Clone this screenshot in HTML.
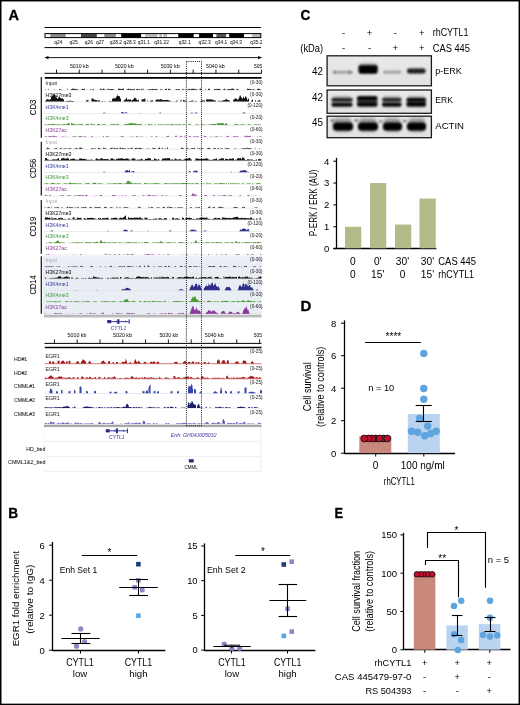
<!DOCTYPE html>
<html><head><meta charset="utf-8"><title>Figure</title>
<style>
html,body{margin:0;padding:0;background:#fff;width:520px;height:705px;overflow:hidden}
svg{display:block;filter:blur(0.35px)}
svg text{font-family:"Liberation Sans", sans-serif}
</style></head><body>
<svg width="520" height="705" viewBox="0 0 520 705" font-family="Liberation Sans, sans-serif">
<rect width="520" height="705" fill="#fff"/>
<text x="8.4" y="20" font-size="14.4" stroke="#000" stroke-width="0.3" font-weight="bold" textLength="10.53" lengthAdjust="spacingAndGlyphs">A</text>
<line x1="44.5" y1="27.5" x2="261" y2="27.5" stroke="#000" stroke-width="1"/>
<line x1="44.5" y1="47.6" x2="261" y2="47.6" stroke="#000" stroke-width="1"/>
<rect x="45" y="33.6" width="5.3" height="4.1" fill="#fff"/>
<rect x="50.3" y="33.6" width="15.5" height="4.1" fill="#8a8a8a"/>
<rect x="65.8" y="33.6" width="15.2" height="4.1" fill="#fff"/>
<rect x="81" y="33.6" width="15.9" height="4.1" fill="#444"/>
<rect x="96.9" y="33.6" width="7.4" height="4.1" fill="#fff"/>
<rect x="104.3" y="33.6" width="11.6" height="4.1" fill="#8a8a8a"/>
<rect x="115.9" y="33.6" width="5.3" height="4.1" fill="#fff"/>
<rect x="121.2" y="33.6" width="20.1" height="4.1" fill="#000"/>
<rect x="141.3" y="33.6" width="3.8" height="4.1" fill="#fff"/>
<rect x="145.1" y="33.6" width="12.6" height="4.1" fill="#bbb"/>
<rect x="157.7" y="33.6" width="1.6" height="4.1" fill="#fff"/>
<rect x="159.3" y="33.6" width="2.9" height="4.1" fill="#bbb"/>
<rect x="162.2" y="33.6" width="1.1" height="4.1" fill="#fff"/>
<rect x="163.3" y="33.6" width="4" height="4.1" fill="#bbb"/>
<rect x="167.3" y="33.6" width="11" height="4.1" fill="#fff"/>
<rect x="178.3" y="33.6" width="15.5" height="4.1" fill="#000"/>
<rect x="193.8" y="33.6" width="5.3" height="4.1" fill="#fff"/>
<rect x="199.1" y="33.6" width="13.9" height="4.1" fill="#000"/>
<rect x="213" y="33.6" width="3.4" height="4.1" fill="#fff"/>
<rect x="216.4" y="33.6" width="9.9" height="4.1" fill="#555"/>
<rect x="226.3" y="33.6" width="2.9" height="4.1" fill="#fff"/>
<rect x="229.2" y="33.6" width="14.8" height="4.1" fill="#000"/>
<rect x="244" y="33.6" width="8.2" height="4.1" fill="#fff"/>
<rect x="252.2" y="33.6" width="8.6" height="4.1" fill="#bbb"/>
<rect x="45" y="33.6" width="215.8" height="4" fill="none" stroke="#000" stroke-width="1"/>
<text x="58.4" y="44.34" font-size="5.4" text-anchor="middle" fill="#222" stroke="#222" stroke-width="0.05" textLength="8.11" lengthAdjust="spacingAndGlyphs">q24</text>
<text x="73.6" y="44.34" font-size="5.4" text-anchor="middle" fill="#222" stroke="#222" stroke-width="0.05" textLength="8.11" lengthAdjust="spacingAndGlyphs">q25</text>
<text x="88.8" y="44.34" font-size="5.4" text-anchor="middle" fill="#222" stroke="#222" stroke-width="0.05" textLength="8.11" lengthAdjust="spacingAndGlyphs">q26</text>
<text x="100" y="44.34" font-size="5.4" text-anchor="middle" fill="#222" stroke="#222" stroke-width="0.05" textLength="8.11" lengthAdjust="spacingAndGlyphs">q27</text>
<text x="115.9" y="44.34" font-size="5.4" text-anchor="middle" fill="#222" stroke="#222" stroke-width="0.05" textLength="12.16" lengthAdjust="spacingAndGlyphs">q28.2</text>
<text x="129.7" y="44.34" font-size="5.4" text-anchor="middle" fill="#222" stroke="#222" stroke-width="0.05" textLength="12.16" lengthAdjust="spacingAndGlyphs">q28.3</text>
<text x="143.9" y="44.34" font-size="5.4" text-anchor="middle" fill="#222" stroke="#222" stroke-width="0.05" textLength="12.16" lengthAdjust="spacingAndGlyphs">q31.1</text>
<text x="161.6" y="44.34" font-size="5.4" text-anchor="middle" fill="#222" stroke="#222" stroke-width="0.05" textLength="14.86" lengthAdjust="spacingAndGlyphs">q31.22</text>
<text x="184.8" y="44.34" font-size="5.4" text-anchor="middle" fill="#222" stroke="#222" stroke-width="0.05" textLength="12.16" lengthAdjust="spacingAndGlyphs">q32.1</text>
<text x="204.6" y="44.34" font-size="5.4" text-anchor="middle" fill="#222" stroke="#222" stroke-width="0.05" textLength="12.16" lengthAdjust="spacingAndGlyphs">q32.3</text>
<text x="221.2" y="44.34" font-size="5.4" text-anchor="middle" fill="#222" stroke="#222" stroke-width="0.05" textLength="12.16" lengthAdjust="spacingAndGlyphs">q34.1</text>
<text x="236" y="44.34" font-size="5.4" text-anchor="middle" fill="#222" stroke="#222" stroke-width="0.05" textLength="12.16" lengthAdjust="spacingAndGlyphs">q34.3</text>
<text x="256.4" y="44.34" font-size="5.4" text-anchor="middle" fill="#222" stroke="#222" stroke-width="0.05" textLength="12.16" lengthAdjust="spacingAndGlyphs">q35.2</text>
<line x1="46" y1="57.6" x2="260.5" y2="57.6" stroke="#000" stroke-width="0.9"/>
<path d="M44.5 57.6 L48.5 55.9 L48.5 59.3 Z" fill="#000"/>
<path d="M262 57.6 L258 55.9 L258 59.3 Z" fill="#000"/>
<line x1="44.5" y1="73.3" x2="261.5" y2="73.3" stroke="#000" stroke-width="1"/>
<line x1="56.5" y1="69.6" x2="56.5" y2="73.3" stroke="#000" stroke-width="0.9"/>
<line x1="79.28" y1="69.6" x2="79.28" y2="73.3" stroke="#000" stroke-width="0.9"/>
<line x1="102.06" y1="69.6" x2="102.06" y2="73.3" stroke="#000" stroke-width="0.9"/>
<line x1="124.84" y1="69.6" x2="124.84" y2="73.3" stroke="#000" stroke-width="0.9"/>
<line x1="147.62" y1="69.6" x2="147.62" y2="73.3" stroke="#000" stroke-width="0.9"/>
<line x1="170.4" y1="69.6" x2="170.4" y2="73.3" stroke="#000" stroke-width="0.9"/>
<line x1="193.18" y1="69.6" x2="193.18" y2="73.3" stroke="#000" stroke-width="0.9"/>
<line x1="215.96" y1="69.6" x2="215.96" y2="73.3" stroke="#000" stroke-width="0.9"/>
<line x1="238.74" y1="69.6" x2="238.74" y2="73.3" stroke="#000" stroke-width="0.9"/>
<line x1="261.52" y1="69.6" x2="261.52" y2="73.3" stroke="#000" stroke-width="0.9"/>
<text x="79.3" y="67.66" font-size="6" text-anchor="middle" fill="#222" stroke="#222" stroke-width="0.05" textLength="18.8" lengthAdjust="spacingAndGlyphs">5010 kb</text>
<text x="124.3" y="67.66" font-size="6" text-anchor="middle" fill="#222" stroke="#222" stroke-width="0.05" textLength="18.8" lengthAdjust="spacingAndGlyphs">5020 kb</text>
<text x="170.2" y="67.66" font-size="6" text-anchor="middle" fill="#222" stroke="#222" stroke-width="0.05" textLength="18.8" lengthAdjust="spacingAndGlyphs">5030 kb</text>
<text x="215.4" y="67.66" font-size="6" text-anchor="middle" fill="#222" stroke="#222" stroke-width="0.05" textLength="18.8" lengthAdjust="spacingAndGlyphs">5040 kb</text>
<text x="262.2" y="67.66" font-size="6" text-anchor="end" fill="#222" stroke="#222" stroke-width="0.05" textLength="8.2" lengthAdjust="spacingAndGlyphs">505</text>
<line x1="44.8" y1="77.8" x2="261.5" y2="77.8" stroke="#000" stroke-width="1.7"/>
<rect x="42.6" y="256.3" width="218.9" height="58.5" fill="#e9eef5"/>
<line x1="41.3" y1="77" x2="41.3" y2="137.8" stroke="#111" stroke-width="1.2"/>
<text transform="translate(33,107.4) rotate(-90)" x="0" y="3.1" font-size="8.6" text-anchor="middle" stroke="#000" stroke-width="0.05" textLength="15.6" lengthAdjust="spacingAndGlyphs">CD3</text>
<line x1="44.5" y1="90.2" x2="261.5" y2="90.2" stroke="#dcdcdc" stroke-width="0.6"/>
<text x="45.5" y="85.17" font-size="5.2" fill="#444" stroke="#444" stroke-width="0.05">Input</text>
<text x="262.6" y="83.89" font-size="4.7" text-anchor="end" fill="#333" stroke="#333" stroke-width="0.05">(0-30)</text>
<line x1="44.5" y1="101.9" x2="261.5" y2="101.9" stroke="#dcdcdc" stroke-width="0.6"/>
<text x="45.5" y="96.87" font-size="5.2" fill="#222" stroke="#222" stroke-width="0.05">H3K27me3</text>
<text x="262.6" y="95.59" font-size="4.7" text-anchor="end" fill="#333" stroke="#333" stroke-width="0.05">(0-30)</text>
<line x1="44.5" y1="113.6" x2="261.5" y2="113.6" stroke="#dcdcdc" stroke-width="0.6"/>
<text x="45.5" y="108.57" font-size="5.2" fill="#4a4aa2" stroke="#4a4aa2" stroke-width="0.05">H3K4me1</text>
<text x="262.6" y="107.29" font-size="4.7" text-anchor="end" fill="#333" stroke="#333" stroke-width="0.05">(0-120)</text>
<line x1="44.5" y1="125.3" x2="261.5" y2="125.3" stroke="#dcdcdc" stroke-width="0.6"/>
<text x="45.5" y="120.27" font-size="5.2" fill="#55a055" stroke="#55a055" stroke-width="0.05">H3K4me3</text>
<text x="262.6" y="118.99" font-size="4.7" text-anchor="end" fill="#333" stroke="#333" stroke-width="0.05">(0-20)</text>
<line x1="44.5" y1="137" x2="261.5" y2="137" stroke="#dcdcdc" stroke-width="0.6"/>
<text x="45.5" y="131.97" font-size="5.2" fill="#964ea4" stroke="#964ea4" stroke-width="0.05">H3K27ac</text>
<text x="262.6" y="130.69" font-size="4.7" text-anchor="end" fill="#333" stroke="#333" stroke-width="0.05">(0-60)</text>
<line x1="41.3" y1="141.8" x2="41.3" y2="195.4" stroke="#111" stroke-width="1.2"/>
<text transform="translate(33,168.5) rotate(-90)" x="0" y="3.1" font-size="8.6" text-anchor="middle" stroke="#000" stroke-width="0.05" textLength="19.6" lengthAdjust="spacingAndGlyphs">CD56</text>
<line x1="44.5" y1="149.2" x2="261.5" y2="149.2" stroke="#dcdcdc" stroke-width="0.6"/>
<text x="45.5" y="144.17" font-size="5.2" fill="#b5b5b5" stroke="#b5b5b5" stroke-width="0.05">Input</text>
<text x="262.6" y="142.89" font-size="4.7" text-anchor="end" fill="#333" stroke="#333" stroke-width="0.05">(0-30)</text>
<line x1="44.5" y1="160.9" x2="261.5" y2="160.9" stroke="#dcdcdc" stroke-width="0.6"/>
<text x="45.5" y="155.87" font-size="5.2" fill="#222" stroke="#222" stroke-width="0.05">H3K27me3</text>
<text x="262.6" y="154.59" font-size="4.7" text-anchor="end" fill="#333" stroke="#333" stroke-width="0.05">(0-30)</text>
<line x1="44.5" y1="172.6" x2="261.5" y2="172.6" stroke="#dcdcdc" stroke-width="0.6"/>
<text x="45.5" y="167.57" font-size="5.2" fill="#4a4aa2" stroke="#4a4aa2" stroke-width="0.05">H3K4me1</text>
<text x="262.6" y="166.29" font-size="4.7" text-anchor="end" fill="#333" stroke="#333" stroke-width="0.05">(0-120)</text>
<line x1="44.5" y1="184.3" x2="261.5" y2="184.3" stroke="#dcdcdc" stroke-width="0.6"/>
<text x="45.5" y="179.27" font-size="5.2" fill="#55a055" stroke="#55a055" stroke-width="0.05">H3K4me3</text>
<text x="262.6" y="177.99" font-size="4.7" text-anchor="end" fill="#333" stroke="#333" stroke-width="0.05">(0-20)</text>
<line x1="44.5" y1="196" x2="261.5" y2="196" stroke="#dcdcdc" stroke-width="0.6"/>
<text x="45.5" y="190.97" font-size="5.2" fill="#964ea4" stroke="#964ea4" stroke-width="0.05">H3K27ac</text>
<text x="262.6" y="189.69" font-size="4.7" text-anchor="end" fill="#333" stroke="#333" stroke-width="0.05">(0-60)</text>
<line x1="41.3" y1="200" x2="41.3" y2="253.7" stroke="#111" stroke-width="1.2"/>
<text transform="translate(33,226.7) rotate(-90)" x="0" y="3.1" font-size="8.6" text-anchor="middle" stroke="#000" stroke-width="0.05" textLength="19.8" lengthAdjust="spacingAndGlyphs">CD19</text>
<line x1="44.5" y1="208.2" x2="261.5" y2="208.2" stroke="#dcdcdc" stroke-width="0.6"/>
<text x="45.5" y="203.17" font-size="5.2" fill="#b5b5b5" stroke="#b5b5b5" stroke-width="0.05">Input</text>
<text x="262.6" y="201.89" font-size="4.7" text-anchor="end" fill="#333" stroke="#333" stroke-width="0.05">(0-30)</text>
<line x1="44.5" y1="219.9" x2="261.5" y2="219.9" stroke="#dcdcdc" stroke-width="0.6"/>
<text x="45.5" y="214.87" font-size="5.2" fill="#222" stroke="#222" stroke-width="0.05">H3K27me3</text>
<text x="262.6" y="213.59" font-size="4.7" text-anchor="end" fill="#333" stroke="#333" stroke-width="0.05">(0-30)</text>
<line x1="44.5" y1="231.6" x2="261.5" y2="231.6" stroke="#dcdcdc" stroke-width="0.6"/>
<text x="45.5" y="226.57" font-size="5.2" fill="#4a4aa2" stroke="#4a4aa2" stroke-width="0.05">H3K4me1</text>
<text x="262.6" y="225.29" font-size="4.7" text-anchor="end" fill="#333" stroke="#333" stroke-width="0.05">(0-120)</text>
<line x1="44.5" y1="243.3" x2="261.5" y2="243.3" stroke="#dcdcdc" stroke-width="0.6"/>
<text x="45.5" y="238.27" font-size="5.2" fill="#55a055" stroke="#55a055" stroke-width="0.05">H3K4me3</text>
<text x="262.6" y="236.99" font-size="4.7" text-anchor="end" fill="#333" stroke="#333" stroke-width="0.05">(0-20)</text>
<line x1="44.5" y1="255" x2="261.5" y2="255" stroke="#dcdcdc" stroke-width="0.6"/>
<text x="45.5" y="249.97" font-size="5.2" fill="#964ea4" stroke="#964ea4" stroke-width="0.05">H3K27ac</text>
<text x="262.6" y="248.69" font-size="4.7" text-anchor="end" fill="#333" stroke="#333" stroke-width="0.05">(0-60)</text>
<line x1="41.3" y1="256.3" x2="41.3" y2="313.8" stroke="#111" stroke-width="1.2"/>
<text transform="translate(33,284.9) rotate(-90)" x="0" y="3.1" font-size="8.6" text-anchor="middle" stroke="#000" stroke-width="0.05" textLength="19.4" lengthAdjust="spacingAndGlyphs">CD14</text>
<line x1="44.5" y1="267.2" x2="261.5" y2="267.2" stroke="#dcdcdc" stroke-width="0.6"/>
<text x="45.5" y="262.17" font-size="5.2" fill="#b5b5b5" stroke="#b5b5b5" stroke-width="0.05">Input</text>
<text x="262.6" y="260.89" font-size="4.7" text-anchor="end" fill="#333" stroke="#333" stroke-width="0.05">(0-30)</text>
<line x1="44.5" y1="278.9" x2="261.5" y2="278.9" stroke="#dcdcdc" stroke-width="0.6"/>
<text x="45.5" y="273.87" font-size="5.2" fill="#222" stroke="#222" stroke-width="0.05">H3K27me3</text>
<text x="262.6" y="272.59" font-size="4.7" text-anchor="end" fill="#333" stroke="#333" stroke-width="0.05">(0-30)</text>
<line x1="44.5" y1="290.6" x2="261.5" y2="290.6" stroke="#dcdcdc" stroke-width="0.6"/>
<text x="45.5" y="285.57" font-size="5.2" fill="#4a4aa2" stroke="#4a4aa2" stroke-width="0.05">H3K4me1</text>
<text x="262.6" y="284.29" font-size="4.7" text-anchor="end" fill="#333" stroke="#333" stroke-width="0.05">(0-120)</text>
<line x1="44.5" y1="302.3" x2="261.5" y2="302.3" stroke="#dcdcdc" stroke-width="0.6"/>
<text x="45.5" y="297.27" font-size="5.2" fill="#55a055" stroke="#55a055" stroke-width="0.05">H3K4me3</text>
<text x="262.6" y="295.99" font-size="4.7" text-anchor="end" fill="#333" stroke="#333" stroke-width="0.05">(0-20)</text>
<line x1="44.5" y1="314" x2="261.5" y2="314" stroke="#dcdcdc" stroke-width="0.6"/>
<text x="45.5" y="308.97" font-size="5.2" fill="#964ea4" stroke="#964ea4" stroke-width="0.05">H3K27ac</text>
<text x="262.6" y="307.69" font-size="4.7" text-anchor="end" fill="#333" stroke="#333" stroke-width="0.05">(0-60)</text>
<rect x="44" y="314.9" width="217.5" height="2.5" fill="#b0b0b0"/>
<line x1="44" y1="316.2" x2="261.5" y2="316.2" stroke="#d8d8d8" stroke-width="0.5"/>
<path d="M45.5 89.9L45.5 89.13L46 89.13L46 89.9ZM48 89.9L48 88.85L48.5 88.85L48.5 89.9ZM54.5 89.9L54.5 89.24L55 89.24L55 89.9ZM59 89.9L59 89.15L59.5 89.15L59.5 89.27L60 89.27L60 89.27L60.5 89.27L60.5 89.27L61 89.27L61 89.17L61.5 89.17L61.5 89.9ZM67.5 89.9L67.5 88.43L68 88.43L68 89.9ZM71 89.9L71 88.97L71.5 88.97L71.5 88.9L72 88.9L72 88.44L72.5 88.44L72.5 88.76L73 88.76L73 88.82L73.5 88.82L73.5 88.65L74 88.65L74 88.87L74.5 88.87L74.5 88.7L75 88.7L75 88.89L75.5 88.89L75.5 89.18L76 89.18L76 89.15L76.5 89.15L76.5 88.78L77 88.78L77 89.6L77.5 89.6L77.5 89.44L78 89.44L78 89.37L78.5 89.37L78.5 89.9ZM81 89.9L81 89.49L81.5 89.49L81.5 89.43L82 89.43L82 88.87L82.5 88.87L82.5 89.05L83 89.05L83 89.11L83.5 89.11L83.5 89.2L84 89.2L84 89.06L84.5 89.06L84.5 88.51L85 88.51L85 89.9ZM90 89.9L90 89.37L90.5 89.37L90.5 89.45L91 89.45L91 89.9ZM92 89.9L92 89.28L92.5 89.28L92.5 89.2L93 89.2L93 89.17L93.5 89.17L93.5 89.17L94 89.17L94 89.9ZM100 89.9L100 89.03L100.5 89.03L100.5 88.48L101 88.48L101 88.76L101.5 88.76L101.5 89.39L102 89.39L102 89.47L102.5 89.47L102.5 89.54L103 89.54L103 88.62L103.5 88.62L103.5 88.62L104 88.62L104 89.26L104.5 89.26L104.5 89.43L105 89.43L105 89.29L105.5 89.29L105.5 89.9ZM107.5 89.9L107.5 88.76L108 88.76L108 88.96L108.5 88.96L108.5 88.7L109 88.7L109 89.38L109.5 89.38L109.5 89.13L110 89.13L110 88.94L110.5 88.94L110.5 89.31L111 89.31L111 88.99L111.5 88.99L111.5 88.93L112 88.93L112 89L112.5 89L112.5 89.11L113 89.11L113 89.49L113.5 89.49L113.5 89.48L114 89.48L114 89.48L114.5 89.48L114.5 89.9ZM118 89.9L118 89.09L118.5 89.09L118.5 88.58L119 88.58L119 88.59L119.5 88.59L119.5 88.65L120 88.65L120 88.75L120.5 88.75L120.5 89.12L121 89.12L121 89.02L121.5 89.02L121.5 88.99L122 88.99L122 88.81L122.5 88.81L122.5 88.73L123 88.73L123 88.53L123.5 88.53L123.5 88.6L124 88.6L124 89.9ZM126.5 89.9L126.5 89.44L127 89.44L127 89.34L127.5 89.34L127.5 89.28L128 89.28L128 88.88L128.5 88.88L128.5 88.54L129 88.54L129 88.99L129.5 88.99L129.5 88.93L130 88.93L130 88.41L130.5 88.41L130.5 89.24L131 89.24L131 89.33L131.5 89.33L131.5 89.14L132 89.14L132 89.23L132.5 89.23L132.5 89.1L133 89.1L133 89.25L133.5 89.25L133.5 89.29L134 89.29L134 89.27L134.5 89.27L134.5 88.87L135 88.87L135 89.9ZM136 89.9L136 88.81L136.5 88.81L136.5 89.24L137 89.24L137 89L137.5 89L137.5 89.15L138 89.15L138 89.27L138.5 89.27L138.5 89.14L139 89.14L139 89.31L139.5 89.31L139.5 89.37L140 89.37L140 89.9ZM141 89.9L141 89.31L141.5 89.31L141.5 88.81L142 88.81L142 89.45L142.5 89.45L142.5 89.3L143 89.3L143 88.5L143.5 88.5L143.5 89.9ZM147.5 89.9L147.5 89.4L148 89.4L148 89.5L148.5 89.5L148.5 89.25L149 89.25L149 89.2L149.5 89.2L149.5 89.23L150 89.23L150 89.37L150.5 89.37L150.5 89.27L151 89.27L151 89.15L151.5 89.15L151.5 89.21L152 89.21L152 88.75L152.5 88.75L152.5 88.98L153 88.98L153 88.9L153.5 88.9L153.5 89.16L154 89.16L154 89.19L154.5 89.19L154.5 89.27L155 89.27L155 89.13L155.5 89.13L155.5 88.84L156 88.84L156 88.98L156.5 88.98L156.5 89.32L157 89.32L157 89.33L157.5 89.33L157.5 89.9ZM160 89.9L160 89.4L160.5 89.4L160.5 89.34L161 89.34L161 89.54L161.5 89.54L161.5 89.46L162 89.46L162 89.29L162.5 89.29L162.5 89.9ZM165 89.9L165 89.02L165.5 89.02L165.5 88.8L166 88.8L166 88.61L166.5 88.61L166.5 89.14L167 89.14L167 89.9ZM168 89.9L168 88.73L168.5 88.73L168.5 88.87L169 88.87L169 89.14L169.5 89.14L169.5 89.07L170 89.07L170 88.88L170.5 88.88L170.5 89.9ZM175.5 89.9L175.5 89.3L176 89.3L176 89.06L176.5 89.06L176.5 89.34L177 89.34L177 89.38L177.5 89.38L177.5 89.13L178 89.13L178 89.37L178.5 89.37L178.5 89L179 89L179 89.29L179.5 89.29L179.5 89.16L180 89.16L180 89.9ZM182 89.9L182 89.36L182.5 89.36L182.5 88.86L183 88.86L183 88.65L183.5 88.65L183.5 89.9ZM184.5 89.9L184.5 89.42L185 89.42L185 89.24L185.5 89.24L185.5 89.9ZM187.5 89.9L187.5 89.11L188 89.11L188 89.23L188.5 89.23L188.5 88.89L189 88.89L189 88.93L189.5 88.93L189.5 88.76L190 88.76L190 89.15L190.5 89.15L190.5 89.9ZM191 89.9L191 88.65L191.5 88.65L191.5 88.99L192 88.99L192 88.76L192.5 88.76L192.5 88.8L193 88.8L193 88.88L193.5 88.88L193.5 88.73L194 88.73L194 88.71L194.5 88.71L194.5 88.67L195 88.67L195 89.41L195.5 89.41L195.5 89.25L196 89.25L196 89.32L196.5 89.32L196.5 89.3L197 89.3L197 89.39L197.5 89.39L197.5 89.9ZM199.5 89.9L199.5 88.78L200 88.78L200 88.5L200.5 88.5L200.5 88.8L201 88.8L201 89.9ZM201.5 89.9L201.5 88.45L202 88.45L202 89.9ZM205.5 89.9L205.5 88.43L206 88.43L206 89.9ZM208 89.9L208 88.8L208.5 88.8L208.5 88.68L209 88.68L209 88.77L209.5 88.77L209.5 88.95L210 88.95L210 89.9ZM214 89.9L214 89.17L214.5 89.17L214.5 89.01L215 89.01L215 89.19L215.5 89.19L215.5 88.94L216 88.94L216 88.81L216.5 88.81L216.5 89.15L217 89.15L217 89.11L217.5 89.11L217.5 88.97L218 88.97L218 88.69L218.5 88.69L218.5 88.92L219 88.92L219 88.67L219.5 88.67L219.5 88.94L220 88.94L220 88.98L220.5 88.98L220.5 89.9ZM223 89.9L223 89.34L223.5 89.34L223.5 89.53L224 89.53L224 88.53L224.5 88.53L224.5 89.08L225 89.08L225 89.23L225.5 89.23L225.5 89.9ZM227 89.9L227 89.17L227.5 89.17L227.5 89.23L228 89.23L228 89.19L228.5 89.19L228.5 89.04L229 89.04L229 89.14L229.5 89.14L229.5 89.25L230 89.25L230 89.1L230.5 89.1L230.5 88.92L231 88.92L231 88.68L231.5 88.68L231.5 88.74L232 88.74L232 88.45L232.5 88.45L232.5 88.6L233 88.6L233 88.42L233.5 88.42L233.5 89.13L234 89.13L234 88.94L234.5 88.94L234.5 89.9ZM236.5 89.9L236.5 88.75L237 88.75L237 88.89L237.5 88.89L237.5 88.75L238 88.75L238 89.23L238.5 89.23L238.5 89.9ZM247 89.9L247 88.56L247.5 88.56L247.5 88.82L248 88.82L248 88.63L248.5 88.63L248.5 88.89L249 88.89L249 88.78L249.5 88.78L249.5 89.33L250 89.33L250 89.12L250.5 89.12L250.5 89.01L251 89.01L251 89.47L251.5 89.47L251.5 89.55L252 89.55L252 89.4L252.5 89.4L252.5 89.55L253 89.55L253 88.88L253.5 88.88L253.5 89.37L254 89.37L254 89.46L254.5 89.46L254.5 89.9ZM257 89.9L257 89.1L257.5 89.1L257.5 88.81L258 88.81L258 88.78L258.5 88.78L258.5 88.72L259 88.72L259 88.96L259.5 88.96L259.5 88.96L260 88.96L260 88.91L260.5 88.91L260.5 89.9Z" fill="#333"/>
<path d="M44.5 101.6L44.5 101.18L45 101.18L45 101.29L45.5 101.29L45.5 101.12L46 101.12L46 99.43L46.5 99.43L46.5 99.36L47 99.36L47 98.71L47.5 98.71L47.5 99.65L48 99.65L48 99.52L48.5 99.52L48.5 99.42L49 99.42L49 99.82L49.5 99.82L49.5 99.64L50 99.64L50 99.26L50.5 99.26L50.5 99.11L51 99.11L51 96.86L51.5 96.86L51.5 96.47L52 96.47L52 95.92L52.5 95.92L52.5 96.23L53 96.23L53 94.8L53.5 94.8L53.5 94.51L54 94.51L54 93.88L54.5 93.88L54.5 94.84L55 94.84L55 94.79L55.5 94.79L55.5 97.24L56 97.24L56 96.53L56.5 96.53L56.5 97.93L57 97.93L57 98.41L57.5 98.41L57.5 98.67L58 98.67L58 98.33L58.5 98.33L58.5 96.81L59 96.81L59 96.88L59.5 96.88L59.5 97.25L60 97.25L60 97.71L60.5 97.71L60.5 98.12L61 98.12L61 98.52L61.5 98.52L61.5 98.48L62 98.48L62 98.02L62.5 98.02L62.5 98.69L63 98.69L63 99.12L63.5 99.12L63.5 99.45L64 99.45L64 101.6ZM64.5 101.6L64.5 101.29L65 101.29L65 101.21L65.5 101.21L65.5 101.22L66 101.22L66 101.09L66.5 101.09L66.5 100.93L67 100.93L67 100.93L67.5 100.93L67.5 100.84L68 100.84L68 100.92L68.5 100.92L68.5 100.88L69 100.88L69 100.77L69.5 100.77L69.5 100.72L70 100.72L70 100.84L70.5 100.84L70.5 100.81L71 100.81L71 100.83L71.5 100.83L71.5 100.89L72 100.89L72 100.96L72.5 100.96L72.5 100.94L73 100.94L73 101.01L73.5 101.01L73.5 101.06L74 101.06L74 101.6ZM86 101.6L86 100.62L86.5 100.62L86.5 100.27L87 100.27L87 100.13L87.5 100.13L87.5 99.91L88 99.91L88 99.96L88.5 99.96L88.5 101.6ZM91.5 101.6L91.5 98.61L92 98.61L92 98.18L92.5 98.18L92.5 98.41L93 98.41L93 98.79L93.5 98.79L93.5 99.61L94 99.61L94 99.56L94.5 99.56L94.5 99.91L95 99.91L95 99.66L95.5 99.66L95.5 99.92L96 99.92L96 100.11L96.5 100.11L96.5 100.19L97 100.19L97 100.48L97.5 100.48L97.5 100.5L98 100.5L98 100.74L98.5 100.74L98.5 100.16L99 100.16L99 100.28L99.5 100.28L99.5 100.6L100 100.6L100 101.6ZM101 101.6L101 101.25L101.5 101.25L101.5 101.18L102 101.18L102 101.07L102.5 101.07L102.5 100.93L103 100.93L103 101.6ZM104 101.6L104 101.15L104.5 101.15L104.5 100.95L105 100.95L105 101.6ZM109 101.6L109 100.74L109.5 100.74L109.5 100.89L110 100.89L110 100.95L110.5 100.95L110.5 101.03L111 101.03L111 101.14L111.5 101.14L111.5 101.16L112 101.16L112 99.33L112.5 99.33L112.5 98.52L113 98.52L113 98.43L113.5 98.43L113.5 97.64L114 97.64L114 98.47L114.5 98.47L114.5 98.34L115 98.34L115 98.37L115.5 98.37L115.5 98.11L116 98.11L116 96.92L116.5 96.92L116.5 96.13L117 96.13L117 95.73L117.5 95.73L117.5 94.41L118 94.41L118 95.91L118.5 95.91L118.5 96.06L119 96.06L119 96.12L119.5 96.12L119.5 96.73L120 96.73L120 98.18L120.5 98.18L120.5 98.73L121 98.73L121 101.6ZM123.5 101.6L123.5 100.82L124 100.82L124 100.32L124.5 100.32L124.5 99.83L125 99.83L125 99.48L125.5 99.48L125.5 99.16L126 99.16L126 98.27L126.5 98.27L126.5 97.51L127 97.51L127 99.66L127.5 99.66L127.5 99.75L128 99.75L128 99.56L128.5 99.56L128.5 99.62L129 99.62L129 99.49L129.5 99.49L129.5 99.44L130 99.44L130 99.65L130.5 99.65L130.5 99.2L131 99.2L131 100.72L131.5 100.72L131.5 100.25L132 100.25L132 99.96L132.5 99.96L132.5 99.81L133 99.81L133 99.38L133.5 99.38L133.5 98.89L134 98.89L134 97.48L134.5 97.48L134.5 98.12L135 98.12L135 97.78L135.5 97.78L135.5 98.42L136 98.42L136 98.61L136.5 98.61L136.5 99.67L137 99.67L137 100.42L137.5 100.42L137.5 100.09L138 100.09L138 99.68L138.5 99.68L138.5 99.75L139 99.75L139 101.6ZM141.5 101.6L141.5 99.65L142 99.65L142 99.3L142.5 99.3L142.5 99.14L143 99.14L143 99.13L143.5 99.13L143.5 99.29L144 99.29L144 99.55L144.5 99.55L144.5 98L145 98L145 98.68L145.5 98.68L145.5 101.6ZM147.5 101.6L147.5 99.94L148 99.94L148 101.6ZM150 101.6L150 100.82L150.5 100.82L150.5 100.67L151 100.67L151 100.56L151.5 100.56L151.5 100.55L152 100.55L152 100.53L152.5 100.53L152.5 100.2L153 100.2L153 101.6ZM155.5 101.6L155.5 99.64L156 99.64L156 99.75L156.5 99.75L156.5 99.79L157 99.79L157 99.59L157.5 99.59L157.5 99.25L158 99.25L158 99.5L158.5 99.5L158.5 99.42L159 99.42L159 99.63L159.5 99.63L159.5 99.41L160 99.41L160 99.26L160.5 99.26L160.5 98.95L161 98.95L161 98.93L161.5 98.93L161.5 99.9L162 99.9L162 99.83L162.5 99.83L162.5 100L163 100L163 100.1L163.5 100.1L163.5 100.06L164 100.06L164 100.22L164.5 100.22L164.5 100L165 100L165 99.95L165.5 99.95L165.5 99.99L166 99.99L166 99.96L166.5 99.96L166.5 100.23L167 100.23L167 99.76L167.5 99.76L167.5 100.02L168 100.02L168 99.89L168.5 99.89L168.5 100.57L169 100.57L169 100.54L169.5 100.54L169.5 100.64L170 100.64L170 100.58L170.5 100.58L170.5 101.6ZM172.5 101.6L172.5 100.99L173 100.99L173 101.6ZM175.5 101.6L175.5 100.88L176 100.88L176 100.76L176.5 100.76L176.5 100.7L177 100.7L177 100.5L177.5 100.5L177.5 101.6ZM180.5 101.6L180.5 99.72L181 99.72L181 99.83L181.5 99.83L181.5 101.6ZM183 101.6L183 99.74L183.5 99.74L183.5 100.01L184 100.01L184 100.27L184.5 100.27L184.5 100.46L185 100.46L185 100.44L185.5 100.44L185.5 100.75L186 100.75L186 101.2L186.5 101.2L186.5 101.19L187 101.19L187 101.6ZM188.5 101.6L188.5 101.09L189 101.09L189 101.09L189.5 101.09L189.5 101.16L190 101.16L190 101.16L190.5 101.16L190.5 101.1L191 101.1L191 100.75L191.5 100.75L191.5 100.63L192 100.63L192 100.78L192.5 100.78L192.5 100.48L193 100.48L193 100.59L193.5 100.59L193.5 101.6ZM195 101.6L195 100.87L195.5 100.87L195.5 101L196 101L196 100.91L196.5 100.91L196.5 101.6ZM200 101.6L200 100.94L200.5 100.94L200.5 100.83L201 100.83L201 100.81L201.5 100.81L201.5 100.53L202 100.53L202 100.19L202.5 100.19L202.5 100.52L203 100.52L203 100.46L203.5 100.46L203.5 100.41L204 100.41L204 100.43L204.5 100.43L204.5 100.44L205 100.44L205 101.6ZM206 101.6L206 99.73L206.5 99.73L206.5 99.14L207 99.14L207 99.57L207.5 99.57L207.5 99.33L208 99.33L208 99.43L208.5 99.43L208.5 99.16L209 99.16L209 99.29L209.5 99.29L209.5 99.6L210 99.6L210 99.38L210.5 99.38L210.5 99.4L211 99.4L211 99.56L211.5 99.56L211.5 99.38L212 99.38L212 99.52L212.5 99.52L212.5 99.8L213 99.8L213 99.99L213.5 99.99L213.5 100.15L214 100.15L214 100.18L214.5 100.18L214.5 100.46L215 100.46L215 100.59L215.5 100.59L215.5 100.69L216 100.69L216 101.6ZM218 101.6L218 100.68L218.5 100.68L218.5 100.66L219 100.66L219 100.64L219.5 100.64L219.5 101.6ZM220.5 101.6L220.5 100.67L221 100.67L221 100.72L221.5 100.72L221.5 100.94L222 100.94L222 100.75L222.5 100.75L222.5 100.6L223 100.6L223 100.26L223.5 100.26L223.5 100.15L224 100.15L224 100.27L224.5 100.27L224.5 99.91L225 99.91L225 99.55L225.5 99.55L225.5 99.39L226 99.39L226 99.05L226.5 99.05L226.5 99.3L227 99.3L227 99.74L227.5 99.74L227.5 100.09L228 100.09L228 100.35L228.5 100.35L228.5 100.36L229 100.36L229 100.41L229.5 100.41L229.5 100.6L230 100.6L230 101.6ZM233 101.6L233 100.17L233.5 100.17L233.5 99.56L234 99.56L234 99.19L234.5 99.19L234.5 98.86L235 98.86L235 98.47L235.5 98.47L235.5 98.42L236 98.42L236 98.28L236.5 98.28L236.5 99.05L237 99.05L237 99.38L237.5 99.38L237.5 99.73L238 99.73L238 99.71L238.5 99.71L238.5 98.31L239 98.31L239 97.64L239.5 97.64L239.5 95.68L240 95.68L240 95.35L240.5 95.35L240.5 96.29L241 96.29L241 97.01L241.5 97.01L241.5 98.1L242 98.1L242 99.34L242.5 99.34L242.5 98.03L243 98.03L243 97.43L243.5 97.43L243.5 96.52L244 96.52L244 98.48L244.5 98.48L244.5 97.99L245 97.99L245 96.39L245.5 96.39L245.5 96.62L246 96.62L246 97.23L246.5 97.23L246.5 97.75L247 97.75L247 100.25L247.5 100.25L247.5 99.57L248 99.57L248 98.69L248.5 98.69L248.5 98.45L249 98.45L249 101.6ZM251 101.6L251 100.93L251.5 100.93L251.5 100.36L252 100.36L252 99.95L252.5 99.95L252.5 99.46L253 99.46L253 101.6ZM255 101.6L255 100.15L255.5 100.15L255.5 100.45L256 100.45L256 101.6ZM257 101.6L257 101L257.5 101L257.5 101.23L258 101.23L258 101.04L258.5 101.04L258.5 100.11L259 100.11L259 100.01L259.5 100.01L259.5 100.21L260 100.21L260 100.41L260.5 100.41L260.5 101.6Z" fill="#111"/>
<path d="M103 113.3L103 113L103.5 113L103.5 112.4L104 112.4L104 112.4L104.5 112.4L104.5 112.81L105 112.81L105 113.3ZM106 113.3L106 112.92L106.5 112.92L106.5 112.99L107 112.99L107 113.3ZM121 113.3L121 112.55L121.5 112.55L121.5 111.91L122 111.91L122 112.05L122.5 112.05L122.5 112.33L123 112.33L123 111.97L123.5 111.97L123.5 112.65L124 112.65L124 113.3ZM124.5 113.3L124.5 112.71L125 112.71L125 112.27L125.5 112.27L125.5 112.4L126 112.4L126 112.4L126.5 112.4L126.5 112.28L127 112.28L127 112.7L127.5 112.7L127.5 113.3ZM139 113.3L139 112.89L139.5 112.89L139.5 113.3ZM140 113.3L140 112.88L140.5 112.88L140.5 113.3ZM159.5 113.3L159.5 112.55L160 112.55L160 112.55L160.5 112.55L160.5 112.85L161 112.85L161 113.3ZM190.5 113.3L190.5 112.88L191 112.88L191 112.66L191.5 112.66L191.5 112.55L192 112.55L192 112.55L192.5 112.55L192.5 112.9L193 112.9L193 113.3ZM194.5 113.3L194.5 112.82L195 112.82L195 112.76L195.5 112.76L195.5 112.55L196 112.55L196 112.55L196.5 112.55L196.5 112.42L197 112.42L197 112.87L197.5 112.87L197.5 113.3ZM242.5 113.3L242.5 112.73L243 112.73L243 112.62L243.5 112.62L243.5 112.55L244 112.55L244 112.55L244.5 112.55L244.5 112.53L245 112.53L245 112.71L245.5 112.71L245.5 113.3Z" fill="#2e2e8a"/>
<path d="M44.5 125L44.5 124.25L45 124.25L45 124.43L45.5 124.43L45.5 123.96L46 123.96L46 124.44L46.5 124.44L46.5 125ZM47.5 125L47.5 123.94L48 123.94L48 123.95L48.5 123.95L48.5 123.95L49 123.95L49 124.41L49.5 124.41L49.5 124.39L50 124.39L50 124.25L50.5 124.25L50.5 124.31L51 124.31L51 124.45L51.5 124.45L51.5 123.93L52 123.93L52 123.87L52.5 123.87L52.5 123.92L53 123.92L53 124.36L53.5 124.36L53.5 123.96L54 123.96L54 124.14L54.5 124.14L54.5 124.18L55 124.18L55 124.51L55.5 124.51L55.5 124.5L56 124.5L56 124.31L56.5 124.31L56.5 124.56L57 124.56L57 124.43L57.5 124.43L57.5 124.21L58 124.21L58 124.44L58.5 124.44L58.5 124.22L59 124.22L59 124.54L59.5 124.54L59.5 124.39L60 124.39L60 124.38L60.5 124.38L60.5 124.53L61 124.53L61 125ZM61.5 125L61.5 124.61L62 124.61L62 124.64L62.5 124.64L62.5 124.22L63 124.22L63 124.36L63.5 124.36L63.5 123.9L64 123.9L64 124.01L64.5 124.01L64.5 123.9L65 123.9L65 124.6L65.5 124.6L65.5 125ZM66 125L66 124.26L66.5 124.26L66.5 123.91L67 123.91L67 123.67L67.5 123.67L67.5 123.53L68 123.53L68 123.05L68.5 123.05L68.5 123.12L69 123.12L69 122.89L69.5 122.89L69.5 124.63L70 124.63L70 125ZM71 125L71 123.27L71.5 123.27L71.5 123.23L72 123.23L72 123.55L72.5 123.55L72.5 123.57L73 123.57L73 123.94L73.5 123.94L73.5 123.95L74 123.95L74 124.32L74.5 124.32L74.5 124.26L75 124.26L75 124.32L75.5 124.32L75.5 124.42L76 124.42L76 124.26L76.5 124.26L76.5 124.65L77 124.65L77 124.59L77.5 124.59L77.5 124.58L78 124.58L78 124.65L78.5 124.65L78.5 123.97L79 123.97L79 124.14L79.5 124.14L79.5 124.37L80 124.37L80 124.26L80.5 124.26L80.5 124.25L81 124.25L81 124.32L81.5 124.32L81.5 124.08L82 124.08L82 123.85L82.5 123.85L82.5 124.16L83 124.16L83 125ZM85 125L85 124.54L85.5 124.54L85.5 124.41L86 124.41L86 124.16L86.5 124.16L86.5 124.14L87 124.14L87 123.99L87.5 123.99L87.5 124.02L88 124.02L88 124.11L88.5 124.11L88.5 124.09L89 124.09L89 125ZM90.5 125L90.5 123.69L91 123.69L91 123.33L91.5 123.33L91.5 123.89L92 123.89L92 125ZM92.5 125L92.5 124.03L93 124.03L93 124.35L93.5 124.35L93.5 124.45L94 124.45L94 124.03L94.5 124.03L94.5 124.57L95 124.57L95 125ZM97 125L97 124.07L97.5 124.07L97.5 124.04L98 124.04L98 123.93L98.5 123.93L98.5 124.06L99 124.06L99 123.95L99.5 123.95L99.5 124.36L100 124.36L100 125ZM100.5 125L100.5 124.64L101 124.64L101 125ZM101.5 125L101.5 124.6L102 124.6L102 124.2L102.5 124.2L102.5 124.61L103 124.61L103 124.45L103.5 124.45L103.5 124.6L104 124.6L104 124.51L104.5 124.51L104.5 124.48L105 124.48L105 124.6L105.5 124.6L105.5 124.15L106 124.15L106 125ZM110.5 125L110.5 124.29L111 124.29L111 124.24L111.5 124.24L111.5 123.97L112 123.97L112 124.18L112.5 124.18L112.5 124.31L113 124.31L113 124.32L113.5 124.32L113.5 124.15L114 124.15L114 124.23L114.5 124.23L114.5 124.12L115 124.12L115 125ZM115.5 125L115.5 124.15L116 124.15L116 124.19L116.5 124.19L116.5 124.19L117 124.19L117 124.24L117.5 124.24L117.5 124.3L118 124.3L118 124.01L118.5 124.01L118.5 123.98L119 123.98L119 125ZM124 125L124 124.17L124.5 124.17L124.5 124.34L125 124.34L125 124.36L125.5 124.36L125.5 124.29L126 124.29L126 124.27L126.5 124.27L126.5 124.14L127 124.14L127 123.92L127.5 123.92L127.5 123.94L128 123.94L128 123.53L128.5 123.53L128.5 123.66L129 123.66L129 123.38L129.5 123.38L129.5 123.38L130 123.38L130 123.18L130.5 123.18L130.5 123.19L131 123.19L131 123.03L131.5 123.03L131.5 122.74L132 122.74L132 122.88L132.5 122.88L132.5 123.29L133 123.29L133 123.49L133.5 123.49L133.5 123.66L134 123.66L134 123.21L134.5 123.21L134.5 123.28L135 123.28L135 123.2L135.5 123.2L135.5 123.73L136 123.73L136 123.67L136.5 123.67L136.5 123.93L137 123.93L137 124.04L137.5 124.04L137.5 124.21L138 124.21L138 124.26L138.5 124.26L138.5 124.01L139 124.01L139 124.02L139.5 124.02L139.5 124.18L140 124.18L140 124.17L140.5 124.17L140.5 124.08L141 124.08L141 124.32L141.5 124.32L141.5 124.03L142 124.03L142 125ZM145 125L145 124.6L145.5 124.6L145.5 124.52L146 124.52L146 125ZM148 125L148 124.19L148.5 124.19L148.5 124.12L149 124.12L149 124.04L149.5 124.04L149.5 124.22L150 124.22L150 124.22L150.5 124.22L150.5 124.38L151 124.38L151 124.39L151.5 124.39L151.5 124.53L152 124.53L152 124.34L152.5 124.34L152.5 125ZM154.5 125L154.5 124.62L155 124.62L155 124.57L155.5 124.57L155.5 124.58L156 124.58L156 125ZM158 125L158 124.6L158.5 124.6L158.5 124.11L159 124.11L159 124.54L159.5 124.54L159.5 124.46L160 124.46L160 124.26L160.5 124.26L160.5 124.47L161 124.47L161 124.19L161.5 124.19L161.5 124.57L162 124.57L162 124.43L162.5 124.43L162.5 124.44L163 124.44L163 124.33L163.5 124.33L163.5 125ZM164.5 125L164.5 124.16L165 124.16L165 124.53L165.5 124.53L165.5 124.51L166 124.51L166 124.44L166.5 124.44L166.5 124.48L167 124.48L167 124.55L167.5 124.55L167.5 124.43L168 124.43L168 124.4L168.5 124.4L168.5 124.48L169 124.48L169 124.61L169.5 124.61L169.5 124.39L170 124.39L170 125ZM170.5 125L170.5 124.36L171 124.36L171 123.94L171.5 123.94L171.5 124.08L172 124.08L172 123.97L172.5 123.97L172.5 123.96L173 123.96L173 124.23L173.5 124.23L173.5 125ZM174.5 125L174.5 124.26L175 124.26L175 124.45L175.5 124.45L175.5 124.25L176 124.25L176 124.28L176.5 124.28L176.5 124.43L177 124.43L177 125ZM177.5 125L177.5 124.08L178 124.08L178 124.25L178.5 124.25L178.5 124.39L179 124.39L179 124.37L179.5 124.37L179.5 124.37L180 124.37L180 124.37L180.5 124.37L180.5 124.18L181 124.18L181 125ZM182.5 125L182.5 124.37L183 124.37L183 124.35L183.5 124.35L183.5 124.34L184 124.34L184 124.23L184.5 124.23L184.5 124.52L185 124.52L185 124.56L185.5 124.56L185.5 125ZM188.5 125L188.5 123.89L189 123.89L189 123.84L189.5 123.84L189.5 124.35L190 124.35L190 123.99L190.5 123.99L190.5 124.25L191 124.25L191 125ZM195 125L195 124.59L195.5 124.59L195.5 124.7L196 124.7L196 124.59L196.5 124.59L196.5 124.59L197 124.59L197 124.58L197.5 124.58L197.5 124.28L198 124.28L198 124.4L198.5 124.4L198.5 124.47L199 124.47L199 125ZM201 125L201 123.89L201.5 123.89L201.5 123.9L202 123.9L202 124.17L202.5 124.17L202.5 124.64L203 124.64L203 124.55L203.5 124.55L203.5 124.49L204 124.49L204 124.48L204.5 124.48L204.5 124.48L205 124.48L205 124.55L205.5 124.55L205.5 125ZM207 125L207 124.56L207.5 124.56L207.5 125ZM208.5 125L208.5 124.5L209 124.5L209 124.26L209.5 124.26L209.5 124.41L210 124.41L210 124.4L210.5 124.4L210.5 124.43L211 124.43L211 124.34L211.5 124.34L211.5 124.22L212 124.22L212 123.95L212.5 123.95L212.5 123.97L213 123.97L213 123.8L213.5 123.8L213.5 123.93L214 123.93L214 123.71L214.5 123.71L214.5 124.29L215 124.29L215 124.01L215.5 124.01L215.5 124.37L216 124.37L216 124.51L216.5 124.51L216.5 124.5L217 124.5L217 123.19L217.5 123.19L217.5 123.21L218 123.21L218 123.2L218.5 123.2L218.5 123.01L219 123.01L219 123.23L219.5 123.23L219.5 123.32L220 123.32L220 123.21L220.5 123.21L220.5 123.21L221 123.21L221 123.24L221.5 123.24L221.5 123.1L222 123.1L222 123.26L222.5 123.26L222.5 123.31L223 123.31L223 123.28L223.5 123.28L223.5 123.35L224 123.35L224 124.55L224.5 124.55L224.5 124.53L225 124.53L225 123.3L225.5 123.3L225.5 123.5L226 123.5L226 123.51L226.5 123.51L226.5 123.58L227 123.58L227 124.17L227.5 124.17L227.5 125ZM228.5 125L228.5 124.67L229 124.67L229 124.59L229.5 124.59L229.5 125ZM234.5 125L234.5 124L235 124L235 124.15L235.5 124.15L235.5 124.34L236 124.34L236 123.96L236.5 123.96L236.5 124.09L237 124.09L237 124.24L237.5 124.24L237.5 124.38L238 124.38L238 124.3L238.5 124.3L238.5 125ZM239 125L239 124.62L239.5 124.62L239.5 125ZM240 125L240 124.58L240.5 124.58L240.5 125ZM241 125L241 124.45L241.5 124.45L241.5 124.27L242 124.27L242 124.11L242.5 124.11L242.5 124.59L243 124.59L243 124.68L243.5 124.68L243.5 124.39L244 124.39L244 124.33L244.5 124.33L244.5 124.36L245 124.36L245 125ZM247.5 125L247.5 124.34L248 124.34L248 124.27L248.5 124.27L248.5 124.05L249 124.05L249 124.38L249.5 124.38L249.5 124.11L250 124.11L250 125ZM251 125L251 124.54L251.5 124.54L251.5 124.6L252 124.6L252 125ZM253.5 125L253.5 124.61L254 124.61L254 124.66L254.5 124.66L254.5 124.54L255 124.54L255 124.48L255.5 124.48L255.5 124.33L256 124.33L256 124.24L256.5 124.24L256.5 124.6L257 124.6L257 124.43L257.5 124.43L257.5 124.57L258 124.57L258 124.45L258.5 124.45L258.5 124.29L259 124.29L259 124.4L259.5 124.4L259.5 124.41L260 124.41L260 124.18L260.5 124.18L260.5 125Z" fill="#4d9a33"/>
<path d="M44.5 136.7L44.5 136.17L45 136.17L45 136.13L45.5 136.13L45.5 136.18L46 136.18L46 136.22L46.5 136.22L46.5 136.13L47 136.13L47 136.7ZM48 136.7L48 136.24L48.5 136.24L48.5 136.15L49 136.15L49 136.05L49.5 136.05L49.5 136.14L50 136.14L50 135.86L50.5 135.86L50.5 136.06L51 136.06L51 135.91L51.5 135.91L51.5 136.21L52 136.21L52 136.7ZM52.5 136.7L52.5 136.2L53 136.2L53 135.86L53.5 135.86L53.5 135.79L54 135.79L54 136.02L54.5 136.02L54.5 135.65L55 135.65L55 136.32L55.5 136.32L55.5 136.32L56 136.32L56 136.35L56.5 136.35L56.5 136.28L57 136.28L57 136.7ZM62 136.7L62 136.28L62.5 136.28L62.5 136.17L63 136.17L63 136.32L63.5 136.32L63.5 136.7ZM65.5 136.7L65.5 135.68L66 135.68L66 136.7ZM72.5 136.7L72.5 136.23L73 136.23L73 136.39L73.5 136.39L73.5 136.27L74 136.27L74 136.23L74.5 136.23L74.5 136.22L75 136.22L75 136.15L75.5 136.15L75.5 136.34L76 136.34L76 136.16L76.5 136.16L76.5 136.7ZM78.5 136.7L78.5 136.18L79 136.18L79 135.88L79.5 135.88L79.5 135.99L80 135.99L80 135.92L80.5 135.92L80.5 135.88L81 135.88L81 136.06L81.5 136.06L81.5 136.32L82 136.32L82 136.4L82.5 136.4L82.5 136.7ZM83.5 136.7L83.5 136.25L84 136.25L84 136.37L84.5 136.37L84.5 136.17L85 136.17L85 136.26L85.5 136.26L85.5 136.22L86 136.22L86 136.7ZM91 136.7L91 136.29L91.5 136.29L91.5 136.08L92 136.08L92 136.25L92.5 136.25L92.5 136.2L93 136.2L93 136.7ZM103 136.7L103 135.95L103.5 135.95L103.5 136.1L104 136.1L104 136.7ZM106 136.7L106 136.21L106.5 136.21L106.5 136.18L107 136.18L107 136.04L107.5 136.04L107.5 135.94L108 135.94L108 136.17L108.5 136.17L108.5 136.7ZM120.5 136.7L120.5 136.33L121 136.33L121 136.28L121.5 136.28L121.5 136.23L122 136.23L122 135.97L122.5 135.97L122.5 135.94L123 135.94L123 136.12L123.5 136.12L123.5 136.7ZM131.5 136.7L131.5 136.36L132 136.36L132 136.7ZM132.5 136.7L132.5 136.37L133 136.37L133 136.31L133.5 136.31L133.5 136.7ZM136 136.7L136 135.99L136.5 135.99L136.5 136.19L137 136.19L137 135.94L137.5 135.94L137.5 136.22L138 136.22L138 136.7ZM140.5 136.7L140.5 135.99L141 135.99L141 136.22L141.5 136.22L141.5 136.7ZM143.5 136.7L143.5 136.39L144 136.39L144 136.7ZM151 136.7L151 136.26L151.5 136.26L151.5 136.23L152 136.23L152 136.31L152.5 136.31L152.5 136.7ZM155.5 136.7L155.5 136.17L156 136.17L156 136.09L156.5 136.09L156.5 135.96L157 135.96L157 136.7ZM166.5 136.7L166.5 135.89L167 135.89L167 136.01L167.5 136.01L167.5 136.04L168 136.04L168 135.78L168.5 135.78L168.5 135.94L169 135.94L169 136.7ZM175 136.7L175 135.93L175.5 135.93L175.5 135.65L176 135.65L176 135.67L176.5 135.67L176.5 135.83L177 135.83L177 136.7ZM180 136.7L180 135.98L180.5 135.98L180.5 135.69L181 135.69L181 136.06L181.5 136.06L181.5 136.12L182 136.12L182 136.7ZM184.5 136.7L184.5 135.85L185 135.85L185 136.19L185.5 136.19L185.5 136.7ZM189 136.7L189 136.36L189.5 136.36L189.5 136.09L190 136.09L190 136.03L190.5 136.03L190.5 136.05L191 136.05L191 136.7ZM193 136.7L193 136.18L193.5 136.18L193.5 136.15L194 136.15L194 136.33L194.5 136.33L194.5 136.37L195 136.37L195 136.22L195.5 136.22L195.5 136.7ZM196 136.7L196 136.09L196.5 136.09L196.5 136.16L197 136.16L197 136.13L197.5 136.13L197.5 136.05L198 136.05L198 136.14L198.5 136.14L198.5 136.7ZM203.5 136.7L203.5 136.39L204 136.39L204 135.81L204.5 135.81L204.5 136.13L205 136.13L205 135.99L205.5 135.99L205.5 135.96L206 135.96L206 135.99L206.5 135.99L206.5 136.7ZM210 136.7L210 136.23L210.5 136.23L210.5 136.7ZM211 136.7L211 136.32L211.5 136.32L211.5 136.7ZM213.5 136.7L213.5 136.34L214 136.34L214 136.7ZM215.5 136.7L215.5 136.11L216 136.11L216 136.21L216.5 136.21L216.5 136.04L217 136.04L217 136.25L217.5 136.25L217.5 136.7ZM218 136.7L218 136.24L218.5 136.24L218.5 136.7ZM220.5 136.7L220.5 136.34L221 136.34L221 136.38L221.5 136.38L221.5 136.7ZM226.5 136.7L226.5 135.87L227 135.87L227 136.02L227.5 136.02L227.5 136.1L228 136.1L228 136.02L228.5 136.02L228.5 135.73L229 135.73L229 136.7ZM233 136.7L233 135.96L233.5 135.96L233.5 136.19L234 136.19L234 135.96L234.5 135.96L234.5 136.19L235 136.19L235 136.7ZM235.5 136.7L235.5 135.94L236 135.94L236 136.01L236.5 136.01L236.5 135.79L237 135.79L237 136.14L237.5 136.14L237.5 136.25L238 136.25L238 136.31L238.5 136.31L238.5 136.7ZM244.5 136.7L244.5 135.8L245 135.8L245 135.76L245.5 135.76L245.5 135.89L246 135.89L246 135.82L246.5 135.82L246.5 135.98L247 135.98L247 135.8L247.5 135.8L247.5 136L248 136L248 136.02L248.5 136.02L248.5 136.08L249 136.08L249 136.09L249.5 136.09L249.5 136.02L250 136.02L250 135.93L250.5 135.93L250.5 135.8L251 135.8L251 136.7ZM257 136.7L257 136.22L257.5 136.22L257.5 136.7ZM259.5 136.7L259.5 136.34L260 136.34L260 136.37L260.5 136.37L260.5 136.34L261 136.34L261 136.35L261.5 136.35L261.5 136.7Z" fill="#8a3a9a"/>
<path d="M46.5 148.9L46.5 147.94L47 147.94L47 147.51L47.5 147.51L47.5 147.74L48 147.74L48 147.64L48.5 147.64L48.5 148.38L49 148.38L49 148.09L49.5 148.09L49.5 148.9ZM54.5 148.9L54.5 148.24L55 148.24L55 148.17L55.5 148.17L55.5 148.15L56 148.15L56 148.26L56.5 148.26L56.5 148.03L57 148.03L57 148.9ZM60 148.9L60 147.92L60.5 147.92L60.5 148.02L61 148.02L61 147.6L61.5 147.6L61.5 148.9ZM63.5 148.9L63.5 148.35L64 148.35L64 148.45L64.5 148.45L64.5 148.32L65 148.32L65 148.45L65.5 148.45L65.5 148.29L66 148.29L66 147.98L66.5 147.98L66.5 148.9ZM68.5 148.9L68.5 148.14L69 148.14L69 147.88L69.5 147.88L69.5 148.07L70 148.07L70 148.08L70.5 148.08L70.5 148.9ZM71 148.9L71 148.15L71.5 148.15L71.5 148.9ZM74.5 148.9L74.5 148.23L75 148.23L75 148.44L75.5 148.44L75.5 148.24L76 148.24L76 148.22L76.5 148.22L76.5 147.89L77 147.89L77 147.97L77.5 147.97L77.5 148.9ZM79 148.9L79 147.97L79.5 147.97L79.5 147.82L80 147.82L80 147.79L80.5 147.79L80.5 147.39L81 147.39L81 147.73L81.5 147.73L81.5 147.76L82 147.76L82 148.25L82.5 148.25L82.5 148.9ZM91 148.9L91 148.23L91.5 148.23L91.5 148.16L92 148.16L92 148.42L92.5 148.42L92.5 148.16L93 148.16L93 148.18L93.5 148.18L93.5 148.55L94 148.55L94 148.44L94.5 148.44L94.5 148.51L95 148.51L95 148.38L95.5 148.38L95.5 148.47L96 148.47L96 148.9ZM98 148.9L98 147.8L98.5 147.8L98.5 147.77L99 147.77L99 148.21L99.5 148.21L99.5 148.03L100 148.03L100 147.94L100.5 147.94L100.5 148.9ZM103 148.9L103 147.49L103.5 147.49L103.5 147.98L104 147.98L104 147.73L104.5 147.73L104.5 148.37L105 148.37L105 148.3L105.5 148.3L105.5 148.38L106 148.38L106 148.41L106.5 148.41L106.5 148.9ZM110 148.9L110 148.25L110.5 148.25L110.5 147.93L111 147.93L111 147.92L111.5 147.92L111.5 147.56L112 147.56L112 147.41L112.5 147.41L112.5 148.9ZM113.5 148.9L113.5 147.63L114 147.63L114 147.65L114.5 147.65L114.5 147.92L115 147.92L115 148.9ZM115.5 148.9L115.5 147.96L116 147.96L116 148.18L116.5 148.18L116.5 148.15L117 148.15L117 148.14L117.5 148.14L117.5 148.12L118 148.12L118 148.9ZM119.5 148.9L119.5 147.78L120 147.78L120 147.87L120.5 147.87L120.5 147.61L121 147.61L121 148.9ZM121.5 148.9L121.5 147.96L122 147.96L122 148.1L122.5 148.1L122.5 147.84L123 147.84L123 147.95L123.5 147.95L123.5 147.88L124 147.88L124 148.52L124.5 148.52L124.5 148.43L125 148.43L125 148.55L125.5 148.55L125.5 148.56L126 148.56L126 148.9ZM127.5 148.9L127.5 148.3L128 148.3L128 148.36L128.5 148.36L128.5 148.22L129 148.22L129 148.16L129.5 148.16L129.5 148.9ZM130.5 148.9L130.5 147.87L131 147.87L131 147.93L131.5 147.93L131.5 147.77L132 147.77L132 147.37L132.5 147.37L132.5 148.9ZM134.5 148.9L134.5 148.35L135 148.35L135 147.93L135.5 147.93L135.5 147.91L136 147.91L136 147.84L136.5 147.84L136.5 147.95L137 147.95L137 148.36L137.5 148.36L137.5 148.58L138 148.58L138 148.4L138.5 148.4L138.5 147.87L139 147.87L139 147.82L139.5 147.82L139.5 147.96L140 147.96L140 148.09L140.5 148.09L140.5 147.75L141 147.75L141 148.5L141.5 148.5L141.5 148.32L142 148.32L142 148.37L142.5 148.37L142.5 148.9ZM146.5 148.9L146.5 148.22L147 148.22L147 148.3L147.5 148.3L147.5 148.9ZM149.5 148.9L149.5 148.3L150 148.3L150 148.9ZM152.5 148.9L152.5 147.51L153 147.51L153 148.05L153.5 148.05L153.5 148.02L154 148.02L154 147.88L154.5 147.88L154.5 148.14L155 148.14L155 148.05L155.5 148.05L155.5 148.9ZM158 148.9L158 148.08L158.5 148.08L158.5 147.77L159 147.77L159 147.72L159.5 147.72L159.5 147.34L160 147.34L160 148.9ZM161.5 148.9L161.5 148.14L162 148.14L162 147.84L162.5 147.84L162.5 148.13L163 148.13L163 148.9ZM164.5 148.9L164.5 148.38L165 148.38L165 148.57L165.5 148.57L165.5 148.38L166 148.38L166 148.9ZM167 148.9L167 147.28L167.5 147.28L167.5 147.58L168 147.58L168 148.9ZM181 148.9L181 147.61L181.5 147.61L181.5 147.66L182 147.66L182 147.82L182.5 147.82L182.5 148L183 148L183 148.1L183.5 148.1L183.5 148.9ZM186 148.9L186 148.29L186.5 148.29L186.5 148.34L187 148.34L187 148.17L187.5 148.17L187.5 148.1L188 148.1L188 148.33L188.5 148.33L188.5 148.9ZM190.5 148.9L190.5 148.5L191 148.5L191 148.27L191.5 148.27L191.5 148.41L192 148.41L192 148.28L192.5 148.28L192.5 148.31L193 148.31L193 148.25L193.5 148.25L193.5 148.09L194 148.09L194 147.91L194.5 147.91L194.5 147.86L195 147.86L195 148.9ZM197 148.9L197 147.69L197.5 147.69L197.5 148.9ZM198.5 148.9L198.5 148.5L199 148.5L199 148.11L199.5 148.11L199.5 148.34L200 148.34L200 148.07L200.5 148.07L200.5 148.9ZM201 148.9L201 148.3L201.5 148.3L201.5 148.33L202 148.33L202 148.35L202.5 148.35L202.5 148.34L203 148.34L203 148.3L203.5 148.3L203.5 148.9ZM207 148.9L207 147.95L207.5 147.95L207.5 148.19L208 148.19L208 147.78L208.5 147.78L208.5 147.93L209 147.93L209 148.08L209.5 148.08L209.5 148.03L210 148.03L210 148.32L210.5 148.32L210.5 148.9ZM213.5 148.9L213.5 147.89L214 147.89L214 148.07L214.5 148.07L214.5 148L215 148L215 148.16L215.5 148.16L215.5 148.05L216 148.05L216 148.9ZM217.5 148.9L217.5 147.9L218 147.9L218 148.03L218.5 148.03L218.5 147.94L219 147.94L219 148.9ZM220 148.9L220 148.44L220.5 148.44L220.5 148.45L221 148.45L221 148.43L221.5 148.43L221.5 148.54L222 148.54L222 148.44L222.5 148.44L222.5 148.4L223 148.4L223 148.9ZM224.5 148.9L224.5 148.43L225 148.43L225 148.42L225.5 148.42L225.5 148.44L226 148.44L226 148.48L226.5 148.48L226.5 147.65L227 147.65L227 148.05L227.5 148.05L227.5 147.89L228 147.89L228 148.43L228.5 148.43L228.5 148.3L229 148.3L229 148.48L229.5 148.48L229.5 148.9ZM234.5 148.9L234.5 148.31L235 148.31L235 148.48L235.5 148.48L235.5 148.25L236 148.25L236 148.9ZM241.5 148.9L241.5 148.22L242 148.22L242 148.39L242.5 148.39L242.5 148.46L243 148.46L243 148.19L243.5 148.19L243.5 148.06L244 148.06L244 148.32L244.5 148.32L244.5 148.35L245 148.35L245 148.28L245.5 148.28L245.5 148.36L246 148.36L246 147.48L246.5 147.48L246.5 148.9ZM247 148.9L247 147.8L247.5 147.8L247.5 148.07L248 148.07L248 147.99L248.5 147.99L248.5 148.19L249 148.19L249 148.11L249.5 148.11L249.5 148.34L250 148.34L250 148.31L250.5 148.31L250.5 148.24L251 148.24L251 148.28L251.5 148.28L251.5 148.9ZM255 148.9L255 147.73L255.5 147.73L255.5 148.9ZM259 148.9L259 148.15L259.5 148.15L259.5 148.9Z" fill="#444"/>
<path d="M44.5 160.6L44.5 159.91L45 159.91L45 158.11L45.5 158.11L45.5 158.35L46 158.35L46 158.27L46.5 158.27L46.5 158.1L47 158.1L47 159.22L47.5 159.22L47.5 159.4L48 159.4L48 159.35L48.5 159.35L48.5 160.06L49 160.06L49 160.17L49.5 160.17L49.5 160.02L50 160.02L50 159.86L50.5 159.86L50.5 160.16L51 160.16L51 160.14L51.5 160.14L51.5 159.84L52 159.84L52 159.54L52.5 159.54L52.5 159.52L53 159.52L53 159.38L53.5 159.38L53.5 159.18L54 159.18L54 159.46L54.5 159.46L54.5 159.25L55 159.25L55 159.46L55.5 159.46L55.5 159.49L56 159.49L56 159.4L56.5 159.4L56.5 159.26L57 159.26L57 159.36L57.5 159.36L57.5 158.66L58 158.66L58 158.24L58.5 158.24L58.5 158.09L59 158.09L59 159.64L59.5 159.64L59.5 159.89L60 159.89L60 159.9L60.5 159.9L60.5 160.11L61 160.11L61 158.6L61.5 158.6L61.5 158.55L62 158.55L62 158.5L62.5 158.5L62.5 157.8L63 157.8L63 157.99L63.5 157.99L63.5 158.33L64 158.33L64 157.85L64.5 157.85L64.5 159.03L65 159.03L65 158.74L65.5 158.74L65.5 158.69L66 158.69L66 158.64L66.5 158.64L66.5 158.17L67 158.17L67 157.84L67.5 157.84L67.5 158.32L68 158.32L68 158.53L68.5 158.53L68.5 158.58L69 158.58L69 159.97L69.5 159.97L69.5 159.7L70 159.7L70 159.23L70.5 159.23L70.5 159.22L71 159.22L71 159.01L71.5 159.01L71.5 158.73L72 158.73L72 158.7L72.5 158.7L72.5 158.77L73 158.77L73 158.87L73.5 158.87L73.5 158.52L74 158.52L74 158.75L74.5 158.75L74.5 158.72L75 158.72L75 159.43L75.5 159.43L75.5 159.67L76 159.67L76 159.77L76.5 159.77L76.5 159.36L77 159.36L77 159.88L77.5 159.88L77.5 159.54L78 159.54L78 159.57L78.5 159.57L78.5 159.93L79 159.93L79 158.82L79.5 158.82L79.5 158.52L80 158.52L80 158.36L80.5 158.36L80.5 158.51L81 158.51L81 158.52L81.5 158.52L81.5 158.47L82 158.47L82 158.89L82.5 158.89L82.5 158.97L83 158.97L83 158.99L83.5 158.99L83.5 158.87L84 158.87L84 159.02L84.5 159.02L84.5 158.61L85 158.61L85 159.2L85.5 159.2L85.5 159.27L86 159.27L86 159.24L86.5 159.24L86.5 159.42L87 159.42L87 159.91L87.5 159.91L87.5 159.87L88 159.87L88 159.86L88.5 159.86L88.5 159.69L89 159.69L89 159.77L89.5 159.77L89.5 160.26L90 160.26L90 159.52L90.5 159.52L90.5 159.86L91 159.86L91 159.66L91.5 159.66L91.5 159.54L92 159.54L92 159.6L92.5 159.6L92.5 160.14L93 160.14L93 160.09L93.5 160.09L93.5 160.18L94 160.18L94 160.22L94.5 160.22L94.5 160.22L95 160.22L95 160.13L95.5 160.13L95.5 158.67L96 158.67L96 158.57L96.5 158.57L96.5 158.49L97 158.49L97 158.3L97.5 158.3L97.5 159.34L98 159.34L98 159.19L98.5 159.19L98.5 159.25L99 159.25L99 159.49L99.5 159.49L99.5 159.3L100 159.3L100 159.23L100.5 159.23L100.5 158.32L101 158.32L101 158.1L101.5 158.1L101.5 158.05L102 158.05L102 158.27L102.5 158.27L102.5 159.24L103 159.24L103 159.06L103.5 159.06L103.5 159.14L104 159.14L104 159.24L104.5 159.24L104.5 158.92L105 158.92L105 158.98L105.5 158.98L105.5 159.04L106 159.04L106 159.14L106.5 159.14L106.5 159.05L107 159.05L107 158.93L107.5 158.93L107.5 159.2L108 159.2L108 159.2L108.5 159.2L108.5 159.15L109 159.15L109 159.92L109.5 159.92L109.5 159.9L110 159.9L110 159.81L110.5 159.81L110.5 158.41L111 158.41L111 158.26L111.5 158.26L111.5 158.52L112 158.52L112 158.42L112.5 158.42L112.5 158.23L113 158.23L113 158.96L113.5 158.96L113.5 159.15L114 159.15L114 159.32L114.5 159.32L114.5 159.82L115 159.82L115 159.87L115.5 159.87L115.5 160.1L116 160.1L116 158.91L116.5 158.91L116.5 158.7L117 158.7L117 158.96L117.5 158.96L117.5 158.76L118 158.76L118 158.53L118.5 158.53L118.5 158.55L119 158.55L119 158.51L119.5 158.51L119.5 158.45L120 158.45L120 158.43L120.5 158.43L120.5 158.59L121 158.59L121 158.35L121.5 158.35L121.5 158.2L122 158.2L122 158.37L122.5 158.37L122.5 158.28L123 158.28L123 159.02L123.5 159.02L123.5 158.93L124 158.93L124 158.9L124.5 158.9L124.5 158.84L125 158.84L125 159L125.5 159L125.5 158.27L126 158.27L126 158.46L126.5 158.46L126.5 158.75L127 158.75L127 158.57L127.5 158.57L127.5 158.33L128 158.33L128 158.4L128.5 158.4L128.5 159.59L129 159.59L129 159.78L129.5 159.78L129.5 159.24L130 159.24L130 159.6L130.5 159.6L130.5 160.29L131 160.29L131 160.6ZM131.5 160.6L131.5 158.53L132 158.53L132 158.41L132.5 158.41L132.5 158.5L133 158.5L133 158.16L133.5 158.16L133.5 158.41L134 158.41L134 158.47L134.5 158.47L134.5 158.73L135 158.73L135 158.79L135.5 158.79L135.5 160.25L136 160.25L136 160.21L136.5 160.21L136.5 159.78L137 159.78L137 159.73L137.5 159.73L137.5 159.81L138 159.81L138 159.76L138.5 159.76L138.5 159.49L139 159.49L139 159.53L139.5 159.53L139.5 159.59L140 159.59L140 159.57L140.5 159.57L140.5 159.5L141 159.5L141 158.58L141.5 158.58L141.5 158.76L142 158.76L142 159L142.5 159L142.5 159.87L143 159.87L143 160.09L143.5 160.09L143.5 160.19L144 160.19L144 159.79L144.5 159.79L144.5 160.03L145 160.03L145 159.01L145.5 159.01L145.5 158.75L146 158.75L146 158.75L146.5 158.75L146.5 158.86L147 158.86L147 158.67L147.5 158.67L147.5 158.51L148 158.51L148 158.09L148.5 158.09L148.5 158.22L149 158.22L149 158.26L149.5 158.26L149.5 158.25L150 158.25L150 158.54L150.5 158.54L150.5 158.45L151 158.45L151 160.13L151.5 160.13L151.5 159.88L152 159.88L152 159.83L152.5 159.83L152.5 159.91L153 159.91L153 159.68L153.5 159.68L153.5 159.89L154 159.89L154 158.39L154.5 158.39L154.5 158.4L155 158.4L155 158.77L155.5 158.77L155.5 158.89L156 158.89L156 159.02L156.5 159.02L156.5 159.78L157 159.78L157 159.72L157.5 159.72L157.5 159.94L158 159.94L158 159L158.5 159L158.5 159.1L159 159.1L159 159.63L159.5 159.63L159.5 160.6ZM161 160.6L161 159.81L161.5 159.81L161.5 159.99L162 159.99L162 158.83L162.5 158.83L162.5 158.68L163 158.68L163 158.48L163.5 158.48L163.5 158.41L164 158.41L164 158.48L164.5 158.48L164.5 158.41L165 158.41L165 158.27L165.5 158.27L165.5 158.18L166 158.18L166 158.37L166.5 158.37L166.5 158.43L167 158.43L167 158.31L167.5 158.31L167.5 158.18L168 158.18L168 158.34L168.5 158.34L168.5 158.02L169 158.02L169 158.14L169.5 158.14L169.5 158.02L170 158.02L170 159.79L170.5 159.79L170.5 159.46L171 159.46L171 159.28L171.5 159.28L171.5 159.79L172 159.79L172 159.63L172.5 159.63L172.5 159.19L173 159.19L173 160.1L173.5 160.1L173.5 159.77L174 159.77L174 159.93L174.5 159.93L174.5 158.45L175 158.45L175 158.55L175.5 158.55L175.5 158.84L176 158.84L176 158.73L176.5 158.73L176.5 159.58L177 159.58L177 159.67L177.5 159.67L177.5 159.61L178 159.61L178 159.71L178.5 159.71L178.5 159.2L179 159.2L179 159.19L179.5 159.19L179.5 159.12L180 159.12L180 159.24L180.5 159.24L180.5 159.58L181 159.58L181 159.94L181.5 159.94L181.5 159.59L182 159.59L182 160.01L182.5 160.01L182.5 159.64L183 159.64L183 159.89L183.5 159.89L183.5 159.6L184 159.6L184 159.67L184.5 159.67L184.5 158.86L185 158.86L185 158.66L185.5 158.66L185.5 158.63L186 158.63L186 158.89L186.5 158.89L186.5 158.7L187 158.7L187 158.75L187.5 158.75L187.5 158.56L188 158.56L188 158.5L188.5 158.5L188.5 158.22L189 158.22L189 158.06L189.5 158.06L189.5 157.85L190 157.85L190 157.92L190.5 157.92L190.5 159.87L191 159.87L191 159.5L191.5 159.5L191.5 159.54L192 159.54L192 160.6ZM194.5 160.6L194.5 160.06L195 160.06L195 160.15L195.5 160.15L195.5 158.35L196 158.35L196 158.56L196.5 158.56L196.5 158.39L197 158.39L197 158.73L197.5 158.73L197.5 158.37L198 158.37L198 158.6L198.5 158.6L198.5 159.08L199 159.08L199 158.97L199.5 158.97L199.5 158.9L200 158.9L200 159.13L200.5 159.13L200.5 158.78L201 158.78L201 159.05L201.5 159.05L201.5 159.06L202 159.06L202 158.9L202.5 158.9L202.5 158.65L203 158.65L203 158.96L203.5 158.96L203.5 158.87L204 158.87L204 159.03L204.5 159.03L204.5 158.6L205 158.6L205 158.83L205.5 158.83L205.5 158.42L206 158.42L206 158.51L206.5 158.51L206.5 158.19L207 158.19L207 158.5L207.5 158.5L207.5 158.79L208 158.79L208 158.86L208.5 158.86L208.5 159.91L209 159.91L209 159.57L209.5 159.57L209.5 159.71L210 159.71L210 159.9L210.5 159.9L210.5 159.98L211 159.98L211 159.91L211.5 159.91L211.5 159.79L212 159.79L212 159.67L212.5 159.67L212.5 159.73L213 159.73L213 159.59L213.5 159.59L213.5 159.04L214 159.04L214 158.95L214.5 158.95L214.5 159.19L215 159.19L215 159.29L215.5 159.29L215.5 158.63L216 158.63L216 158.5L216.5 158.5L216.5 158.41L217 158.41L217 160.19L217.5 160.19L217.5 159.78L218 159.78L218 159.95L218.5 159.95L218.5 159.37L219 159.37L219 159.22L219.5 159.22L219.5 159.11L220 159.11L220 159.36L220.5 159.36L220.5 158.45L221 158.45L221 158.35L221.5 158.35L221.5 158.31L222 158.31L222 158.38L222.5 158.38L222.5 158.22L223 158.22L223 158.51L223.5 158.51L223.5 158.33L224 158.33L224 159.99L224.5 159.99L224.5 160.12L225 160.12L225 158.8L225.5 158.8L225.5 158.85L226 158.85L226 158.9L226.5 158.9L226.5 158.82L227 158.82L227 159.08L227.5 159.08L227.5 159.05L228 159.05L228 159.35L228.5 159.35L228.5 159.45L229 159.45L229 159.36L229.5 159.36L229.5 158.61L230 158.61L230 158.56L230.5 158.56L230.5 158.75L231 158.75L231 158.67L231.5 158.67L231.5 158.94L232 158.94L232 158.61L232.5 158.61L232.5 158.52L233 158.52L233 158.57L233.5 158.57L233.5 158.31L234 158.31L234 160.05L234.5 160.05L234.5 160.21L235 160.21L235 160.14L235.5 160.14L235.5 159.33L236 159.33L236 159.65L236.5 159.65L236.5 159.47L237 159.47L237 158.43L237.5 158.43L237.5 158.44L238 158.44L238 157.89L238.5 157.89L238.5 158.1L239 158.1L239 158.47L239.5 158.47L239.5 158.23L240 158.23L240 157.98L240.5 157.98L240.5 157.91L241 157.91L241 159.19L241.5 159.19L241.5 159.25L242 159.25L242 157.33L242.5 157.33L242.5 157.39L243 157.39L243 157.67L243.5 157.67L243.5 157.98L244 157.98L244 158.23L244.5 158.23L244.5 159.47L245 159.47L245 160.02L245.5 160.02L245.5 160.08L246 160.08L246 159.83L246.5 159.83L246.5 159.89L247 159.89L247 159.38L247.5 159.38L247.5 159.14L248 159.14L248 159.22L248.5 159.22L248.5 159.38L249 159.38L249 159.39L249.5 159.39L249.5 159.59L250 159.59L250 160.6ZM250.5 160.6L250.5 159.35L251 159.35L251 159.56L251.5 159.56L251.5 159.4L252 159.4L252 159.78L252.5 159.78L252.5 159.52L253 159.52L253 160.1L253.5 160.1L253.5 160.22L254 160.22L254 160.1L254.5 160.1L254.5 160.06L255 160.06L255 160.15L255.5 160.15L255.5 159.73L256 159.73L256 159.57L256.5 159.57L256.5 159.57L257 159.57L257 160.15L257.5 160.15L257.5 160.6ZM258 160.6L258 159.37L258.5 159.37L258.5 159.41L259 159.41L259 159.36L259.5 159.36L259.5 159.02L260 159.02L260 159.37L260.5 159.37L260.5 159.55L261 159.55L261 159.35L261.5 159.35L261.5 160.6Z" fill="#111"/>
<path d="M52 172.3L52 171.96L52.5 171.96L52.5 171.96L53 171.96L53 172.3ZM103.5 172.3L103.5 171.55L104 171.55L104 171.42L104.5 171.42L104.5 171.92L105 171.92L105 172.3ZM124.5 172.3L124.5 171.68L125 171.68L125 171.26L125.5 171.26L125.5 170.54L126 170.54L126 170.4L126.5 170.4L126.5 170.01L127 170.01L127 170.01L127.5 170.01L127.5 170.43L128 170.43L128 170.84L128.5 170.84L128.5 171.26L129 171.26L129 170.01L129.5 170.01L129.5 170.28L130 170.28L130 171.72L130.5 171.72L130.5 172.3ZM131.5 172.3L131.5 171.33L132 171.33L132 171.55L132.5 171.55L132.5 170.98L133 170.98L133 171.05L133.5 171.05L133.5 171.22L134 171.22L134 171.49L134.5 171.49L134.5 171.94L135 171.94L135 172.3ZM136.5 172.3L136.5 171.94L137 171.94L137 172.3ZM188.5 172.3L188.5 171.7L189 171.7L189 171.47L189.5 171.47L189.5 171.3L190 171.3L190 171.3L190.5 171.3L190.5 171.7L191 171.7L191 172.3ZM193 172.3L193 171.45L193.5 171.45L193.5 171.26L194 171.26L194 171.21L194.5 171.21L194.5 170.58L195 170.58L195 170.9L195.5 170.9L195.5 170.5L196 170.5L196 170.5L196.5 170.5L196.5 170.62L197 170.62L197 171.29L197.5 171.29L197.5 171.7L198 171.7L198 172.3ZM231 172.3L231 171.69L231.5 171.69L231.5 171.69L232 171.69L232 172.3ZM238.5 172.3L238.5 171.78L239 171.78L239 171.81L239.5 171.81L239.5 171.66L240 171.66L240 170.65L240.5 170.65L240.5 170.92L241 170.92L241 169.91L241.5 169.91L241.5 170.8L242 170.8L242 170.89L242.5 170.89L242.5 170.58L243 170.58L243 170.27L243.5 170.27L243.5 169.96L244 169.96L244 169.96L244.5 169.96L244.5 170.27L245 170.27L245 170.58L245.5 170.58L245.5 170.24L246 170.24L246 170.82L246.5 170.82L246.5 171.17L247 171.17L247 171.83L247.5 171.83L247.5 172L248 172L248 171.84L248.5 171.84L248.5 172.3Z" fill="#2e2e8a"/>
<path d="M44.5 184L44.5 183.21L45 183.21L45 183.48L45.5 183.48L45.5 183.5L46 183.5L46 183.2L46.5 183.2L46.5 182.94L47 182.94L47 183.26L47.5 183.26L47.5 183.45L48 183.45L48 183.5L48.5 183.5L48.5 183.63L49 183.63L49 183.66L49.5 183.66L49.5 183.65L50 183.65L50 183.5L50.5 183.5L50.5 183.66L51 183.66L51 183.59L51.5 183.59L51.5 183.1L52 183.1L52 183.01L52.5 183.01L52.5 182.87L53 182.87L53 182.97L53.5 182.97L53.5 183.35L54 183.35L54 183.33L54.5 183.33L54.5 183.49L55 183.49L55 183.56L55.5 183.56L55.5 183.67L56 183.67L56 184ZM56.5 184L56.5 183.52L57 183.52L57 183.37L57.5 183.37L57.5 183.3L58 183.3L58 183.35L58.5 183.35L58.5 183.44L59 183.44L59 183.3L59.5 183.3L59.5 183.49L60 183.49L60 183.45L60.5 183.45L60.5 184ZM62.5 184L62.5 183.56L63 183.56L63 183.59L63.5 183.59L63.5 184ZM64 184L64 183.56L64.5 183.56L64.5 183.31L65 183.31L65 183.26L65.5 183.26L65.5 183.31L66 183.31L66 183.24L66.5 183.24L66.5 183.49L67 183.49L67 183.7L67.5 183.7L67.5 184ZM68 184L68 183.58L68.5 183.58L68.5 183.26L69 183.26L69 183.12L69.5 183.12L69.5 182.78L70 182.78L70 182.55L70.5 182.55L70.5 182.85L71 182.85L71 183.06L71.5 183.06L71.5 183.41L72 183.41L72 183.28L72.5 183.28L72.5 183.19L73 183.19L73 183.17L73.5 183.17L73.5 183.23L74 183.23L74 183.22L74.5 183.22L74.5 183.3L75 183.3L75 183.02L75.5 183.02L75.5 183.16L76 183.16L76 183.33L76.5 183.33L76.5 183.56L77 183.56L77 183.61L77.5 183.61L77.5 183.58L78 183.58L78 183.43L78.5 183.43L78.5 183.53L79 183.53L79 183.25L79.5 183.25L79.5 183.57L80 183.57L80 183.56L80.5 183.56L80.5 183.31L81 183.31L81 183.53L81.5 183.53L81.5 183.58L82 183.58L82 184ZM84.5 184L84.5 183.52L85 183.52L85 183.38L85.5 183.38L85.5 183.44L86 183.44L86 183.36L86.5 183.36L86.5 183.18L87 183.18L87 183.08L87.5 183.08L87.5 183.25L88 183.25L88 183.44L88.5 183.44L88.5 182.87L89 182.87L89 183.29L89.5 183.29L89.5 183.37L90 183.37L90 184ZM92 184L92 183.32L92.5 183.32L92.5 183.42L93 183.42L93 182.86L93.5 182.86L93.5 182.87L94 182.87L94 182.85L94.5 182.85L94.5 183.12L95 183.12L95 182.85L95.5 182.85L95.5 182.96L96 182.96L96 184ZM96.5 184L96.5 183.47L97 183.47L97 183.51L97.5 183.51L97.5 183.55L98 183.55L98 183.57L98.5 183.57L98.5 183.2L99 183.2L99 182.97L99.5 182.97L99.5 184ZM100 184L100 183.23L100.5 183.23L100.5 183.11L101 183.11L101 182.97L101.5 182.97L101.5 184ZM103.5 184L103.5 183.36L104 183.36L104 184ZM107.5 184L107.5 183.28L108 183.28L108 183.36L108.5 183.36L108.5 183.5L109 183.5L109 183.56L109.5 183.56L109.5 183.63L110 183.63L110 183.46L110.5 183.46L110.5 183.59L111 183.59L111 183.39L111.5 183.39L111.5 183.67L112 183.67L112 183.61L112.5 183.61L112.5 183.64L113 183.64L113 183.18L113.5 183.18L113.5 183.53L114 183.53L114 183.32L114.5 183.32L114.5 183.27L115 183.27L115 182.96L115.5 182.96L115.5 183.14L116 183.14L116 183.33L116.5 183.33L116.5 183.55L117 183.55L117 183.57L117.5 183.57L117.5 183.46L118 183.46L118 183.44L118.5 183.44L118.5 183.61L119 183.61L119 182.98L119.5 182.98L119.5 182.98L120 182.98L120 183.11L120.5 183.11L120.5 182.99L121 182.99L121 183L121.5 183L121.5 183.31L122 183.31L122 184ZM123 184L123 183.48L123.5 183.48L123.5 183.34L124 183.34L124 183.61L124.5 183.61L124.5 183.63L125 183.63L125 183.38L125.5 183.38L125.5 183.5L126 183.5L126 182.94L126.5 182.94L126.5 181.77L127 181.77L127 181.5L127.5 181.5L127.5 180.5L128 180.5L128 180.5L128.5 180.5L128.5 181.36L129 181.36L129 181.56L129.5 181.56L129.5 181.23L130 181.23L130 183.08L130.5 183.08L130.5 181.75L131 181.75L131 181.55L131.5 181.55L131.5 183.25L132 183.25L132 183.24L132.5 183.24L132.5 183.52L133 183.52L133 184ZM133.5 184L133.5 183.33L134 183.33L134 183.14L134.5 183.14L134.5 183.14L135 183.14L135 183.19L135.5 183.19L135.5 183.35L136 183.35L136 183.25L136.5 183.25L136.5 183.5L137 183.5L137 183.39L137.5 183.39L137.5 183.69L138 183.69L138 183.47L138.5 183.47L138.5 183.27L139 183.27L139 183.22L139.5 183.22L139.5 183.22L140 183.22L140 183.4L140.5 183.4L140.5 183.49L141 183.49L141 183.39L141.5 183.39L141.5 184ZM144 184L144 183.08L144.5 183.08L144.5 183L145 183L145 183.21L145.5 183.21L145.5 183.24L146 183.24L146 183.19L146.5 183.19L146.5 183.37L147 183.37L147 183.25L147.5 183.25L147.5 183.63L148 183.63L148 183.53L148.5 183.53L148.5 183.51L149 183.51L149 184ZM149.5 184L149.5 183.6L150 183.6L150 183.62L150.5 183.62L150.5 183.56L151 183.56L151 183.59L151.5 183.59L151.5 183.48L152 183.48L152 183.53L152.5 183.53L152.5 183.45L153 183.45L153 183.46L153.5 183.46L153.5 183.53L154 183.53L154 183.19L154.5 183.19L154.5 183.04L155 183.04L155 183.22L155.5 183.22L155.5 183.32L156 183.32L156 183.18L156.5 183.18L156.5 183.12L157 183.12L157 183.2L157.5 183.2L157.5 183.18L158 183.18L158 183.08L158.5 183.08L158.5 183.47L159 183.47L159 183.43L159.5 183.43L159.5 183.42L160 183.42L160 183.39L160.5 183.39L160.5 184ZM162.5 184L162.5 183.69L163 183.69L163 183.64L163.5 183.64L163.5 184ZM164.5 184L164.5 183.1L165 183.1L165 183.22L165.5 183.22L165.5 183.01L166 183.01L166 183.01L166.5 183.01L166.5 183.01L167 183.01L167 183.44L167.5 183.44L167.5 183.39L168 183.39L168 183.53L168.5 183.53L168.5 183.53L169 183.53L169 183.33L169.5 183.33L169.5 183.24L170 183.24L170 183.44L170.5 183.44L170.5 183.67L171 183.67L171 183.58L171.5 183.58L171.5 183.44L172 183.44L172 183.31L172.5 183.31L172.5 183.38L173 183.38L173 183.25L173.5 183.25L173.5 183.38L174 183.38L174 182.94L174.5 182.94L174.5 183.55L175 183.55L175 183.48L175.5 183.48L175.5 183.22L176 183.22L176 183.26L176.5 183.26L176.5 183.32L177 183.32L177 183.15L177.5 183.15L177.5 183.49L178 183.49L178 183.13L178.5 183.13L178.5 183.2L179 183.2L179 183.47L179.5 183.47L179.5 183.4L180 183.4L180 183.51L180.5 183.51L180.5 183.04L181 183.04L181 183.26L181.5 183.26L181.5 183.29L182 183.29L182 182.95L182.5 182.95L182.5 183.02L183 183.02L183 183.05L183.5 183.05L183.5 183L184 183L184 183.14L184.5 183.14L184.5 183L185 183L185 183.26L185.5 183.26L185.5 183.3L186 183.3L186 183.13L186.5 183.13L186.5 183.08L187 183.08L187 183.44L187.5 183.44L187.5 183.21L188 183.21L188 183.54L188.5 183.54L188.5 183.41L189 183.41L189 183.17L189.5 183.17L189.5 183.53L190 183.53L190 183.43L190.5 183.43L190.5 183.59L191 183.59L191 183.54L191.5 183.54L191.5 183.47L192 183.47L192 183.36L192.5 183.36L192.5 183.36L193 183.36L193 183.67L193.5 183.67L193.5 183.46L194 183.46L194 183.67L194.5 183.67L194.5 183.48L195 183.48L195 183.61L195.5 183.61L195.5 183.68L196 183.68L196 182.87L196.5 182.87L196.5 183.1L197 183.1L197 182.89L197.5 182.89L197.5 183.18L198 183.18L198 183.25L198.5 183.25L198.5 184ZM200.5 184L200.5 183.66L201 183.66L201 183.67L201.5 183.67L201.5 183.57L202 183.57L202 183.67L202.5 183.67L202.5 184ZM203.5 184L203.5 183.32L204 183.32L204 183.49L204.5 183.49L204.5 183.48L205 183.48L205 184ZM206.5 184L206.5 182.86L207 182.86L207 183.19L207.5 183.19L207.5 183.26L208 183.26L208 183.49L208.5 183.49L208.5 183.49L209 183.49L209 183.27L209.5 183.27L209.5 183.45L210 183.45L210 183.6L210.5 183.6L210.5 183.57L211 183.57L211 183.46L211.5 183.46L211.5 184ZM214 184L214 183.14L214.5 183.14L214.5 183.23L215 183.23L215 183.52L215.5 183.52L215.5 183.58L216 183.58L216 183.32L216.5 183.32L216.5 183.46L217 183.46L217 183.51L217.5 183.51L217.5 183.62L218 183.62L218 184ZM218.5 184L218.5 183.17L219 183.17L219 183.13L219.5 183.13L219.5 183.08L220 183.08L220 183.12L220.5 183.12L220.5 183.19L221 183.19L221 183.27L221.5 183.27L221.5 183.02L222 183.02L222 183.24L222.5 183.24L222.5 183.37L223 183.37L223 183.28L223.5 183.28L223.5 183.29L224 183.29L224 183.16L224.5 183.16L224.5 183.49L225 183.49L225 183.49L225.5 183.49L225.5 183.64L226 183.64L226 183.47L226.5 183.47L226.5 183.58L227 183.58L227 184ZM228 184L228 183L228.5 183L228.5 183.35L229 183.35L229 184ZM230 184L230 183.22L230.5 183.22L230.5 183.17L231 183.17L231 183.38L231.5 183.38L231.5 183.27L232 183.27L232 183.33L232.5 183.33L232.5 183.28L233 183.28L233 183.51L233.5 183.51L233.5 183.45L234 183.45L234 183.53L234.5 183.53L234.5 183.44L235 183.44L235 183.4L235.5 183.4L235.5 183.25L236 183.25L236 183.59L236.5 183.59L236.5 183.56L237 183.56L237 183.55L237.5 183.55L237.5 183.4L238 183.4L238 183.25L238.5 183.25L238.5 183.46L239 183.46L239 183.35L239.5 183.35L239.5 184ZM242 184L242 183.15L242.5 183.15L242.5 183.2L243 183.2L243 183.42L243.5 183.42L243.5 183.34L244 183.34L244 184ZM246.5 184L246.5 183.34L247 183.34L247 183.42L247.5 183.42L247.5 183.41L248 183.41L248 183.43L248.5 183.43L248.5 183.17L249 183.17L249 183.32L249.5 183.32L249.5 183.44L250 183.44L250 183.49L250.5 183.49L250.5 183.63L251 183.63L251 184ZM252 184L252 183.35L252.5 183.35L252.5 183.69L253 183.69L253 183.65L253.5 183.65L253.5 184ZM254.5 184L254.5 183.61L255 183.61L255 183.63L255.5 183.63L255.5 184ZM256 184L256 183.64L256.5 183.64L256.5 183.22L257 183.22L257 183.17L257.5 183.17L257.5 183.05L258 183.05L258 183.32L258.5 183.32L258.5 182.85L259 182.85L259 182.82L259.5 182.82L259.5 183.43L260 183.43L260 183.51L260.5 183.51L260.5 183.65L261 183.65L261 183.63L261.5 183.63L261.5 184Z" fill="#4d9a33"/>
<path d="M44.5 195.7L44.5 195.15L45 195.15L45 194.81L45.5 194.81L45.5 195.12L46 195.12L46 195.18L46.5 195.18L46.5 195.3L47 195.3L47 195.3L47.5 195.3L47.5 195.7ZM49.5 195.7L49.5 194.9L50 194.9L50 195.03L50.5 195.03L50.5 194.92L51 194.92L51 195.7ZM60.5 195.7L60.5 195.09L61 195.09L61 195.02L61.5 195.02L61.5 195.7ZM62 195.7L62 195.06L62.5 195.06L62.5 195.15L63 195.15L63 195.19L63.5 195.19L63.5 195.16L64 195.16L64 195.7ZM67.5 195.7L67.5 195.31L68 195.31L68 195.36L68.5 195.36L68.5 195.31L69 195.31L69 195.05L69.5 195.05L69.5 195.09L70 195.09L70 195.19L70.5 195.19L70.5 195.7ZM74.5 195.7L74.5 195.34L75 195.34L75 195.15L75.5 195.15L75.5 194.99L76 194.99L76 195.29L76.5 195.29L76.5 195.7ZM77.5 195.7L77.5 195.02L78 195.02L78 194.91L78.5 194.91L78.5 194.93L79 194.93L79 194.95L79.5 194.95L79.5 195.11L80 195.11L80 194.99L80.5 194.99L80.5 194.92L81 194.92L81 194.87L81.5 194.87L81.5 195.7ZM82 195.7L82 195.11L82.5 195.11L82.5 195.09L83 195.09L83 195.04L83.5 195.04L83.5 195.18L84 195.18L84 195.7ZM85 195.7L85 194.82L85.5 194.82L85.5 194.99L86 194.99L86 194.99L86.5 194.99L86.5 194.86L87 194.86L87 194.81L87.5 194.81L87.5 195.7ZM95.5 195.7L95.5 195.26L96 195.26L96 195.22L96.5 195.22L96.5 195.7ZM99.5 195.7L99.5 195.13L100 195.13L100 194.92L100.5 194.92L100.5 194.84L101 194.84L101 194.92L101.5 194.92L101.5 194.95L102 194.95L102 195.7ZM112 195.7L112 194.92L112.5 194.92L112.5 195.09L113 195.09L113 194.88L113.5 194.88L113.5 194.83L114 194.83L114 194.96L114.5 194.96L114.5 195.17L115 195.17L115 195.28L115.5 195.28L115.5 195.32L116 195.32L116 195.25L116.5 195.25L116.5 195.7ZM119 195.7L119 195.23L119.5 195.23L119.5 195.7ZM122 195.7L122 194.94L122.5 194.94L122.5 195.13L123 195.13L123 195.7ZM125 195.7L125 195.23L125.5 195.23L125.5 195.24L126 195.24L126 195.34L126.5 195.34L126.5 195.7ZM132.5 195.7L132.5 195.27L133 195.27L133 195.03L133.5 195.03L133.5 195.18L134 195.18L134 195.08L134.5 195.08L134.5 195.21L135 195.21L135 195.08L135.5 195.08L135.5 195.7ZM142.5 195.7L142.5 195.04L143 195.04L143 195.19L143.5 195.19L143.5 194.89L144 194.89L144 195.16L144.5 195.16L144.5 195.7ZM147.5 195.7L147.5 194.96L148 194.96L148 195.08L148.5 195.08L148.5 194.77L149 194.77L149 194.84L149.5 194.84L149.5 195.03L150 195.03L150 194.89L150.5 194.89L150.5 194.73L151 194.73L151 195.7ZM152 195.7L152 195.25L152.5 195.25L152.5 195.24L153 195.24L153 195.31L153.5 195.31L153.5 195.29L154 195.29L154 195.37L154.5 195.37L154.5 195.29L155 195.29L155 195.23L155.5 195.23L155.5 195.23L156 195.23L156 195.22L156.5 195.22L156.5 195.7ZM161.5 195.7L161.5 195.17L162 195.17L162 195.24L162.5 195.24L162.5 195.12L163 195.12L163 195.18L163.5 195.18L163.5 195.7ZM166 195.7L166 195.19L166.5 195.19L166.5 195.29L167 195.29L167 195.36L167.5 195.36L167.5 195.7ZM179 195.7L179 195.11L179.5 195.11L179.5 195.05L180 195.05L180 195.04L180.5 195.04L180.5 194.98L181 194.98L181 194.95L181.5 194.95L181.5 195.7ZM191.5 195.7L191.5 194.65L192 194.65L192 193.79L192.5 193.79L192.5 193.62L193 193.62L193 193.62L193.5 193.62L193.5 194.45L194 194.45L194 194.73L194.5 194.73L194.5 194.2L195 194.2L195 194.2L195.5 194.2L195.5 194.14L196 194.14L196 195.18L196.5 195.18L196.5 195.7ZM197.5 195.7L197.5 195.36L198 195.36L198 195.7ZM204 195.7L204 194.7L204.5 194.7L204.5 195.26L205 195.26L205 195.12L205.5 195.12L205.5 195.05L206 195.05L206 195.15L206.5 195.15L206.5 195.08L207 195.08L207 195.7ZM213 195.7L213 194.97L213.5 194.97L213.5 195.03L214 195.03L214 194.81L214.5 194.81L214.5 194.96L215 194.96L215 195.7ZM218 195.7L218 195.1L218.5 195.1L218.5 195.39L219 195.39L219 195.3L219.5 195.3L219.5 195.7ZM220 195.7L220 195.33L220.5 195.33L220.5 195.7ZM221 195.7L221 195.4L221.5 195.4L221.5 195.7ZM222 195.7L222 195.37L222.5 195.37L222.5 195.29L223 195.29L223 195.39L223.5 195.39L223.5 194.86L224 194.86L224 195.01L224.5 195.01L224.5 195.12L225 195.12L225 194.88L225.5 194.88L225.5 194.7L226 194.7L226 195.7ZM228 195.7L228 195.26L228.5 195.26L228.5 195.36L229 195.36L229 195.32L229.5 195.32L229.5 195.29L230 195.29L230 195.21L230.5 195.21L230.5 195.12L231 195.12L231 195.06L231.5 195.06L231.5 195.18L232 195.18L232 195.7ZM239.5 195.7L239.5 195.03L240 195.03L240 195.09L240.5 195.09L240.5 195.25L241 195.25L241 195.7ZM247.5 195.7L247.5 194.91L248 194.91L248 194.87L248.5 194.87L248.5 195.13L249 195.13L249 194.78L249.5 194.78L249.5 195.7ZM255.5 195.7L255.5 195.26L256 195.26L256 195.7Z" fill="#8a3a9a"/>
<path d="M44.5 207.9L44.5 207.26L45 207.26L45 207.02L45.5 207.02L45.5 207.9ZM47.5 207.9L47.5 206.94L48 206.94L48 207.31L48.5 207.31L48.5 206.87L49 206.87L49 207.11L49.5 207.11L49.5 207.25L50 207.25L50 207.9ZM51 207.9L51 206.5L51.5 206.5L51.5 207.9ZM54 207.9L54 207.29L54.5 207.29L54.5 207.45L55 207.45L55 207.52L55.5 207.52L55.5 207.33L56 207.33L56 207.52L56.5 207.52L56.5 207.13L57 207.13L57 206.98L57.5 206.98L57.5 206.79L58 206.79L58 207.2L58.5 207.2L58.5 207.13L59 207.13L59 207.9ZM61.5 207.9L61.5 206.97L62 206.97L62 207.38L62.5 207.38L62.5 207.45L63 207.45L63 207.9ZM66.5 207.9L66.5 207.04L67 207.04L67 206.69L67.5 206.69L67.5 206.52L68 206.52L68 207.14L68.5 207.14L68.5 207.9ZM69 207.9L69 206.98L69.5 206.98L69.5 206.94L70 206.94L70 207.18L70.5 207.18L70.5 207.18L71 207.18L71 207.09L71.5 207.09L71.5 207.12L72 207.12L72 207.22L72.5 207.22L72.5 207.24L73 207.24L73 207.9ZM74 207.9L74 207.48L74.5 207.48L74.5 207.44L75 207.44L75 207.55L75.5 207.55L75.5 207.9ZM76.5 207.9L76.5 207.22L77 207.22L77 207.16L77.5 207.16L77.5 207.05L78 207.05L78 207.33L78.5 207.33L78.5 207.2L79 207.2L79 207.9ZM81 207.9L81 207.14L81.5 207.14L81.5 207.22L82 207.22L82 207.45L82.5 207.45L82.5 207.37L83 207.37L83 207.08L83.5 207.08L83.5 207.04L84 207.04L84 207.14L84.5 207.14L84.5 207.24L85 207.24L85 206.75L85.5 206.75L85.5 206.99L86 206.99L86 206.73L86.5 206.73L86.5 207.9ZM89.5 207.9L89.5 206.78L90 206.78L90 207.01L90.5 207.01L90.5 206.71L91 206.71L91 207.01L91.5 207.01L91.5 207.35L92 207.35L92 207.9ZM94.5 207.9L94.5 206.81L95 206.81L95 206.77L95.5 206.77L95.5 207.15L96 207.15L96 207.15L96.5 207.15L96.5 207L97 207L97 207.3L97.5 207.3L97.5 206.98L98 206.98L98 207.15L98.5 207.15L98.5 207.07L99 207.07L99 207.2L99.5 207.2L99.5 207L100 207L100 206.64L100.5 206.64L100.5 207.9ZM104 207.9L104 206.86L104.5 206.86L104.5 207.07L105 207.07L105 206.81L105.5 206.81L105.5 207.03L106 207.03L106 207.19L106.5 207.19L106.5 206.99L107 206.99L107 207.9ZM110 207.9L110 207.02L110.5 207.02L110.5 207.26L111 207.26L111 206.99L111.5 206.99L111.5 207.13L112 207.13L112 207.03L112.5 207.03L112.5 207.9ZM116.5 207.9L116.5 206.54L117 206.54L117 206.93L117.5 206.93L117.5 207.9ZM119 207.9L119 207.56L119.5 207.56L119.5 207.37L120 207.37L120 207.38L120.5 207.38L120.5 207.46L121 207.46L121 207.9ZM123.5 207.9L123.5 206.91L124 206.91L124 207.29L124.5 207.29L124.5 207.31L125 207.31L125 207.01L125.5 207.01L125.5 206.75L126 206.75L126 207.36L126.5 207.36L126.5 207.32L127 207.32L127 207.27L127.5 207.27L127.5 207.16L128 207.16L128 207.41L128.5 207.41L128.5 207.9ZM138 207.9L138 206.83L138.5 206.83L138.5 206.68L139 206.68L139 206.53L139.5 206.53L139.5 207.22L140 207.22L140 207.36L140.5 207.36L140.5 207.33L141 207.33L141 207.9ZM148.5 207.9L148.5 206.85L149 206.85L149 206.89L149.5 206.89L149.5 207.9ZM150.5 207.9L150.5 207.13L151 207.13L151 207.08L151.5 207.08L151.5 206.79L152 206.79L152 207.03L152.5 207.03L152.5 207.05L153 207.05L153 207.9ZM156.5 207.9L156.5 207.21L157 207.21L157 207.51L157.5 207.51L157.5 207.26L158 207.26L158 207.22L158.5 207.22L158.5 207.29L159 207.29L159 207.08L159.5 207.08L159.5 207.9ZM162.5 207.9L162.5 206.92L163 206.92L163 206.8L163.5 206.8L163.5 207.06L164 207.06L164 206.94L164.5 206.94L164.5 206.66L165 206.66L165 207.9ZM167 207.9L167 207L167.5 207L167.5 206.64L168 206.64L168 206.59L168.5 206.59L168.5 207.9ZM169 207.9L169 206.6L169.5 206.6L169.5 207.09L170 207.09L170 207.08L170.5 207.08L170.5 206.95L171 206.95L171 206.99L171.5 206.99L171.5 206.94L172 206.94L172 206.97L172.5 206.97L172.5 207.9ZM174.5 207.9L174.5 207.36L175 207.36L175 207.19L175.5 207.19L175.5 207.9ZM177 207.9L177 207.31L177.5 207.31L177.5 207.42L178 207.42L178 207.45L178.5 207.45L178.5 207.37L179 207.37L179 207.35L179.5 207.35L179.5 207.24L180 207.24L180 207.16L180.5 207.16L180.5 207.2L181 207.2L181 207.19L181.5 207.19L181.5 207.22L182 207.22L182 207.06L182.5 207.06L182.5 207.9ZM190 207.9L190 207.04L190.5 207.04L190.5 207.19L191 207.19L191 206.94L191.5 206.94L191.5 207.28L192 207.28L192 207.9ZM195.5 207.9L195.5 206.71L196 206.71L196 206.77L196.5 206.77L196.5 207.9ZM197.5 207.9L197.5 207.02L198 207.02L198 206.94L198.5 206.94L198.5 206.96L199 206.96L199 207.26L199.5 207.26L199.5 207.1L200 207.1L200 207.9ZM208 207.9L208 206.84L208.5 206.84L208.5 206.93L209 206.93L209 206.58L209.5 206.58L209.5 206.61L210 206.61L210 206.72L210.5 206.72L210.5 207.9ZM212.5 207.9L212.5 207.21L213 207.21L213 207.16L213.5 207.16L213.5 206.99L214 206.99L214 206.61L214.5 206.61L214.5 206.91L215 206.91L215 207.9ZM218 207.9L218 207.4L218.5 207.4L218.5 207.12L219 207.12L219 206.85L219.5 206.85L219.5 206.83L220 206.83L220 206.59L220.5 206.59L220.5 206.79L221 206.79L221 206.66L221.5 206.66L221.5 207L222 207L222 207.14L222.5 207.14L222.5 207.15L223 207.15L223 207.11L223.5 207.11L223.5 207.9ZM233.5 207.9L233.5 206.92L234 206.92L234 206.99L234.5 206.99L234.5 207.2L235 207.2L235 207.04L235.5 207.04L235.5 206.86L236 206.86L236 207.02L236.5 207.02L236.5 207.12L237 207.12L237 207.18L237.5 207.18L237.5 207.45L238 207.45L238 207.9ZM242 207.9L242 207.04L242.5 207.04L242.5 207.1L243 207.1L243 207.3L243.5 207.3L243.5 206.85L244 206.85L244 206.81L244.5 206.81L244.5 206.91L245 206.91L245 207.9ZM254.5 207.9L254.5 207.53L255 207.53L255 207.35L255.5 207.35L255.5 207.42L256 207.42L256 207.36L256.5 207.36L256.5 207.49L257 207.49L257 207.37L257.5 207.37L257.5 207.9Z" fill="#555"/>
<path d="M44.5 219.6L44.5 218.8L45 218.8L45 217.32L45.5 217.32L45.5 217.61L46 217.61L46 217.51L46.5 217.51L46.5 217.17L47 217.17L47 217.46L47.5 217.46L47.5 217.55L48 217.55L48 217.66L48.5 217.66L48.5 217.95L49 217.95L49 217.74L49.5 217.74L49.5 217.57L50 217.57L50 218.35L50.5 218.35L50.5 219.05L51 219.05L51 219.11L51.5 219.11L51.5 217.34L52 217.34L52 217.58L52.5 217.58L52.5 218.86L53 218.86L53 218.51L53.5 218.51L53.5 218.33L54 218.33L54 218.5L54.5 218.5L54.5 218.36L55 218.36L55 218.2L55.5 218.2L55.5 218.1L56 218.1L56 218.31L56.5 218.31L56.5 218.66L57 218.66L57 219.12L57.5 219.12L57.5 218.91L58 218.91L58 218.22L58.5 218.22L58.5 217.97L59 217.97L59 218.18L59.5 218.18L59.5 218.01L60 218.01L60 218.17L60.5 218.17L60.5 217.62L61 217.62L61 217.82L61.5 217.82L61.5 218.13L62 218.13L62 218.11L62.5 218.11L62.5 218.23L63 218.23L63 218.89L63.5 218.89L63.5 218.9L64 218.9L64 219.08L64.5 219.08L64.5 219.05L65 219.05L65 218.79L65.5 218.79L65.5 219.24L66 219.24L66 219.26L66.5 219.26L66.5 219.6ZM67.5 219.6L67.5 219.1L68 219.1L68 219.25L68.5 219.25L68.5 218.03L69 218.03L69 218.12L69.5 218.12L69.5 219.14L70 219.14L70 219.08L70.5 219.08L70.5 219.29L71 219.29L71 219.12L71.5 219.12L71.5 219.6ZM72.5 219.6L72.5 217.74L73 217.74L73 217.4L73.5 217.4L73.5 217.25L74 217.25L74 217.09L74.5 217.09L74.5 219.14L75 219.14L75 219.06L75.5 219.06L75.5 218.77L76 218.77L76 218.71L76.5 218.71L76.5 218.82L77 218.82L77 217.57L77.5 217.57L77.5 217.69L78 217.69L78 217.98L78.5 217.98L78.5 217.97L79 217.97L79 217.68L79.5 217.68L79.5 217.9L80 217.9L80 218L80.5 218L80.5 217.8L81 217.8L81 217.87L81.5 217.87L81.5 219.1L82 219.1L82 219.6ZM83 219.6L83 219.15L83.5 219.15L83.5 218.62L84 218.62L84 218.3L84.5 218.3L84.5 218.19L85 218.19L85 218.35L85.5 218.35L85.5 218.49L86 218.49L86 218.97L86.5 218.97L86.5 219.01L87 219.01L87 217.83L87.5 217.83L87.5 217.92L88 217.92L88 217.99L88.5 217.99L88.5 218.07L89 218.07L89 217.97L89.5 217.97L89.5 217.92L90 217.92L90 217.65L90.5 217.65L90.5 217.91L91 217.91L91 217.72L91.5 217.72L91.5 217.66L92 217.66L92 217.97L92.5 217.97L92.5 218.04L93 218.04L93 218.24L93.5 218.24L93.5 218.12L94 218.12L94 218.33L94.5 218.33L94.5 218.46L95 218.46L95 218.53L95.5 218.53L95.5 219.6ZM96.5 219.6L96.5 218.8L97 218.8L97 219.15L97.5 219.15L97.5 219.13L98 219.13L98 218.36L98.5 218.36L98.5 218.37L99 218.37L99 218.15L99.5 218.15L99.5 218.26L100 218.26L100 218L100.5 218L100.5 218.06L101 218.06L101 218.99L101.5 218.99L101.5 219.07L102 219.07L102 218.1L102.5 218.1L102.5 217.86L103 217.86L103 218.24L103.5 218.24L103.5 218.19L104 218.19L104 218.3L104.5 218.3L104.5 218.06L105 218.06L105 218.09L105.5 218.09L105.5 218.3L106 218.3L106 217.97L106.5 217.97L106.5 217.77L107 217.77L107 217.86L107.5 217.86L107.5 217.59L108 217.59L108 217.89L108.5 217.89L108.5 219.04L109 219.04L109 219.19L109.5 219.19L109.5 219.16L110 219.16L110 219.13L110.5 219.13L110.5 219.13L111 219.13L111 218.17L111.5 218.17L111.5 217.95L112 217.95L112 218.23L112.5 218.23L112.5 218.21L113 218.21L113 217.99L113.5 217.99L113.5 218.11L114 218.11L114 218.07L114.5 218.07L114.5 217.8L115 217.8L115 217.58L115.5 217.58L115.5 217.84L116 217.84L116 217.73L116.5 217.73L116.5 218.01L117 218.01L117 218.02L117.5 218.02L117.5 219.17L118 219.17L118 219.24L118.5 219.24L118.5 218.77L119 218.77L119 218.31L119.5 218.31L119.5 218.37L120 218.37L120 217.61L120.5 217.61L120.5 217.75L121 217.75L121 217.99L121.5 217.99L121.5 217.82L122 217.82L122 218.01L122.5 218.01L122.5 217.86L123 217.86L123 217.65L123.5 217.65L123.5 217.24L124 217.24L124 216.45L124.5 216.45L124.5 216.41L125 216.41L125 215.83L125.5 215.83L125.5 215.54L126 215.54L126 218.91L126.5 218.91L126.5 218.76L127 218.76L127 218.85L127.5 218.85L127.5 219.6ZM128 219.6L128 216.85L128.5 216.85L128.5 217.44L129 217.44L129 217.94L129.5 217.94L129.5 218.02L130 218.02L130 218.08L130.5 218.08L130.5 217.91L131 217.91L131 217.62L131.5 217.62L131.5 217.78L132 217.78L132 218.03L132.5 218.03L132.5 217.88L133 217.88L133 218.01L133.5 218.01L133.5 217.9L134 217.9L134 217.39L134.5 217.39L134.5 217.61L135 217.61L135 217.64L135.5 217.64L135.5 217.76L136 217.76L136 217.75L136.5 217.75L136.5 217.59L137 217.59L137 217.55L137.5 217.55L137.5 217.75L138 217.75L138 218.05L138.5 218.05L138.5 218.25L139 218.25L139 217.42L139.5 217.42L139.5 217.33L140 217.33L140 217.3L140.5 217.3L140.5 218.12L141 218.12L141 218.24L141.5 218.24L141.5 218.18L142 218.18L142 218.24L142.5 218.24L142.5 218.68L143 218.68L143 218.88L143.5 218.88L143.5 219.6ZM144.5 219.6L144.5 217.51L145 217.51L145 217.73L145.5 217.73L145.5 217.64L146 217.64L146 217.86L146.5 217.86L146.5 217.83L147 217.83L147 217.86L147.5 217.86L147.5 219.14L148 219.14L148 218.97L148.5 218.97L148.5 219.07L149 219.07L149 219.11L149.5 219.11L149.5 219.18L150 219.18L150 219.07L150.5 219.07L150.5 219.24L151 219.24L151 219.02L151.5 219.02L151.5 219.17L152 219.17L152 219.25L152.5 219.25L152.5 219.23L153 219.23L153 218.75L153.5 218.75L153.5 218.86L154 218.86L154 218.69L154.5 218.69L154.5 219.12L155 219.12L155 218.55L155.5 218.55L155.5 218.42L156 218.42L156 218.59L156.5 218.59L156.5 218.61L157 218.61L157 219.15L157.5 219.15L157.5 219.17L158 219.17L158 219.23L158.5 219.23L158.5 218.24L159 218.24L159 218.07L159.5 218.07L159.5 218.33L160 218.33L160 218.45L160.5 218.45L160.5 218.33L161 218.33L161 218.53L161.5 218.53L161.5 218.52L162 218.52L162 218.92L162.5 218.92L162.5 218.93L163 218.93L163 219.06L163.5 219.06L163.5 219.08L164 219.08L164 217.95L164.5 217.95L164.5 217.97L165 217.97L165 218.17L165.5 218.17L165.5 218.23L166 218.23L166 218.23L166.5 218.23L166.5 218.14L167 218.14L167 219.6ZM169.5 219.6L169.5 219.19L170 219.19L170 219.24L170.5 219.24L170.5 219.6ZM172 219.6L172 217.83L172.5 217.83L172.5 217.87L173 217.87L173 217.87L173.5 217.87L173.5 217.82L174 217.82L174 218.69L174.5 218.69L174.5 218.88L175 218.88L175 219.04L175.5 219.04L175.5 218.36L176 218.36L176 218.47L176.5 218.47L176.5 218.3L177 218.3L177 218.4L177.5 218.4L177.5 218.23L178 218.23L178 218.26L178.5 218.26L178.5 218.99L179 218.99L179 218.77L179.5 218.77L179.5 219.02L180 219.02L180 219.6ZM181.5 219.6L181.5 219.18L182 219.18L182 217.44L182.5 217.44L182.5 217.39L183 217.39L183 218.09L183.5 218.09L183.5 218.1L184 218.1L184 218.97L184.5 218.97L184.5 219.18L185 219.18L185 219.12L185.5 219.12L185.5 217.96L186 217.96L186 217.73L186.5 217.73L186.5 218L187 218L187 217.73L187.5 217.73L187.5 217.74L188 217.74L188 217.88L188.5 217.88L188.5 217.67L189 217.67L189 217.69L189.5 217.69L189.5 217.55L190 217.55L190 218.03L190.5 218.03L190.5 218.3L191 218.3L191 218.33L191.5 218.33L191.5 218.04L192 218.04L192 219.01L192.5 219.01L192.5 218.96L193 218.96L193 218.86L193.5 218.86L193.5 218.75L194 218.75L194 219.05L194.5 219.05L194.5 218.93L195 218.93L195 219.09L195.5 219.09L195.5 219.14L196 219.14L196 218.25L196.5 218.25L196.5 218.46L197 218.46L197 218.43L197.5 218.43L197.5 218.43L198 218.43L198 218.56L198.5 218.56L198.5 218.54L199 218.54L199 218.41L199.5 218.41L199.5 217.87L200 217.87L200 217.78L200.5 217.78L200.5 217.79L201 217.79L201 217.71L201.5 217.71L201.5 217.6L202 217.6L202 217.52L202.5 217.52L202.5 217.59L203 217.59L203 217.72L203.5 217.72L203.5 217.7L204 217.7L204 217.55L204.5 217.55L204.5 217.81L205 217.81L205 217.83L205.5 217.83L205.5 217.89L206 217.89L206 217.35L206.5 217.35L206.5 217.72L207 217.72L207 217.57L207.5 217.57L207.5 218.88L208 218.88L208 218.66L208.5 218.66L208.5 218.8L209 218.8L209 218.77L209.5 218.77L209.5 218.98L210 218.98L210 218.79L210.5 218.79L210.5 219.6ZM211 219.6L211 219.29L211.5 219.29L211.5 219.28L212 219.28L212 219.12L212.5 219.12L212.5 219.11L213 219.11L213 218.45L213.5 218.45L213.5 218.49L214 218.49L214 218.17L214.5 218.17L214.5 218.35L215 218.35L215 218.11L215.5 218.11L215.5 217.51L216 217.51L216 217.81L216.5 217.81L216.5 218.67L217 218.67L217 218.8L217.5 218.8L217.5 218.02L218 218.02L218 218.06L218.5 218.06L218.5 217.93L219 217.93L219 218.05L219.5 218.05L219.5 218.03L220 218.03L220 218.18L220.5 218.18L220.5 219.22L221 219.22L221 219.08L221.5 219.08L221.5 219L222 219L222 217.44L222.5 217.44L222.5 217.51L223 217.51L223 217.54L223.5 217.54L223.5 217.52L224 217.52L224 217.56L224.5 217.56L224.5 218L225 218L225 217.79L225.5 217.79L225.5 217.78L226 217.78L226 217.86L226.5 217.86L226.5 217.99L227 217.99L227 217.93L227.5 217.93L227.5 218.37L228 218.37L228 218.34L228.5 218.34L228.5 217.64L229 217.64L229 217.83L229.5 217.83L229.5 218.34L230 218.34L230 218.06L230.5 218.06L230.5 217.97L231 217.97L231 218.03L231.5 218.03L231.5 218.52L232 218.52L232 218.31L232.5 218.31L232.5 217.84L233 217.84L233 217.6L233.5 217.6L233.5 217.39L234 217.39L234 217.26L234.5 217.26L234.5 217.36L235 217.36L235 217.16L235.5 217.16L235.5 217L236 217L236 216.86L236.5 216.86L236.5 216.64L237 216.64L237 216.82L237.5 216.82L237.5 216.92L238 216.92L238 217.64L238.5 217.64L238.5 217.79L239 217.79L239 218.16L239.5 218.16L239.5 218.01L240 218.01L240 218.07L240.5 218.07L240.5 218.16L241 218.16L241 217.75L241.5 217.75L241.5 217.87L242 217.87L242 217.88L242.5 217.88L242.5 217.72L243 217.72L243 218.08L243.5 218.08L243.5 218.26L244 218.26L244 217.82L244.5 217.82L244.5 217.95L245 217.95L245 217.9L245.5 217.9L245.5 218.08L246 218.08L246 218.02L246.5 218.02L246.5 218.2L247 218.2L247 218.27L247.5 218.27L247.5 218.13L248 218.13L248 218.36L248.5 218.36L248.5 218.35L249 218.35L249 218.29L249.5 218.29L249.5 218.45L250 218.45L250 217.48L250.5 217.48L250.5 217.67L251 217.67L251 217.76L251.5 217.76L251.5 217.52L252 217.52L252 218.73L252.5 218.73L252.5 219.24L253 219.24L253 219.12L253.5 219.12L253.5 218.8L254 218.8L254 218.86L254.5 218.86L254.5 219.07L255 219.07L255 219.6ZM256 219.6L256 218.54L256.5 218.54L256.5 218.48L257 218.48L257 218.47L257.5 218.47L257.5 219.6ZM259.5 219.6L259.5 217.86L260 217.86L260 217.45L260.5 217.45L260.5 219.02L261 219.02L261 218.96L261.5 218.96L261.5 219.6Z" fill="#111"/>
<path d="M46 231.3L46 230.98L46.5 230.98L46.5 231.3ZM50.5 231.3L50.5 230.96L51 230.96L51 230.61L51.5 230.61L51.5 230.55L52 230.55L52 230.46L52.5 230.46L52.5 230.85L53 230.85L53 231.3ZM107 231.3L107 230.74L107.5 230.74L107.5 230.89L108 230.89L108 230.82L108.5 230.82L108.5 231.3ZM123 231.3L123 230.7L123.5 230.7L123.5 230.3L124 230.3L124 229.9L124.5 229.9L124.5 229.5L125 229.5L125 229.5L125.5 229.5L125.5 229.9L126 229.9L126 229.78L126.5 229.78L126.5 229.98L127 229.98L127 230.15L127.5 230.15L127.5 230.59L128 230.59L128 231.3ZM130.5 231.3L130.5 230.84L131 230.84L131 230.37L131.5 230.37L131.5 230.55L132 230.55L132 230.47L132.5 230.47L132.5 231.3ZM137 231.3L137 230.96L137.5 230.96L137.5 231.3ZM147 231.3L147 230.86L147.5 230.86L147.5 231.3ZM148 231.3L148 230.84L148.5 230.84L148.5 231.3ZM169 231.3L169 230.53L169.5 230.53L169.5 230.55L170 230.55L170 230.55L170.5 230.55L170.5 230.67L171 230.67L171 230.86L171.5 230.86L171.5 231.3ZM189.5 231.3L189.5 230.74L190 230.74L190 230.16L190.5 230.16L190.5 230.23L191 230.23L191 229.62L191.5 229.62L191.5 230.13L192 230.13L192 229.8L192.5 229.8L192.5 229.47L193 229.47L193 229.47L193.5 229.47L193.5 229.8L194 229.8L194 229.69L194.5 229.69L194.5 230.17L195 230.17L195 230.72L195.5 230.72L195.5 229.78L196 229.78L196 229.95L196.5 229.95L196.5 230.89L197 230.89L197 231.3ZM203.5 231.3L203.5 230.78L204 230.78L204 230.8L204.5 230.8L204.5 230.47L205 230.47L205 230.47L205.5 230.47L205.5 230.61L206 230.61L206 230.71L206.5 230.71L206.5 231.3ZM239.5 231.3L239.5 230.33L240 230.33L240 229.36L240.5 229.36L240.5 229.77L241 229.77L241 229.95L241.5 229.95L241.5 229.65L242 229.65L242 228.79L242.5 228.79L242.5 229.05L243 229.05L243 228.62L243.5 228.62L243.5 228.45L244 228.45L244 228.45L244.5 228.45L244.5 228.69L245 228.69L245 229.05L245.5 229.05L245.5 229.35L246 229.35L246 229.65L246.5 229.65L246.5 229.95L247 229.95L247 228.84L247.5 228.84L247.5 229.9L248 229.9L248 228.67L248.5 228.67L248.5 229.55L249 229.55L249 230.78L249.5 230.78L249.5 231.3Z" fill="#2e2e8a"/>
<path d="M46.5 243L46.5 242.67L47 242.67L47 242.55L47.5 242.55L47.5 243ZM48.5 243L48.5 242.24L49 242.24L49 242.05L49.5 242.05L49.5 241.99L50 241.99L50 242.6L50.5 242.6L50.5 242.2L51 242.2L51 242.32L51.5 242.32L51.5 242.47L52 242.47L52 242.34L52.5 242.34L52.5 243ZM54 243L54 242.35L54.5 242.35L54.5 242.35L55 242.35L55 242.34L55.5 242.34L55.5 241.94L56 241.94L56 242.01L56.5 242.01L56.5 241.08L57 241.08L57 240.84L57.5 240.84L57.5 240.75L58 240.75L58 240.75L58.5 240.75L58.5 240.68L59 240.68L59 241.97L59.5 241.97L59.5 242.27L60 242.27L60 242.46L60.5 242.46L60.5 242.31L61 242.31L61 242.45L61.5 242.45L61.5 242.31L62 242.31L62 242.31L62.5 242.31L62.5 242.63L63 242.63L63 242.55L63.5 242.55L63.5 242.56L64 242.56L64 242.43L64.5 242.43L64.5 243ZM69.5 243L69.5 242.48L70 242.48L70 243ZM70.5 243L70.5 242.68L71 242.68L71 242.66L71.5 242.66L71.5 242.67L72 242.67L72 242.48L72.5 242.48L72.5 242.53L73 242.53L73 242.51L73.5 242.51L73.5 242.51L74 242.51L74 242.65L74.5 242.65L74.5 242.6L75 242.6L75 242.58L75.5 242.58L75.5 242.33L76 242.33L76 242.34L76.5 242.34L76.5 242.38L77 242.38L77 242.31L77.5 242.31L77.5 242.22L78 242.22L78 242.29L78.5 242.29L78.5 242.46L79 242.46L79 242.26L79.5 242.26L79.5 242.65L80 242.65L80 242.53L80.5 242.53L80.5 242.57L81 242.57L81 242.31L81.5 242.31L81.5 242.57L82 242.57L82 242.27L82.5 242.27L82.5 243ZM85 243L85 241.97L85.5 241.97L85.5 242.33L86 242.33L86 242.29L86.5 242.29L86.5 242.31L87 242.31L87 242.31L87.5 242.31L87.5 242.31L88 242.31L88 242.4L88.5 242.4L88.5 242.25L89 242.25L89 242.15L89.5 242.15L89.5 242.28L90 242.28L90 242.33L90.5 242.33L90.5 242.33L91 242.33L91 242.49L91.5 242.49L91.5 242.6L92 242.6L92 242.63L92.5 242.63L92.5 243ZM93 243L93 242.51L93.5 242.51L93.5 241.92L94 241.92L94 242.15L94.5 242.15L94.5 242.29L95 242.29L95 242.19L95.5 242.19L95.5 242.07L96 242.07L96 242.09L96.5 242.09L96.5 241.87L97 241.87L97 241.87L97.5 241.87L97.5 241.83L98 241.83L98 243ZM99 243L99 242.53L99.5 242.53L99.5 242.42L100 242.42L100 241.25L100.5 241.25L100.5 240.08L101 240.08L101 240L101.5 240L101.5 241.08L102 241.08L102 242.42L102.5 242.42L102.5 242.18L103 242.18L103 242.25L103.5 242.25L103.5 241.94L104 241.94L104 241.87L104.5 241.87L104.5 242.1L105 242.1L105 242.37L105.5 242.37L105.5 242.49L106 242.49L106 242.33L106.5 242.33L106.5 242.65L107 242.65L107 242.55L107.5 242.55L107.5 242.43L108 242.43L108 242.45L108.5 242.45L108.5 242.52L109 242.52L109 242.3L109.5 242.3L109.5 242.18L110 242.18L110 243ZM110.5 243L110.5 242.54L111 242.54L111 242.52L111.5 242.52L111.5 242.61L112 242.61L112 242.59L112.5 242.59L112.5 242.39L113 242.39L113 242.23L113.5 242.23L113.5 242.5L114 242.5L114 242.16L114.5 242.16L114.5 242.48L115 242.48L115 242.32L115.5 242.32L115.5 242.51L116 242.51L116 242.31L116.5 242.31L116.5 243ZM118.5 243L118.5 242.46L119 242.46L119 242.32L119.5 242.32L119.5 242.19L120 242.19L120 242.32L120.5 242.32L120.5 242.16L121 242.16L121 243ZM122 243L122 242.43L122.5 242.43L122.5 242.22L123 242.22L123 243ZM125 243L125 242.43L125.5 242.43L125.5 242.37L126 242.37L126 242.27L126.5 242.27L126.5 242.3L127 242.3L127 242.45L127.5 242.45L127.5 242.44L128 242.44L128 242.32L128.5 242.32L128.5 242.37L129 242.37L129 242.34L129.5 242.34L129.5 242.09L130 242.09L130 242.29L130.5 242.29L130.5 242.19L131 242.19L131 241.94L131.5 241.94L131.5 242.7L132 242.7L132 242.59L132.5 242.59L132.5 242.64L133 242.64L133 242.69L133.5 242.69L133.5 242.05L134 242.05L134 242.62L134.5 242.62L134.5 242.65L135 242.65L135 242.23L135.5 242.23L135.5 242.31L136 242.31L136 242.41L136.5 242.41L136.5 242.23L137 242.23L137 242.47L137.5 242.47L137.5 243ZM138 243L138 242.52L138.5 242.52L138.5 242.68L139 242.68L139 242.6L139.5 242.6L139.5 242.66L140 242.66L140 243ZM141 243L141 242.65L141.5 242.65L141.5 242.62L142 242.62L142 242.39L142.5 242.39L142.5 242.36L143 242.36L143 243ZM144 243L144 242.01L144.5 242.01L144.5 242.34L145 242.34L145 241.93L145.5 241.93L145.5 242.25L146 242.25L146 241.89L146.5 241.89L146.5 242.25L147 242.25L147 242.02L147.5 242.02L147.5 242.09L148 242.09L148 242.17L148.5 242.17L148.5 243ZM152.5 243L152.5 242.07L153 242.07L153 242.13L153.5 242.13L153.5 243ZM154 243L154 242.65L154.5 242.65L154.5 242.66L155 242.66L155 242.61L155.5 242.61L155.5 242.56L156 242.56L156 242.68L156.5 242.68L156.5 242.57L157 242.57L157 242.4L157.5 242.4L157.5 242.47L158 242.47L158 242.34L158.5 242.34L158.5 242.44L159 242.44L159 242.47L159.5 242.47L159.5 242.35L160 242.35L160 242.25L160.5 242.25L160.5 240.75L161 240.75L161 240.75L161.5 240.75L161.5 242.25L162 242.25L162 242.27L162.5 242.27L162.5 241.91L163 241.91L163 242.25L163.5 242.25L163.5 243ZM165.5 243L165.5 242.61L166 242.61L166 242.43L166.5 242.43L166.5 242.43L167 242.43L167 242.58L167.5 242.58L167.5 242.2L168 242.2L168 242.18L168.5 242.18L168.5 242.16L169 242.16L169 242.42L169.5 242.42L169.5 242.07L170 242.07L170 242.5L170.5 242.5L170.5 242.45L171 242.45L171 242.54L171.5 242.54L171.5 242.62L172 242.62L172 242.57L172.5 242.57L172.5 243ZM173.5 243L173.5 242.47L174 242.47L174 242.48L174.5 242.48L174.5 242.6L175 242.6L175 242.27L175.5 242.27L175.5 243ZM178.5 243L178.5 242.15L179 242.15L179 242.08L179.5 242.08L179.5 242.26L180 242.26L180 242.22L180.5 242.22L180.5 242.17L181 242.17L181 241.99L181.5 241.99L181.5 242.35L182 242.35L182 242.14L182.5 242.14L182.5 242.35L183 242.35L183 242.59L183.5 242.59L183.5 242.68L184 242.68L184 243ZM184.5 243L184.5 242.43L185 242.43L185 242.64L185.5 242.64L185.5 243ZM186.5 243L186.5 242.4L187 242.4L187 242.15L187.5 242.15L187.5 243ZM190.5 243L190.5 242.59L191 242.59L191 242.61L191.5 242.61L191.5 242.42L192 242.42L192 243ZM193.5 243L193.5 242.58L194 242.58L194 242.51L194.5 242.51L194.5 242.31L195 242.31L195 241.07L195.5 241.07L195.5 240.5L196 240.5L196 240.5L196.5 240.5L196.5 241.5L197 241.5L197 242.5L197.5 242.5L197.5 242.69L198 242.69L198 242.59L198.5 242.59L198.5 242.48L199 242.48L199 242.68L199.5 242.68L199.5 242.67L200 242.67L200 243ZM200.5 243L200.5 242.63L201 242.63L201 242.67L201.5 242.67L201.5 242.67L202 242.67L202 242.45L202.5 242.45L202.5 242.48L203 242.48L203 242.24L203.5 242.24L203.5 243ZM205.5 243L205.5 241.93L206 241.93L206 242.58L206.5 242.58L206.5 241.92L207 241.92L207 241.96L207.5 241.96L207.5 242.27L208 242.27L208 242.35L208.5 242.35L208.5 241.99L209 241.99L209 242.69L209.5 242.69L209.5 243ZM210 243L210 242.66L210.5 242.66L210.5 242.7L211 242.7L211 242.37L211.5 242.37L211.5 242.4L212 242.4L212 242.42L212.5 242.42L212.5 242.46L213 242.46L213 242.26L213.5 242.26L213.5 242.62L214 242.62L214 242.57L214.5 242.57L214.5 242.6L215 242.6L215 242.56L215.5 242.56L215.5 242.55L216 242.55L216 241.96L216.5 241.96L216.5 242.13L217 242.13L217 242.02L217.5 242.02L217.5 242.2L218 242.2L218 242.42L218.5 242.42L218.5 242.35L219 242.35L219 242.42L219.5 242.42L219.5 242.52L220 242.52L220 242.2L220.5 242.2L220.5 242.02L221 242.02L221 242.22L221.5 242.22L221.5 242.38L222 242.38L222 243ZM224.5 243L224.5 242.37L225 242.37L225 242.35L225.5 242.35L225.5 242.3L226 242.3L226 242.19L226.5 242.19L226.5 243ZM227 243L227 242.65L227.5 242.65L227.5 242.25L228 242.25L228 242.4L228.5 242.4L228.5 242.04L229 242.04L229 243ZM230.5 243L230.5 242.19L231 242.19L231 242.29L231.5 242.29L231.5 242.22L232 242.22L232 242.38L232.5 242.38L232.5 242.11L233 242.11L233 242.22L233.5 242.22L233.5 243ZM235 243L235 241.49L235.5 241.49L235.5 241.12L236 241.12L236 241.12L236.5 241.12L236.5 242.38L237 242.38L237 242.36L237.5 242.36L237.5 242.31L238 242.31L238 242.46L238.5 242.46L238.5 242.56L239 242.56L239 242.07L239.5 242.07L239.5 242.25L240 242.25L240 243ZM241 243L241 242.2L241.5 242.2L241.5 242.64L242 242.64L242 242.66L242.5 242.66L242.5 242.56L243 242.56L243 242.64L243.5 242.64L243.5 242.66L244 242.66L244 242.4L244.5 242.4L244.5 242.3L245 242.3L245 242.03L245.5 242.03L245.5 242.21L246 242.21L246 242.39L246.5 242.39L246.5 242.01L247 242.01L247 242.2L247.5 242.2L247.5 242.23L248 242.23L248 242.01L248.5 242.01L248.5 242.38L249 242.38L249 242.16L249.5 242.16L249.5 242.4L250 242.4L250 242.58L250.5 242.58L250.5 242.38L251 242.38L251 242.53L251.5 242.53L251.5 242.55L252 242.55L252 242.59L252.5 242.59L252.5 243ZM253 243L253 242.1L253.5 242.1L253.5 242.24L254 242.24L254 242.4L254.5 242.4L254.5 242.26L255 242.26L255 242.26L255.5 242.26L255.5 242.09L256 242.09L256 242.08L256.5 242.08L256.5 243ZM257 243L257 242.05L257.5 242.05L257.5 242.02L258 242.02L258 241.97L258.5 241.97L258.5 241.89L259 241.89L259 242.44L259.5 242.44L259.5 242.36L260 242.36L260 242.46L260.5 242.46L260.5 242.26L261 242.26L261 242.31L261.5 242.31L261.5 243Z" fill="#4d9a33"/>
<path d="M46.5 254.7L46.5 253.87L47 253.87L47 254.7ZM47.5 254.7L47.5 254.25L48 254.25L48 253.98L48.5 253.98L48.5 254.08L49 254.08L49 254.7ZM73 254.7L73 254.35L73.5 254.35L73.5 254.38L74 254.38L74 254.7ZM80 254.7L80 254.37L80.5 254.37L80.5 254.27L81 254.27L81 254.25L81.5 254.25L81.5 254.37L82 254.37L82 254.7ZM105 254.7L105 253.87L105.5 253.87L105.5 253.84L106 253.84L106 254.01L106.5 254.01L106.5 254.7ZM107.5 254.7L107.5 254.36L108 254.36L108 254.34L108.5 254.34L108.5 254.7ZM109.5 254.7L109.5 254.26L110 254.26L110 254L110.5 254L110.5 254.7ZM114 254.7L114 254.36L114.5 254.36L114.5 254.19L115 254.19L115 254.33L115.5 254.33L115.5 254.29L116 254.29L116 254.7ZM118.5 254.7L118.5 254.22L119 254.22L119 253.91L119.5 253.91L119.5 253.93L120 253.93L120 254.7ZM122.5 254.7L122.5 254.14L123 254.14L123 254.7ZM124 254.7L124 253.89L124.5 253.89L124.5 254.7ZM127 254.7L127 253.85L127.5 253.85L127.5 254L128 254L128 254.02L128.5 254.02L128.5 254.27L129 254.27L129 254.7ZM130.5 254.7L130.5 254.08L131 254.08L131 254.7ZM131.5 254.7L131.5 254.08L132 254.08L132 254.08L132.5 254.08L132.5 253.66L133 253.66L133 253.89L133.5 253.89L133.5 254.7ZM144.5 254.7L144.5 254.35L145 254.35L145 254.7ZM145.5 254.7L145.5 254.36L146 254.36L146 254.34L146.5 254.34L146.5 254.14L147 254.14L147 254.11L147.5 254.11L147.5 253.99L148 253.99L148 254.01L148.5 254.01L148.5 253.95L149 253.95L149 254.1L149.5 254.1L149.5 254.7ZM150.5 254.7L150.5 254.07L151 254.07L151 253.88L151.5 253.88L151.5 254.7ZM152.5 254.7L152.5 253.96L153 253.96L153 253.95L153.5 253.95L153.5 254.13L154 254.13L154 254.7ZM157 254.7L157 254.36L157.5 254.36L157.5 254.7ZM158 254.7L158 254.31L158.5 254.31L158.5 254.7ZM159 254.7L159 254.34L159.5 254.34L159.5 254.7ZM163.5 254.7L163.5 254.2L164 254.2L164 254.7ZM167 254.7L167 254.16L167.5 254.16L167.5 254.29L168 254.29L168 254.28L168.5 254.28L168.5 254.36L169 254.36L169 254.3L169.5 254.3L169.5 254.7ZM182 254.7L182 254.24L182.5 254.24L182.5 254.7ZM186.5 254.7L186.5 254.19L187 254.19L187 254.3L187.5 254.3L187.5 254.34L188 254.34L188 254.7ZM195.5 254.7L195.5 253.69L196 253.69L196 254.7ZM201 254.7L201 254.13L201.5 254.13L201.5 254.3L202 254.3L202 254.7ZM208 254.7L208 254.1L208.5 254.1L208.5 253.9L209 253.9L209 254.7ZM216.5 254.7L216.5 253.73L217 253.73L217 254.7ZM221 254.7L221 254.37L221.5 254.37L221.5 254.36L222 254.36L222 254.7ZM222.5 254.7L222.5 254.36L223 254.36L223 254.7ZM225.5 254.7L225.5 254.09L226 254.09L226 254.09L226.5 254.09L226.5 253.89L227 253.89L227 254.7ZM235.5 254.7L235.5 254.3L236 254.3L236 254.3L236.5 254.3L236.5 254.27L237 254.27L237 254.37L237.5 254.37L237.5 254.12L238 254.12L238 254.17L238.5 254.17L238.5 254.16L239 254.16L239 254.31L239.5 254.31L239.5 254.7ZM247 254.7L247 254.16L247.5 254.16L247.5 254.09L248 254.09L248 253.93L248.5 253.93L248.5 254.7ZM251 254.7L251 254.24L251.5 254.24L251.5 254.4L252 254.4L252 254.36L252.5 254.36L252.5 253.97L253 253.97L253 254.21L253.5 254.21L253.5 254.7ZM260 254.7L260 254.32L260.5 254.32L260.5 254.23L261 254.23L261 254.16L261.5 254.16L261.5 254.7Z" fill="#8a3a9a"/>
<path d="M45 266.9L45 266.41L45.5 266.41L45.5 266.5L46 266.5L46 266.46L46.5 266.46L46.5 266.59L47 266.59L47 266.9ZM47.5 266.9L47.5 265.97L48 265.97L48 266.14L48.5 266.14L48.5 266.43L49 266.43L49 266.55L49.5 266.55L49.5 266.59L50 266.59L50 266.56L50.5 266.56L50.5 266.56L51 266.56L51 266.35L51.5 266.35L51.5 266.36L52 266.36L52 266.9ZM52.5 266.9L52.5 266.35L53 266.35L53 266.46L53.5 266.46L53.5 266.54L54 266.54L54 266.9ZM56.5 266.9L56.5 266.27L57 266.27L57 266.28L57.5 266.28L57.5 266.9ZM58.5 266.9L58.5 266.32L59 266.32L59 266.23L59.5 266.23L59.5 266.17L60 266.17L60 266.9ZM68 266.9L68 266.27L68.5 266.27L68.5 266.37L69 266.37L69 266.34L69.5 266.34L69.5 266.9ZM71.5 266.9L71.5 266.44L72 266.44L72 266.42L72.5 266.42L72.5 266.9ZM73 266.9L73 265.79L73.5 265.79L73.5 266.28L74 266.28L74 266.52L74.5 266.52L74.5 266.9ZM75 266.9L75 266.22L75.5 266.22L75.5 266.21L76 266.21L76 266.43L76.5 266.43L76.5 266.4L77 266.4L77 266.39L77.5 266.39L77.5 266.9ZM80 266.9L80 265.69L80.5 265.69L80.5 266.45L81 266.45L81 266.48L81.5 266.48L81.5 266.34L82 266.34L82 266.15L82.5 266.15L82.5 265.81L83 265.81L83 266.9ZM90.5 266.9L90.5 266.05L91 266.05L91 266.16L91.5 266.16L91.5 266.05L92 266.05L92 266.16L92.5 266.16L92.5 266.31L93 266.31L93 266.9ZM100 266.9L100 266.33L100.5 266.33L100.5 266.28L101 266.28L101 266.9ZM105 266.9L105 265.88L105.5 265.88L105.5 266.9ZM109 266.9L109 266.53L109.5 266.53L109.5 266.47L110 266.47L110 266.58L110.5 266.58L110.5 266.08L111 266.08L111 265.87L111.5 265.87L111.5 266.24L112 266.24L112 266.9ZM118.5 266.9L118.5 266.26L119 266.26L119 266.19L119.5 266.19L119.5 266.39L120 266.39L120 266.39L120.5 266.39L120.5 266.19L121 266.19L121 266.41L121.5 266.41L121.5 266.39L122 266.39L122 266.19L122.5 266.19L122.5 266.4L123 266.4L123 266.36L123.5 266.36L123.5 266.9ZM124 266.9L124 265.85L124.5 265.85L124.5 265.97L125 265.97L125 266.9ZM127 266.9L127 266.18L127.5 266.18L127.5 266.23L128 266.23L128 266.35L128.5 266.35L128.5 265.89L129 265.89L129 266.23L129.5 266.23L129.5 265.94L130 265.94L130 266.15L130.5 266.15L130.5 266.45L131 266.45L131 266.5L131.5 266.5L131.5 266.4L132 266.4L132 266.55L132.5 266.55L132.5 266.9ZM133 266.9L133 266.53L133.5 266.53L133.5 266.5L134 266.5L134 266.9ZM136 266.9L136 265.96L136.5 265.96L136.5 266.9ZM139 266.9L139 265.81L139.5 265.81L139.5 265.88L140 265.88L140 265.5L140.5 265.5L140.5 266.9ZM144 266.9L144 265.7L144.5 265.7L144.5 265.61L145 265.61L145 266.9ZM147.5 266.9L147.5 265.62L148 265.62L148 265.51L148.5 265.51L148.5 265.79L149 265.79L149 265.92L149.5 265.92L149.5 266.9ZM153.5 266.9L153.5 266.36L154 266.36L154 266.31L154.5 266.31L154.5 266.9ZM158 266.9L158 266.48L158.5 266.48L158.5 266.47L159 266.47L159 266.28L159.5 266.28L159.5 266.5L160 266.5L160 266.9ZM160.5 266.9L160.5 265.98L161 265.98L161 266.18L161.5 266.18L161.5 266.17L162 266.17L162 266.9ZM164.5 266.9L164.5 266.02L165 266.02L165 266.24L165.5 266.24L165.5 265.96L166 265.96L166 266.11L166.5 266.11L166.5 266.9ZM168 266.9L168 265.94L168.5 265.94L168.5 265.82L169 265.82L169 265.8L169.5 265.8L169.5 266.9ZM174.5 266.9L174.5 266.35L175 266.35L175 266.33L175.5 266.33L175.5 266.37L176 266.37L176 266.9ZM180 266.9L180 266.2L180.5 266.2L180.5 265.78L181 265.78L181 265.9L181.5 265.9L181.5 265.9L182 265.9L182 265.89L182.5 265.89L182.5 266.9ZM184.5 266.9L184.5 266.07L185 266.07L185 266.11L185.5 266.11L185.5 266.9ZM188.5 266.9L188.5 266.16L189 266.16L189 266.18L189.5 266.18L189.5 266.26L190 266.26L190 265.88L190.5 265.88L190.5 265.95L191 265.95L191 266.08L191.5 266.08L191.5 266.9ZM193 266.9L193 266.53L193.5 266.53L193.5 266.33L194 266.33L194 266.31L194.5 266.31L194.5 266.46L195 266.46L195 266.51L195.5 266.51L195.5 266.22L196 266.22L196 266.57L196.5 266.57L196.5 266.55L197 266.55L197 266.52L197.5 266.52L197.5 266.18L198 266.18L198 266.9ZM199.5 266.9L199.5 266.23L200 266.23L200 266.9ZM208.5 266.9L208.5 265.93L209 265.93L209 265.89L209.5 265.89L209.5 265.77L210 265.77L210 266.1L210.5 266.1L210.5 266.15L211 266.15L211 266.43L211.5 266.43L211.5 266.46L212 266.46L212 266.1L212.5 266.1L212.5 266.36L213 266.36L213 266.2L213.5 266.2L213.5 266.09L214 266.09L214 266.03L214.5 266.03L214.5 265.93L215 265.93L215 266.9ZM219.5 266.9L219.5 266.06L220 266.06L220 265.95L220.5 265.95L220.5 266L221 266L221 266.03L221.5 266.03L221.5 266.9ZM223.5 266.9L223.5 266.3L224 266.3L224 266.21L224.5 266.21L224.5 266.22L225 266.22L225 266.43L225.5 266.43L225.5 266.21L226 266.21L226 266.37L226.5 266.37L226.5 266.44L227 266.44L227 266.46L227.5 266.46L227.5 266.9ZM233 266.9L233 265.7L233.5 265.7L233.5 265.75L234 265.75L234 266.08L234.5 266.08L234.5 266.16L235 266.16L235 266.21L235.5 266.21L235.5 266L236 266L236 266.2L236.5 266.2L236.5 266.9ZM238.5 266.9L238.5 266.39L239 266.39L239 266.34L239.5 266.34L239.5 266.9ZM241 266.9L241 266.31L241.5 266.31L241.5 266.9ZM244 266.9L244 265.86L244.5 265.86L244.5 266.06L245 266.06L245 266.27L245.5 266.27L245.5 266.59L246 266.59L246 265.67L246.5 265.67L246.5 266.04L247 266.04L247 266.9ZM253.5 266.9L253.5 266.1L254 266.1L254 266.3L254.5 266.3L254.5 266.17L255 266.17L255 266.05L255.5 266.05L255.5 266.9ZM260 266.9L260 266.4L260.5 266.4L260.5 266.48L261 266.48L261 266.48L261.5 266.48L261.5 266.9Z" fill="#444"/>
<path d="M45 278.6L45 277.73L45.5 277.73L45.5 277.62L46 277.62L46 278.22L46.5 278.22L46.5 278.26L47 278.26L47 278.6ZM48 278.6L48 278.26L48.5 278.26L48.5 278.6ZM49.5 278.6L49.5 278.23L50 278.23L50 278.08L50.5 278.08L50.5 277.89L51 277.89L51 278.01L51.5 278.01L51.5 277.98L52 277.98L52 278.2L52.5 278.2L52.5 277.83L53 277.83L53 277.9L53.5 277.9L53.5 278.04L54 278.04L54 277.74L54.5 277.74L54.5 277.97L55 277.97L55 277.8L55.5 277.8L55.5 277.78L56 277.78L56 277.75L56.5 277.75L56.5 277.73L57 277.73L57 277.48L57.5 277.48L57.5 277.02L58 277.02L58 276.87L58.5 276.87L58.5 276.57L59 276.57L59 276.2L59.5 276.2L59.5 276.47L60 276.47L60 276.56L60.5 276.56L60.5 276.1L61 276.1L61 277.67L61.5 277.67L61.5 277.52L62 277.52L62 277.52L62.5 277.52L62.5 277.68L63 277.68L63 277.62L63.5 277.62L63.5 277.54L64 277.54L64 276.96L64.5 276.96L64.5 277.1L65 277.1L65 276.96L65.5 276.96L65.5 276.83L66 276.83L66 276.14L66.5 276.14L66.5 276.5L67 276.5L67 276.47L67.5 276.47L67.5 276.89L68 276.89L68 277.19L68.5 277.19L68.5 277.19L69 277.19L69 277.34L69.5 277.34L69.5 277.62L70 277.62L70 278.6ZM71 278.6L71 277.71L71.5 277.71L71.5 277.44L72 277.44L72 277.79L72.5 277.79L72.5 277.45L73 277.45L73 278.6ZM75.5 278.6L75.5 277.96L76 277.96L76 277.78L76.5 277.78L76.5 278L77 278L77 277.55L77.5 277.55L77.5 277.93L78 277.93L78 278.04L78.5 278.04L78.5 278.6ZM81 278.6L81 278.15L81.5 278.15L81.5 278L82 278L82 278.16L82.5 278.16L82.5 278.01L83 278.01L83 277.98L83.5 277.98L83.5 278.29L84 278.29L84 278.21L84.5 278.21L84.5 278.6ZM85 278.6L85 277.97L85.5 277.97L85.5 277.74L86 277.74L86 278.6ZM87.5 278.6L87.5 278.25L88 278.25L88 277.88L88.5 277.88L88.5 277.87L89 277.87L89 277.79L89.5 277.79L89.5 277.83L90 277.83L90 277.72L90.5 277.72L90.5 277.67L91 277.67L91 278.1L91.5 278.1L91.5 277.81L92 277.81L92 277.99L92.5 277.99L92.5 277.89L93 277.89L93 276.36L93.5 276.36L93.5 276.49L94 276.49L94 276.83L94.5 276.83L94.5 276.86L95 276.86L95 277.07L95.5 277.07L95.5 277.14L96 277.14L96 277.17L96.5 277.17L96.5 277.14L97 277.14L97 277.45L97.5 277.45L97.5 277.64L98 277.64L98 277.55L98.5 277.55L98.5 277.58L99 277.58L99 277.73L99.5 277.73L99.5 277.79L100 277.79L100 278.03L100.5 278.03L100.5 278.21L101 278.21L101 277.56L101.5 277.56L101.5 277.94L102 277.94L102 277.7L102.5 277.7L102.5 278.22L103 278.22L103 278.13L103.5 278.13L103.5 278.6ZM106.5 278.6L106.5 278.25L107 278.25L107 277.92L107.5 277.92L107.5 277.82L108 277.82L108 277.77L108.5 277.77L108.5 278.04L109 278.04L109 278.6ZM110 278.6L110 277.8L110.5 277.8L110.5 277.89L111 277.89L111 277.64L111.5 277.64L111.5 278.6ZM112 278.6L112 277.65L112.5 277.65L112.5 277.44L113 277.44L113 277.55L113.5 277.55L113.5 277.54L114 277.54L114 277.65L114.5 277.65L114.5 277.62L115 277.62L115 277.68L115.5 277.68L115.5 277.64L116 277.64L116 277.55L116.5 277.55L116.5 277.63L117 277.63L117 277.64L117.5 277.64L117.5 277.38L118 277.38L118 277.65L118.5 277.65L118.5 277.68L119 277.68L119 278.6ZM120 278.6L120 277.12L120.5 277.12L120.5 277.22L121 277.22L121 277.1L121.5 277.1L121.5 278.6ZM124 278.6L124 277.68L124.5 277.68L124.5 277.73L125 277.73L125 277.84L125.5 277.84L125.5 277.34L126 277.34L126 277.43L126.5 277.43L126.5 277.25L127 277.25L127 277.16L127.5 277.16L127.5 277.26L128 277.26L128 277.25L128.5 277.25L128.5 277.66L129 277.66L129 277.81L129.5 277.81L129.5 278L130 278L130 277.97L130.5 277.97L130.5 278.14L131 278.14L131 277.96L131.5 277.96L131.5 277.97L132 277.97L132 277.98L132.5 277.98L132.5 277.81L133 277.81L133 278.19L133.5 278.19L133.5 278.25L134 278.25L134 278.24L134.5 278.24L134.5 278.12L135 278.12L135 277.97L135.5 277.97L135.5 278.11L136 278.11L136 277.19L136.5 277.19L136.5 276.81L137 276.81L137 276.66L137.5 276.66L137.5 276.52L138 276.52L138 276.31L138.5 276.31L138.5 276.61L139 276.61L139 276.28L139.5 276.28L139.5 276.86L140 276.86L140 276.87L140.5 276.87L140.5 276.97L141 276.97L141 276.96L141.5 276.96L141.5 277.07L142 277.07L142 276.91L142.5 276.91L142.5 277.18L143 277.18L143 277.33L143.5 277.33L143.5 277.12L144 277.12L144 277.33L144.5 277.33L144.5 277.52L145 277.52L145 277.13L145.5 277.13L145.5 276.82L146 276.82L146 277.12L146.5 277.12L146.5 277.27L147 277.27L147 277.2L147.5 277.2L147.5 277.29L148 277.29L148 277.37L148.5 277.37L148.5 277.44L149 277.44L149 278.01L149.5 278.01L149.5 278.12L150 278.12L150 278.19L150.5 278.19L150.5 278.23L151 278.23L151 277.37L151.5 277.37L151.5 277.39L152 277.39L152 278.6ZM153.5 278.6L153.5 277.55L154 277.55L154 277.63L154.5 277.63L154.5 277.59L155 277.59L155 277.63L155.5 277.63L155.5 277.5L156 277.5L156 277.51L156.5 277.51L156.5 277.2L157 277.2L157 277.4L157.5 277.4L157.5 277.46L158 277.46L158 277.41L158.5 277.41L158.5 277.7L159 277.7L159 277.69L159.5 277.69L159.5 276.64L160 276.64L160 276.75L160.5 276.75L160.5 278.09L161 278.09L161 278.08L161.5 278.08L161.5 276.79L162 276.79L162 276.74L162.5 276.74L162.5 276.94L163 276.94L163 277.15L163.5 277.15L163.5 277.04L164 277.04L164 276.96L164.5 276.96L164.5 277.25L165 277.25L165 277.25L165.5 277.25L165.5 277.41L166 277.41L166 277.11L166.5 277.11L166.5 277.21L167 277.21L167 276.98L167.5 276.98L167.5 276.76L168 276.76L168 277.05L168.5 277.05L168.5 276.92L169 276.92L169 277.89L169.5 277.89L169.5 278.26L170 278.26L170 278.27L170.5 278.27L170.5 278.19L171 278.19L171 278.6ZM171.5 278.6L171.5 277.68L172 277.68L172 277.85L172.5 277.85L172.5 276.7L173 276.7L173 276.91L173.5 276.91L173.5 276.91L174 276.91L174 278.6ZM175.5 278.6L175.5 278.26L176 278.26L176 278.13L176.5 278.13L176.5 278.16L177 278.16L177 277.69L177.5 277.69L177.5 277.69L178 277.69L178 277.24L178.5 277.24L178.5 277.04L179 277.04L179 276.96L179.5 276.96L179.5 277.22L180 277.22L180 277.32L180.5 277.32L180.5 277.32L181 277.32L181 277.62L181.5 277.62L181.5 277.31L182 277.31L182 277.46L182.5 277.46L182.5 277.26L183 277.26L183 277.42L183.5 277.42L183.5 277.35L184 277.35L184 276.66L184.5 276.66L184.5 276.7L185 276.7L185 276.99L185.5 276.99L185.5 276.64L186 276.64L186 276.54L186.5 276.54L186.5 276.5L187 276.5L187 276.7L187.5 276.7L187.5 276.81L188 276.81L188 277.05L188.5 277.05L188.5 277.02L189 277.02L189 277.15L189.5 277.15L189.5 277.08L190 277.08L190 276.85L190.5 276.85L190.5 277.22L191 277.22L191 277.26L191.5 277.26L191.5 277.4L192 277.4L192 277.07L192.5 277.07L192.5 276.83L193 276.83L193 276.46L193.5 276.46L193.5 276.74L194 276.74L194 278.6ZM194.5 278.6L194.5 277.99L195 277.99L195 277.77L195.5 277.77L195.5 277.95L196 277.95L196 277.68L196.5 277.68L196.5 277.52L197 277.52L197 278.01L197.5 278.01L197.5 278.12L198 278.12L198 277.95L198.5 277.95L198.5 278.08L199 278.08L199 277.65L199.5 277.65L199.5 277.51L200 277.51L200 277.49L200.5 277.49L200.5 277.63L201 277.63L201 277.56L201.5 277.56L201.5 277.56L202 277.56L202 277.01L202.5 277.01L202.5 277.19L203 277.19L203 277.32L203.5 277.32L203.5 277.36L204 277.36L204 277.26L204.5 277.26L204.5 277.09L205 277.09L205 277.12L205.5 277.12L205.5 276.97L206 276.97L206 276.93L206.5 276.93L206.5 277.96L207 277.96L207 277.97L207.5 277.97L207.5 277.19L208 277.19L208 277.09L208.5 277.09L208.5 277.13L209 277.13L209 277.4L209.5 277.4L209.5 276.67L210 276.67L210 276.88L210.5 276.88L210.5 276.79L211 276.79L211 276.75L211.5 276.75L211.5 278.15L212 278.15L212 278.07L212.5 278.07L212.5 278.21L213 278.21L213 278.24L213.5 278.24L213.5 278.6ZM214.5 278.6L214.5 277.44L215 277.44L215 277.28L215.5 277.28L215.5 277.12L216 277.12L216 276.99L216.5 276.99L216.5 276.76L217 276.76L217 276.76L217.5 276.76L217.5 277.02L218 277.02L218 277.19L218.5 277.19L218.5 277.19L219 277.19L219 278.16L219.5 278.16L219.5 278.04L220 278.04L220 277.74L220.5 277.74L220.5 278.27L221 278.27L221 278.2L221.5 278.2L221.5 278.19L222 278.19L222 278.6ZM223.5 278.6L223.5 276.46L224 276.46L224 276.78L224.5 276.78L224.5 277.88L225 277.88L225 277.59L225.5 277.59L225.5 276.74L226 276.74L226 276.86L226.5 276.86L226.5 277.04L227 277.04L227 276.97L227.5 276.97L227.5 277.11L228 277.11L228 276.9L228.5 276.9L228.5 276.67L229 276.67L229 276.46L229.5 276.46L229.5 276.52L230 276.52L230 276.39L230.5 276.39L230.5 277.31L231 277.31L231 277.4L231.5 277.4L231.5 277.33L232 277.33L232 276.84L232.5 276.84L232.5 277.11L233 277.11L233 277.31L233.5 277.31L233.5 277.02L234 277.02L234 277.25L234.5 277.25L234.5 277.2L235 277.2L235 277.09L235.5 277.09L235.5 276.9L236 276.9L236 276.98L236.5 276.98L236.5 277.09L237 277.09L237 278.6ZM238 278.6L238 276.8L238.5 276.8L238.5 276.73L239 276.73L239 276.4L239.5 276.4L239.5 276.48L240 276.48L240 277.31L240.5 277.31L240.5 277.46L241 277.46L241 277.57L241.5 277.57L241.5 277.46L242 277.46L242 277.26L242.5 277.26L242.5 277.21L243 277.21L243 277.13L243.5 277.13L243.5 277.37L244 277.37L244 277.23L244.5 277.23L244.5 277.4L245 277.4L245 276.59L245.5 276.59L245.5 276.42L246 276.42L246 276.82L246.5 276.82L246.5 276.67L247 276.67L247 276.81L247.5 276.81L247.5 276.53L248 276.53L248 277.58L248.5 277.58L248.5 277.51L249 277.51L249 277.53L249.5 277.53L249.5 277.53L250 277.53L250 277.76L250.5 277.76L250.5 277.69L251 277.69L251 277.64L251.5 277.64L251.5 277.83L252 277.83L252 277.91L252.5 277.91L252.5 278.25L253 278.25L253 278.15L253.5 278.15L253.5 278.17L254 278.17L254 278.6ZM254.5 278.6L254.5 278.01L255 278.01L255 278.13L255.5 278.13L255.5 278.16L256 278.16L256 278.04L256.5 278.04L256.5 278.14L257 278.14L257 278L257.5 278L257.5 277.7L258 277.7L258 277.42L258.5 277.42L258.5 277.21L259 277.21L259 277.37L259.5 277.37L259.5 276.59L260 276.59L260 276.42L260.5 276.42L260.5 276.58L261 276.58L261 276.41L261.5 276.41L261.5 278.6Z" fill="#111"/>
<path d="M74.5 290.3L74.5 289.91L75 289.91L75 289.89L75.5 289.89L75.5 289.94L76 289.94L76 290.3ZM96.5 290.3L96.5 289.86L97 289.86L97 289.9L97.5 289.9L97.5 290.3ZM228 290.3L228 289.98L228.5 289.98L228.5 290.3ZM229.5 290.3L229.5 290L230 290L230 290.3Z" fill="#2e2e8a"/>
<path d="M121 290.3L121 289.92L121.5 289.92L121.5 289.59L122 289.59L122 289.38L122.5 289.38L122.5 288.89L123 288.89L123 289.01L123.5 289.01L123.5 289.17L124 289.17L124 289.54L124.5 289.54L124.5 289.2L125 289.2L125 288.76L125.5 288.76L125.5 288.28L126 288.28L126 288.01L126.5 288.01L126.5 287.84L127 287.84L127 287.8L127.5 287.8L127.5 287.89L128 287.89L128 288.52L128.5 288.52L128.5 288.24L129 288.24L129 288.25L129.5 288.25L129.5 288.77L130 288.77L130 289.24L130.5 289.24L130.5 289.85L131 289.85L131 290.3ZM178.5 290.3L178.5 289.86L179 289.86L179 289.69L179.5 289.69L179.5 289.31L180 289.31L180 289.25L180.5 289.25L180.5 289.42L181 289.42L181 289.2L181.5 289.2L181.5 289.1L182 289.1L182 289.32L182.5 289.32L182.5 289.57L183 289.57L183 289.8L183.5 289.8L183.5 290.3ZM189 290.3L189 289.5L189.5 289.5L189.5 289.39L190 289.39L190 287.3L190.5 287.3L190.5 287.25L191 287.25L191 285.03L191.5 285.03L191.5 285.58L192 285.58L192 284.88L192.5 284.88L192.5 284.71L193 284.71L193 286.22L193.5 286.22L193.5 287.23L194 287.23L194 286.03L194.5 286.03L194.5 286.19L195 286.19L195 283.98L195.5 283.98L195.5 284.1L196 284.1L196 283.61L196.5 283.61L196.5 284.12L197 284.12L197 285.05L197.5 285.05L197.5 287.04L198 287.04L198 285.6L198.5 285.6L198.5 284.79L199 284.79L199 284.48L199.5 284.48L199.5 285.36L200 285.36L200 285.41L200.5 285.41L200.5 287.2L201 287.2L201 288.66L201.5 288.66L201.5 290.3ZM203.5 290.3L203.5 289.07L204 289.07L204 287.88L204.5 287.88L204.5 287.18L205 287.18L205 286.2L205.5 286.2L205.5 286.38L206 286.38L206 286.01L206.5 286.01L206.5 284.46L207 284.46L207 286.07L207.5 286.07L207.5 286.23L208 286.23L208 285.78L208.5 285.78L208.5 283.45L209 283.45L209 284.83L209.5 284.83L209.5 284.8L210 284.8L210 285.63L210.5 285.63L210.5 284.52L211 284.52L211 283.55L211.5 283.55L211.5 283.61L212 283.61L212 282.66L212.5 282.66L212.5 282.78L213 282.78L213 284.89L213.5 284.89L213.5 285.95L214 285.95L214 284.65L214.5 284.65L214.5 284.01L215 284.01L215 282.9L215.5 282.9L215.5 284.81L216 284.81L216 286.2L216.5 286.2L216.5 286.1L217 286.1L217 287.37L217.5 287.37L217.5 286.74L218 286.74L218 286.69L218.5 286.69L218.5 286.51L219 286.51L219 287.66L219.5 287.66L219.5 289.23L220 289.23L220 290.3ZM224.5 290.3L224.5 289.69L225 289.69L225 288.68L225.5 288.68L225.5 288.13L226 288.13L226 287.4L226.5 287.4L226.5 286.82L227 286.82L227 286.99L227.5 286.99L227.5 287.29L228 287.29L228 287.05L228.5 287.05L228.5 286.81L229 286.81L229 287.27L229.5 287.27L229.5 287.07L230 287.07L230 288.15L230.5 288.15L230.5 288.73L231 288.73L231 289.57L231.5 289.57L231.5 290.3ZM237.5 290.3L237.5 289.99L238 289.99L238 288.84L238.5 288.84L238.5 287.07L239 287.07L239 285.45L239.5 285.45L239.5 285.46L240 285.46L240 285.62L240.5 285.62L240.5 285.51L241 285.51L241 286.79L241.5 286.79L241.5 287.09L242 287.09L242 285.82L242.5 285.82L242.5 283.94L243 283.94L243 283.99L243.5 283.99L243.5 282.86L244 282.86L244 284.04L244.5 284.04L244.5 286.67L245 286.67L245 283.86L245.5 283.86L245.5 284.61L246 284.61L246 284.3L246.5 284.3L246.5 284.7L247 284.7L247 284.53L247.5 284.53L247.5 286.16L248 286.16L248 286.36L248.5 286.36L248.5 285.89L249 285.89L249 284.97L249.5 284.97L249.5 284.78L250 284.78L250 285.55L250.5 285.55L250.5 287.43L251 287.43L251 287.5L251.5 287.5L251.5 287.16L252 287.16L252 287.56L252.5 287.56L252.5 288.32L253 288.32L253 289.56L253.5 289.56L253.5 290.3ZM256 290.3L256 289.87L256.5 289.87L256.5 289.38L257 289.38L257 289.47L257.5 289.47L257.5 289.75L258 289.75L258 290.3Z" fill="#2e2e8a"/>
<path d="M46 302L46 301.6L46.5 301.6L46.5 302ZM47 302L47 301.2L47.5 301.2L47.5 301.49L48 301.49L48 301.39L48.5 301.39L48.5 301.41L49 301.41L49 301.14L49.5 301.14L49.5 302ZM50 302L50 301.38L50.5 301.38L50.5 301.37L51 301.37L51 301.68L51.5 301.68L51.5 301.54L52 301.54L52 301.46L52.5 301.46L52.5 301.52L53 301.52L53 301.48L53.5 301.48L53.5 301.46L54 301.46L54 301.6L54.5 301.6L54.5 301.28L55 301.28L55 301.28L55.5 301.28L55.5 301.04L56 301.04L56 301.19L56.5 301.19L56.5 301.54L57 301.54L57 301.54L57.5 301.54L57.5 301.48L58 301.48L58 301.28L58.5 301.28L58.5 301.4L59 301.4L59 301.47L59.5 301.47L59.5 301.2L60 301.2L60 301.44L60.5 301.44L60.5 301.36L61 301.36L61 302ZM65 302L65 301.31L65.5 301.31L65.5 301.32L66 301.32L66 301.11L66.5 301.11L66.5 301.13L67 301.13L67 301.49L67.5 301.49L67.5 301.19L68 301.19L68 301.22L68.5 301.22L68.5 302ZM69 302L69 301.67L69.5 301.67L69.5 301.57L70 301.57L70 301.6L70.5 301.6L70.5 301.66L71 301.66L71 301.04L71.5 301.04L71.5 301.41L72 301.41L72 302ZM73 302L73 301.33L73.5 301.33L73.5 301.59L74 301.59L74 301.52L74.5 301.52L74.5 301.46L75 301.46L75 301.48L75.5 301.48L75.5 301.1L76 301.1L76 301.13L76.5 301.13L76.5 301.17L77 301.17L77 301.2L77.5 301.2L77.5 301.17L78 301.17L78 301.7L78.5 301.7L78.5 301.62L79 301.62L79 301.59L79.5 301.59L79.5 301.51L80 301.51L80 302ZM81 302L81 301.41L81.5 301.41L81.5 301.38L82 301.38L82 301.46L82.5 301.46L82.5 301.52L83 301.52L83 301.68L83.5 301.68L83.5 301.58L84 301.58L84 301.6L84.5 301.6L84.5 301.59L85 301.59L85 301.67L85.5 301.67L85.5 301.27L86 301.27L86 301.19L86.5 301.19L86.5 301.32L87 301.32L87 301.2L87.5 301.2L87.5 301.15L88 301.15L88 301L88.5 301L88.5 301.17L89 301.17L89 301.58L89.5 301.58L89.5 301.32L90 301.32L90 302ZM92.5 302L92.5 301.55L93 301.55L93 301.69L93.5 301.69L93.5 301.54L94 301.54L94 301.57L94.5 301.57L94.5 302ZM95 302L95 301.24L95.5 301.24L95.5 301.15L96 301.15L96 301.38L96.5 301.38L96.5 301.43L97 301.43L97 302ZM100.5 302L100.5 301.48L101 301.48L101 301.49L101.5 301.49L101.5 301.6L102 301.6L102 301.46L102.5 301.46L102.5 301.24L103 301.24L103 301.52L103.5 301.52L103.5 301.53L104 301.53L104 301.19L104.5 301.19L104.5 301.32L105 301.32L105 300.98L105.5 300.98L105.5 301.17L106 301.17L106 301.32L106.5 301.32L106.5 301.28L107 301.28L107 301.4L107.5 301.4L107.5 301.34L108 301.34L108 301.27L108.5 301.27L108.5 301.38L109 301.38L109 301.53L109.5 301.53L109.5 301.44L110 301.44L110 301.66L110.5 301.66L110.5 301.62L111 301.62L111 302ZM111.5 302L111.5 301.13L112 301.13L112 301.36L112.5 301.36L112.5 301.36L113 301.36L113 301.28L113.5 301.28L113.5 301.41L114 301.41L114 301.48L114.5 301.48L114.5 301.29L115 301.29L115 302ZM115.5 302L115.5 301.21L116 301.21L116 301.5L116.5 301.5L116.5 302ZM119 302L119 301.44L119.5 301.44L119.5 301.38L120 301.38L120 301.17L120.5 301.17L120.5 300.93L121 300.93L121 301.55L121.5 301.55L121.5 301.69L122 301.69L122 301.58L122.5 301.58L122.5 301.65L123 301.65L123 301.68L123.5 301.68L123.5 301.33L124 301.33L124 301.52L124.5 301.52L124.5 301.43L125 301.43L125 302ZM127.5 302L127.5 301.52L128 301.52L128 302ZM130 302L130 301.46L130.5 301.46L130.5 301.41L131 301.41L131 301.66L131.5 301.66L131.5 301.61L132 301.61L132 301.42L132.5 301.42L132.5 301.03L133 301.03L133 300.86L133.5 300.86L133.5 301.14L134 301.14L134 300.94L134.5 300.94L134.5 301.3L135 301.3L135 301.21L135.5 301.21L135.5 302ZM139 302L139 301.4L139.5 301.4L139.5 301L140 301L140 301.15L140.5 301.15L140.5 301.12L141 301.12L141 301.16L141.5 301.16L141.5 302ZM143.5 302L143.5 301.23L144 301.23L144 300.96L144.5 300.96L144.5 300.94L145 300.94L145 301.08L145.5 301.08L145.5 301.16L146 301.16L146 301.42L146.5 301.42L146.5 301.52L147 301.52L147 301.51L147.5 301.51L147.5 301.39L148 301.39L148 301.39L148.5 301.39L148.5 301.46L149 301.46L149 300.92L149.5 300.92L149.5 301.04L150 301.04L150 301.15L150.5 301.15L150.5 302ZM151.5 302L151.5 301.2L152 301.2L152 300.93L152.5 300.93L152.5 300.86L153 300.86L153 301.33L153.5 301.33L153.5 301.25L154 301.25L154 301.38L154.5 301.38L154.5 301.12L155 301.12L155 301.09L155.5 301.09L155.5 301.39L156 301.39L156 301.05L156.5 301.05L156.5 301.68L157 301.68L157 301.67L157.5 301.67L157.5 301.56L158 301.56L158 301.53L158.5 301.53L158.5 301.37L159 301.37L159 301.3L159.5 301.3L159.5 301.19L160 301.19L160 301.44L160.5 301.44L160.5 301.43L161 301.43L161 301.43L161.5 301.43L161.5 301.54L162 301.54L162 301.56L162.5 301.56L162.5 301.64L163 301.64L163 301.65L163.5 301.65L163.5 301.66L164 301.66L164 301.55L164.5 301.55L164.5 301.16L165 301.16L165 300.82L165.5 300.82L165.5 300.95L166 300.95L166 302ZM168 302L168 301.67L168.5 301.67L168.5 301.65L169 301.65L169 302ZM173 302L173 301.21L173.5 301.21L173.5 301.1L174 301.1L174 301.4L174.5 301.4L174.5 301.11L175 301.11L175 301.36L175.5 301.36L175.5 301.17L176 301.17L176 301.02L176.5 301.02L176.5 300.92L177 300.92L177 300.83L177.5 300.83L177.5 301.59L178 301.59L178 301.4L178.5 301.4L178.5 301.2L179 301.2L179 300.99L179.5 300.99L179.5 300.96L180 300.96L180 301.17L180.5 301.17L180.5 301.33L181 301.33L181 301.48L181.5 301.48L181.5 301.52L182 301.52L182 301.29L182.5 301.29L182.5 301.57L183 301.57L183 301.55L183.5 301.55L183.5 301.63L184 301.63L184 302ZM184.5 302L184.5 301.64L185 301.64L185 301.52L185.5 301.52L185.5 301.64L186 301.64L186 301.66L186.5 301.66L186.5 301.62L187 301.62L187 302ZM188.5 302L188.5 301.45L189 301.45L189 301.22L189.5 301.22L189.5 301.15L190 301.15L190 300.93L190.5 300.93L190.5 301.2L191 301.2L191 300.96L191.5 300.96L191.5 301.51L192 301.51L192 301.41L192.5 301.41L192.5 301.54L193 301.54L193 301.46L193.5 301.46L193.5 301.56L194 301.56L194 301.58L194.5 301.58L194.5 301.58L195 301.58L195 301.63L195.5 301.63L195.5 301.62L196 301.62L196 301.7L196.5 301.7L196.5 301.55L197 301.55L197 302ZM197.5 302L197.5 301.69L198 301.69L198 301.57L198.5 301.57L198.5 301.24L199 301.24L199 301.34L199.5 301.34L199.5 301.02L200 301.02L200 301.26L200.5 301.26L200.5 301.11L201 301.11L201 302ZM203 302L203 301.58L203.5 301.58L203.5 301.45L204 301.45L204 301.68L204.5 301.68L204.5 301.56L205 301.56L205 301.64L205.5 301.64L205.5 302ZM207 302L207 301.59L207.5 301.59L207.5 301.52L208 301.52L208 301L208.5 301L208.5 301.32L209 301.32L209 301.06L209.5 301.06L209.5 301.07L210 301.07L210 301.3L210.5 301.3L210.5 301.56L211 301.56L211 301.3L211.5 301.3L211.5 301.51L212 301.51L212 301.42L212.5 301.42L212.5 302ZM214 302L214 301.6L214.5 301.6L214.5 301.36L215 301.36L215 301.44L215.5 301.44L215.5 301.36L216 301.36L216 301.01L216.5 301.01L216.5 302ZM217.5 302L217.5 301.15L218 301.15L218 301.23L218.5 301.23L218.5 301.5L219 301.5L219 302ZM221 302L221 301.04L221.5 301.04L221.5 301.02L222 301.02L222 300.87L222.5 300.87L222.5 301.07L223 301.07L223 301.14L223.5 301.14L223.5 301.39L224 301.39L224 301.38L224.5 301.38L224.5 301.25L225 301.25L225 301.17L225.5 301.17L225.5 301.22L226 301.22L226 301.11L226.5 301.11L226.5 301.25L227 301.25L227 301.33L227.5 301.33L227.5 301.18L228 301.18L228 301.29L228.5 301.29L228.5 301.17L229 301.17L229 302ZM230 302L230 301.52L230.5 301.52L230.5 301.68L231 301.68L231 301.64L231.5 301.64L231.5 301.44L232 301.44L232 301.35L232.5 301.35L232.5 301.46L233 301.46L233 301.09L233.5 301.09L233.5 301.2L234 301.2L234 301.21L234.5 301.21L234.5 301.16L235 301.16L235 302ZM236 302L236 301.32L236.5 301.32L236.5 300.98L237 300.98L237 301.27L237.5 301.27L237.5 301.31L238 301.31L238 301L238.5 301L238.5 300.94L239 300.94L239 301.16L239.5 301.16L239.5 301.51L240 301.51L240 301.47L240.5 301.47L240.5 301.52L241 301.52L241 301.32L241.5 301.32L241.5 301.25L242 301.25L242 300.75L242.5 300.75L242.5 300.25L243 300.25L243 300.25L243.5 300.25L243.5 300.48L244 300.48L244 301.09L244.5 301.09L244.5 301.03L245 301.03L245 301.06L245.5 301.06L245.5 301.38L246 301.38L246 302ZM246.5 302L246.5 301.51L247 301.51L247 300.69L247.5 300.69L247.5 299.92L248 299.92L248 299.92L248.5 299.92L248.5 300.75L249 300.75L249 300.41L249.5 300.41L249.5 300.69L250 300.69L250 301.09L250.5 301.09L250.5 301.08L251 301.08L251 301.16L251.5 301.16L251.5 301.11L252 301.11L252 301.44L252.5 301.44L252.5 301.25L253 301.25L253 301.23L253.5 301.23L253.5 301.27L254 301.27L254 301.23L254.5 301.23L254.5 300.83L255 300.83L255 301.66L255.5 301.66L255.5 302ZM257.5 302L257.5 301.4L258 301.4L258 301.49L258.5 301.49L258.5 301.41L259 301.41L259 301.57L259.5 301.57L259.5 301.43L260 301.43L260 301.3L260.5 301.3L260.5 301.32L261 301.32L261 301.38L261.5 301.38L261.5 302Z" fill="#4d9a33"/>
<path d="M123 302L123 301.45L123.5 301.45L123.5 300.7L124 300.7L124 300.44L124.5 300.44L124.5 300.14L125 300.14L125 298.99L125.5 298.99L125.5 299.47L126 299.47L126 299.64L126.5 299.64L126.5 298.93L127 298.93L127 299.45L127.5 299.45L127.5 299.28L128 299.28L128 300.38L128.5 300.38L128.5 300.96L129 300.96L129 301.38L129.5 301.38L129.5 302ZM190.5 302L190.5 300.9L191 300.9L191 299.4L191.5 299.4L191.5 298.38L192 298.38L192 297.52L192.5 297.52L192.5 296.77L193 296.77L193 297.14L193.5 297.14L193.5 297.42L194 297.42L194 295.74L194.5 295.74L194.5 297.58L195 297.58L195 296.28L195.5 296.28L195.5 297.01L196 297.01L196 298.92L196.5 298.92L196.5 299.13L197 299.13L197 299.2L197.5 299.2L197.5 299.86L198 299.86L198 300.13L198.5 300.13L198.5 301.22L199 301.22L199 302ZM207 302L207 301.44L207.5 301.44L207.5 300.66L208 300.66L208 300.76L208.5 300.76L208.5 300.29L209 300.29L209 301.02L209.5 301.02L209.5 301.54L210 301.54L210 302ZM224 302L224 301.51L224.5 301.51L224.5 300.91L225 300.91L225 300.99L225.5 300.99L225.5 300.6L226 300.6L226 300.87L226.5 300.87L226.5 301.5L227 301.5L227 302Z" fill="#4d9a33"/>
<path d="M44.5 313.7L44.5 313.39L45 313.39L45 313.7ZM45.5 313.7L45.5 313.37L46 313.37L46 313.7ZM54 313.7L54 313.07L54.5 313.07L54.5 313.21L55 313.21L55 312.95L55.5 312.95L55.5 313.2L56 313.2L56 313.12L56.5 313.12L56.5 313.22L57 313.22L57 313.24L57.5 313.24L57.5 313.27L58 313.27L58 313.31L58.5 313.31L58.5 313.38L59 313.38L59 313.33L59.5 313.33L59.5 313.25L60 313.25L60 312.98L60.5 312.98L60.5 312.98L61 312.98L61 313.09L61.5 313.09L61.5 313.7ZM68.5 313.7L68.5 313.2L69 313.2L69 313.7ZM72 313.7L72 313.04L72.5 313.04L72.5 313.7ZM79.5 313.7L79.5 313.21L80 313.21L80 313.32L80.5 313.32L80.5 313.21L81 313.21L81 313.17L81.5 313.17L81.5 313.14L82 313.14L82 313.7ZM87.5 313.7L87.5 313.08L88 313.08L88 313.7ZM89.5 313.7L89.5 312.86L90 312.86L90 313.11L90.5 313.11L90.5 312.84L91 312.84L91 312.78L91.5 312.78L91.5 313.7ZM93 313.7L93 313.25L93.5 313.25L93.5 313.07L94 313.07L94 313.23L94.5 313.23L94.5 313.25L95 313.25L95 313.02L95.5 313.02L95.5 313.7ZM101.5 313.7L101.5 312.87L102 312.87L102 312.75L102.5 312.75L102.5 312.8L103 312.8L103 312.66L103.5 312.66L103.5 312.75L104 312.75L104 313.7ZM112 313.7L112 313.2L112.5 313.2L112.5 313.15L113 313.15L113 313.7ZM116 313.7L116 313.13L116.5 313.13L116.5 312.84L117 312.84L117 313.19L117.5 313.19L117.5 313.14L118 313.14L118 313.03L118.5 313.03L118.5 313.13L119 313.13L119 313.22L119.5 313.22L119.5 313.17L120 313.17L120 313.7ZM120.5 313.7L120.5 313.37L121 313.37L121 313.19L121.5 313.19L121.5 313.23L122 313.23L122 313.28L122.5 313.28L122.5 313.7ZM126.5 313.7L126.5 313.12L127 313.12L127 312.77L127.5 312.77L127.5 312.85L128 312.85L128 312.88L128.5 312.88L128.5 312.99L129 312.99L129 312.98L129.5 312.98L129.5 313.04L130 313.04L130 313.7ZM130.5 313.7L130.5 313.04L131 313.04L131 312.88L131.5 312.88L131.5 312.84L132 312.84L132 312.92L132.5 312.92L132.5 313.26L133 313.26L133 313.17L133.5 313.17L133.5 313.26L134 313.26L134 313.16L134.5 313.16L134.5 313.27L135 313.27L135 313.7ZM147.5 313.7L147.5 313.11L148 313.11L148 313.22L148.5 313.22L148.5 313.12L149 313.12L149 313.16L149.5 313.16L149.5 313.17L150 313.17L150 313.7ZM154 313.7L154 313.28L154.5 313.28L154.5 313.36L155 313.36L155 313.7ZM160.5 313.7L160.5 313.21L161 313.21L161 313.15L161.5 313.15L161.5 313.26L162 313.26L162 313.33L162.5 313.33L162.5 313.2L163 313.2L163 313.7ZM164 313.7L164 313.06L164.5 313.06L164.5 313.02L165 313.02L165 313.26L165.5 313.26L165.5 313.22L166 313.22L166 313.23L166.5 313.23L166.5 313.7ZM168 313.7L168 312.84L168.5 312.84L168.5 312.85L169 312.85L169 313.23L169.5 313.23L169.5 312.99L170 312.99L170 313.27L170.5 313.27L170.5 313.08L171 313.08L171 312.9L171.5 312.9L171.5 313.06L172 313.06L172 313.11L172.5 313.11L172.5 313.7ZM177.5 313.7L177.5 313.14L178 313.14L178 313.17L178.5 313.17L178.5 313.23L179 313.23L179 312.94L179.5 312.94L179.5 313.09L180 313.09L180 313.25L180.5 313.25L180.5 313.17L181 313.17L181 313.21L181.5 313.21L181.5 312.93L182 312.93L182 312.79L182.5 312.79L182.5 313.13L183 313.13L183 312.87L183.5 312.87L183.5 312.9L184 312.9L184 313.7ZM190.5 313.7L190.5 312.92L191 312.92L191 312.75L191.5 312.75L191.5 312.89L192 312.89L192 312.97L192.5 312.97L192.5 312.76L193 312.76L193 312.95L193.5 312.95L193.5 313.17L194 313.17L194 313.2L194.5 313.2L194.5 313.7ZM196.5 313.7L196.5 313.07L197 313.07L197 313.7ZM199 313.7L199 313.04L199.5 313.04L199.5 313.23L200 313.23L200 313.7ZM206 313.7L206 313.34L206.5 313.34L206.5 313.3L207 313.3L207 313.39L207.5 313.39L207.5 313.26L208 313.26L208 313.7ZM210.5 313.7L210.5 312.8L211 312.8L211 313.7ZM212 313.7L212 313.21L212.5 313.21L212.5 313.7ZM215.5 313.7L215.5 313.36L216 313.36L216 313.7ZM227.5 313.7L227.5 313.36L228 313.36L228 313.36L228.5 313.36L228.5 313.18L229 313.18L229 313.22L229.5 313.22L229.5 313.16L230 313.16L230 313.26L230.5 313.26L230.5 313.19L231 313.19L231 313.7ZM233 313.7L233 313.27L233.5 313.27L233.5 313.09L234 313.09L234 313.13L234.5 313.13L234.5 313.1L235 313.1L235 313.1L235.5 313.1L235.5 313.7ZM238 313.7L238 313.14L238.5 313.14L238.5 313.3L239 313.3L239 313.35L239.5 313.35L239.5 313.28L240 313.28L240 313.21L240.5 313.21L240.5 313.7ZM242.5 313.7L242.5 313.04L243 313.04L243 313.32L243.5 313.32L243.5 313.1L244 313.1L244 313.09L244.5 313.09L244.5 313.31L245 313.31L245 313.08L245.5 313.08L245.5 313.04L246 313.04L246 312.9L246.5 312.9L246.5 313.07L247 313.07L247 313.26L247.5 313.26L247.5 313.03L248 313.03L248 313.05L248.5 313.05L248.5 313.16L249 313.16L249 313.7ZM254 313.7L254 313.39L254.5 313.39L254.5 313.39L255 313.39L255 313.7Z" fill="#8a3a9a"/>
<path d="M189.5 313.7L189.5 313.24L190 313.24L190 312.23L190.5 312.23L190.5 310.57L191 310.57L191 309.42L191.5 309.42L191.5 307.76L192 307.76L192 305.63L192.5 305.63L192.5 307.55L193 307.55L193 306.56L193.5 306.56L193.5 306.85L194 306.85L194 309.14L194.5 309.14L194.5 310L195 310L195 309.94L195.5 309.94L195.5 309.1L196 309.1L196 306.95L196.5 306.95L196.5 308.82L197 308.82L197 309.21L197.5 309.21L197.5 310.14L198 310.14L198 310.56L198.5 310.56L198.5 310.81L199 310.81L199 310.03L199.5 310.03L199.5 311.1L200 311.1L200 311.56L200.5 311.56L200.5 312.48L201 312.48L201 313.7ZM205.5 313.7L205.5 313.08L206 313.08L206 312.71L206.5 312.71L206.5 312.35L207 312.35L207 312L207.5 312L207.5 311.47L208 311.47L208 310.42L208.5 310.42L208.5 309.88L209 309.88L209 310.45L209.5 310.45L209.5 310.25L210 310.25L210 310.96L210.5 310.96L210.5 310.63L211 310.63L211 311.63L211.5 311.63L211.5 311.42L212 311.42L212 310.85L212.5 310.85L212.5 310.52L213 310.52L213 310.93L213.5 310.93L213.5 310.6L214 310.6L214 310.09L214.5 310.09L214.5 311.54L215 311.54L215 311.58L215.5 311.58L215.5 311.74L216 311.74L216 312.43L216.5 312.43L216.5 312.75L217 312.75L217 312.63L217.5 312.63L217.5 313.1L218 313.1L218 313.7ZM220.5 313.7L220.5 313.18L221 313.18L221 312.35L221.5 312.35L221.5 311.84L222 311.84L222 311.04L222.5 311.04L222.5 311.21L223 311.21L223 311.39L223.5 311.39L223.5 310.64L224 310.64L224 310.97L224.5 310.97L224.5 312.17L225 312.17L225 312.58L225.5 312.58L225.5 313.18L226 313.18L226 313.7ZM228 313.7L228 313.12L228.5 313.12L228.5 312.65L229 312.65L229 311.83L229.5 311.83L229.5 311.4L230 311.4L230 311.75L230.5 311.75L230.5 312.01L231 312.01L231 311.38L231.5 311.38L231.5 311.92L232 311.92L232 312.5L232.5 312.5L232.5 313.15L233 313.15L233 313.7ZM235.5 313.7L235.5 313.32L236 313.32L236 312.58L236.5 312.58L236.5 312.56L237 312.56L237 311.86L237.5 311.86L237.5 312.12L238 312.12L238 311.8L238.5 311.8L238.5 312.34L239 312.34L239 312.85L239.5 312.85L239.5 313.22L240 313.22L240 313.7ZM242.5 313.7L242.5 312.47L243 312.47L243 310.72L243.5 310.72L243.5 309.65L244 309.65L244 309.06L244.5 309.06L244.5 307.96L245 307.96L245 308.35L245.5 308.35L245.5 307.22L246 307.22L246 306.07L246.5 306.07L246.5 308.55L247 308.55L247 308.39L247.5 308.39L247.5 310.11L248 310.11L248 309.52L248.5 309.52L248.5 311.32L249 311.32L249 312.68L249.5 312.68L249.5 313.7Z" fill="#8a3a9a"/>
<line x1="107.3" y1="321.6" x2="129.6" y2="321.6" stroke="#2a2a8a" stroke-width="0.9"/>
<rect x="107.3" y="320" width="3.7" height="3.2" fill="#2a2a8a"/>
<rect x="117.4" y="319.2" width="2" height="4.8" fill="#2a2a8a"/>
<line x1="129.2" y1="319.2" x2="129.2" y2="324" stroke="#2a2a8a" stroke-width="0.9"/>
<path d="M111.4 320.4 L110.4 321.6 L111.4 322.8" stroke="#2a2a8a" stroke-width="0.6" fill="none"/>
<path d="M116.8 320.4 L115.8 321.6 L116.8 322.8" stroke="#2a2a8a" stroke-width="0.6" fill="none"/>
<path d="M125.6 320.4 L124.6 321.6 L125.6 322.8" stroke="#2a2a8a" stroke-width="0.6" fill="none"/>
<text x="118.5" y="330.1" font-size="5" text-anchor="middle" fill="#4a4aa0" stroke="#4a4aa0" stroke-width="0.05" font-style="italic">CYTL1</text>
<text x="77" y="337.36" font-size="6" text-anchor="middle" fill="#222" stroke="#222" stroke-width="0.05" textLength="18.8" lengthAdjust="spacingAndGlyphs">5010 kb</text>
<text x="122.5" y="337.36" font-size="6" text-anchor="middle" fill="#222" stroke="#222" stroke-width="0.05" textLength="18.8" lengthAdjust="spacingAndGlyphs">5020 kb</text>
<text x="168.8" y="337.36" font-size="6" text-anchor="middle" fill="#222" stroke="#222" stroke-width="0.05" textLength="18.8" lengthAdjust="spacingAndGlyphs">5030 kb</text>
<text x="214.2" y="337.36" font-size="6" text-anchor="middle" fill="#222" stroke="#222" stroke-width="0.05" textLength="18.8" lengthAdjust="spacingAndGlyphs">5040 kb</text>
<text x="262" y="337.36" font-size="6" text-anchor="end" fill="#222" stroke="#222" stroke-width="0.05" textLength="8.2" lengthAdjust="spacingAndGlyphs">505</text>
<line x1="44.5" y1="343.4" x2="261.5" y2="343.4" stroke="#000" stroke-width="1"/>
<line x1="54.4" y1="339.4" x2="54.4" y2="343.4" stroke="#000" stroke-width="0.9"/>
<line x1="77.2" y1="339.4" x2="77.2" y2="343.4" stroke="#000" stroke-width="0.9"/>
<line x1="100" y1="339.4" x2="100" y2="343.4" stroke="#000" stroke-width="0.9"/>
<line x1="122.8" y1="339.4" x2="122.8" y2="343.4" stroke="#000" stroke-width="0.9"/>
<line x1="145.6" y1="339.4" x2="145.6" y2="343.4" stroke="#000" stroke-width="0.9"/>
<line x1="168.4" y1="339.4" x2="168.4" y2="343.4" stroke="#000" stroke-width="0.9"/>
<line x1="191.2" y1="339.4" x2="191.2" y2="343.4" stroke="#000" stroke-width="0.9"/>
<line x1="214" y1="339.4" x2="214" y2="343.4" stroke="#000" stroke-width="0.9"/>
<line x1="236.8" y1="339.4" x2="236.8" y2="343.4" stroke="#000" stroke-width="0.9"/>
<line x1="259.6" y1="339.4" x2="259.6" y2="343.4" stroke="#000" stroke-width="0.9"/>
<line x1="44.8" y1="347.5" x2="261.5" y2="347.5" stroke="#000" stroke-width="1.7"/>
<line x1="44.5" y1="363.7" x2="261.5" y2="363.7" stroke="#b02020" stroke-width="0.6"/>
<text x="45.5" y="357.97" font-size="5.2" fill="#333" stroke="#333" stroke-width="0.05">EGR1</text>
<text x="262.6" y="353.49" font-size="4.7" text-anchor="end" fill="#333" stroke="#333" stroke-width="0.05">(0-25)</text>
<text x="13.9" y="361.07" font-size="5.2" fill="#222" stroke="#222" stroke-width="0.05">HD#1</text>
<line x1="44.5" y1="378.8" x2="261.5" y2="378.8" stroke="#b02020" stroke-width="0.6"/>
<text x="45.5" y="370.97" font-size="5.2" fill="#333" stroke="#333" stroke-width="0.05">EGR1</text>
<text x="262.6" y="369.59" font-size="4.7" text-anchor="end" fill="#333" stroke="#333" stroke-width="0.05">(0-25)</text>
<text x="13.9" y="374.87" font-size="5.2" fill="#222" stroke="#222" stroke-width="0.05">HD#2</text>
<line x1="44.5" y1="393.5" x2="261.5" y2="393.5" stroke="#d8d8e8" stroke-width="0.6"/>
<text x="45.5" y="385.67" font-size="5.2" fill="#333" stroke="#333" stroke-width="0.05">EGR1</text>
<text x="262.6" y="383.99" font-size="4.7" text-anchor="end" fill="#333" stroke="#333" stroke-width="0.05">(0-25)</text>
<text x="13.9" y="388.47" font-size="5.2" fill="#222" stroke="#222" stroke-width="0.05">CMML#1</text>
<line x1="44.5" y1="408.3" x2="261.5" y2="408.3" stroke="#d8d8e8" stroke-width="0.6"/>
<text x="45.5" y="400.17" font-size="5.2" fill="#333" stroke="#333" stroke-width="0.05">EGR1</text>
<text x="262.6" y="399.39" font-size="4.7" text-anchor="end" fill="#333" stroke="#333" stroke-width="0.05">(0-25)</text>
<text x="13.9" y="402.07" font-size="5.2" fill="#222" stroke="#222" stroke-width="0.05">CMML#2</text>
<line x1="44.5" y1="424.1" x2="261.5" y2="424.1" stroke="#d8d8e8" stroke-width="0.6"/>
<text x="45.5" y="415.57" font-size="5.2" fill="#333" stroke="#333" stroke-width="0.05">EGR1</text>
<text x="262.6" y="414.29" font-size="4.7" text-anchor="end" fill="#333" stroke="#333" stroke-width="0.05">(0-25)</text>
<text x="13.9" y="415.57" font-size="5.2" fill="#222" stroke="#222" stroke-width="0.05">CMML#3</text>
<path d="M49 363.4L49 361.44L49.5 361.44L49.5 361.57L50 361.57L50 361.63L50.5 361.63L50.5 360.98L51 360.98L51 363.4ZM52 363.4L52 362.03L52.5 362.03L52.5 361.32L53 361.32L53 361.32L53.5 361.32L53.5 361.87L54 361.87L54 362.38L54.5 362.38L54.5 363.4ZM57.5 363.4L57.5 360.84L58 360.84L58 360.63L58.5 360.63L58.5 360.76L59 360.76L59 360.57L59.5 360.57L59.5 363.4ZM60.5 363.4L60.5 362.13L61 362.13L61 361.79L61.5 361.79L61.5 361.32L62 361.32L62 360.34L62.5 360.34L62.5 360.92L63 360.92L63 360.54L63.5 360.54L63.5 361.04L64 361.04L64 362.07L64.5 362.07L64.5 361.94L65 361.94L65 363.4ZM66 363.4L66 361.75L66.5 361.75L66.5 361.02L67 361.02L67 361.04L67.5 361.04L67.5 363.4ZM68.5 363.4L68.5 361.22L69 361.22L69 360.69L69.5 360.69L69.5 360.68L70 360.68L70 361.32L70.5 361.32L70.5 363.4ZM76 363.4L76 362.09L76.5 362.09L76.5 361.95L77 361.95L77 361.02L77.5 361.02L77.5 361.21L78 361.21L78 361.32L78.5 361.32L78.5 362.41L79 362.41L79 362.54L79.5 362.54L79.5 363.4ZM81 363.4L81 361.64L81.5 361.64L81.5 360.98L82 360.98L82 360.85L82.5 360.85L82.5 359.41L83 359.41L83 359.18L83.5 359.18L83.5 360.03L84 360.03L84 360.49L84.5 360.49L84.5 360.24L85 360.24L85 361.18L85.5 361.18L85.5 361.61L86 361.61L86 363.4ZM88.5 363.4L88.5 361.72L89 361.72L89 360.82L89.5 360.82L89.5 361.17L90 361.17L90 361.76L90.5 361.76L90.5 362.12L91 362.12L91 363.4ZM101 363.4L101 361.91L101.5 361.91L101.5 361.65L102 361.65L102 361L102.5 361L102.5 360.95L103 360.95L103 360.53L103.5 360.53L103.5 360.87L104 360.87L104 361.45L104.5 361.45L104.5 361.94L105 361.94L105 362.37L105.5 362.37L105.5 363.4ZM108 363.4L108 361.74L108.5 361.74L108.5 361.02L109 361.02L109 361.01L109.5 361.01L109.5 361.12L110 361.12L110 363.4ZM112.5 363.4L112.5 362.37L113 362.37L113 362.08L113.5 362.08L113.5 362.36L114 362.36L114 363.4ZM116 363.4L116 361.96L116.5 361.96L116.5 362.08L117 362.08L117 362.03L117.5 362.03L117.5 362.11L118 362.11L118 363.4ZM121.5 363.4L121.5 362.57L122 362.57L122 361.97L122.5 361.97L122.5 361.58L123 361.58L123 361.93L123.5 361.93L123.5 361.85L124 361.85L124 361.89L124.5 361.89L124.5 362.3L125 362.3L125 360.98L125.5 360.98L125.5 358.64L126 358.64L126 359.97L126.5 359.97L126.5 361.59L127 361.59L127 363.4ZM129 363.4L129 362.8L129.5 362.8L129.5 362.52L130 362.52L130 361.95L130.5 361.95L130.5 362.5L131 362.5L131 362.74L131.5 362.74L131.5 363.4ZM134 363.4L134 361.81L134.5 361.81L134.5 360.27L135 360.27L135 359.39L135.5 359.39L135.5 359.54L136 359.54L136 361.28L136.5 361.28L136.5 361.97L137 361.97L137 362.45L137.5 362.45L137.5 361.76L138 361.76L138 360.86L138.5 360.86L138.5 361.4L139 361.4L139 361.51L139.5 361.51L139.5 361.87L140 361.87L140 362.45L140.5 362.45L140.5 363.4ZM143.5 363.4L143.5 362.57L144 362.57L144 362.21L144.5 362.21L144.5 361.66L145 361.66L145 362.05L145.5 362.05L145.5 361.77L146 361.77L146 362.47L146.5 362.47L146.5 363.4ZM150 363.4L150 362.32L150.5 362.32L150.5 361.95L151 361.95L151 361.76L151.5 361.76L151.5 361.5L152 361.5L152 361.92L152.5 361.92L152.5 362.5L153 362.5L153 361.73L153.5 361.73L153.5 360.98L154 360.98L154 361.36L154.5 361.36L154.5 362.07L155 362.07L155 362.41L155.5 362.41L155.5 363.4ZM156 363.4L156 362.76L156.5 362.76L156.5 362.22L157 362.22L157 361.76L157.5 361.76L157.5 362.05L158 362.05L158 361.83L158.5 361.83L158.5 362.1L159 362.1L159 362.66L159.5 362.66L159.5 363.4ZM174 363.4L174 362.56L174.5 362.56L174.5 362.02L175 362.02L175 361.67L175.5 361.67L175.5 361.9L176 361.9L176 362.02L176.5 362.02L176.5 361.76L177 361.76L177 362.25L177.5 362.25L177.5 362.55L178 362.55L178 363.4ZM183 363.4L183 361.88L183.5 361.88L183.5 361.66L184 361.66L184 360.97L184.5 360.97L184.5 361.13L185 361.13L185 360.83L185.5 360.83L185.5 361.44L186 361.44L186 362.35L186.5 362.35L186.5 363.4ZM187.5 363.4L187.5 362.61L188 362.61L188 362.08L188.5 362.08L188.5 362L189 362L189 361.98L189.5 361.98L189.5 362L190 362L190 362.59L190.5 362.59L190.5 362.66L191 362.66L191 363.4ZM191.5 363.4L191.5 362.2L192 362.2L192 361.43L192.5 361.43L192.5 361.73L193 361.73L193 361.31L193.5 361.31L193.5 362.12L194 362.12L194 363.4ZM195.5 363.4L195.5 362.05L196 362.05L196 362.41L196.5 362.41L196.5 362.03L197 362.03L197 363.4ZM197.5 363.4L197.5 362.32L198 362.32L198 362L198.5 362L198.5 362.26L199 362.26L199 362.23L199.5 362.23L199.5 363.4ZM203.5 363.4L203.5 362.33L204 362.33L204 361.97L204.5 361.97L204.5 362.31L205 362.31L205 361.97L205.5 361.97L205.5 362.16L206 362.16L206 363.4ZM207.5 363.4L207.5 362.87L208 362.87L208 362.19L208.5 362.19L208.5 362.19L209 362.19L209 362.81L209.5 362.81L209.5 363.4ZM217 363.4L217 360.57L217.5 360.57L217.5 360.2L218 360.2L218 360.13L218.5 360.13L218.5 359L219 359L219 359.93L219.5 359.93L219.5 361.51L220 361.51L220 363.4ZM221.5 363.4L221.5 362.11L222 362.11L222 361.31L222.5 361.31L222.5 360.53L223 360.53L223 359.94L223.5 359.94L223.5 360.13L224 360.13L224 360.33L224.5 360.33L224.5 360.81L225 360.81L225 362.04L225.5 362.04L225.5 363.4ZM226.5 363.4L226.5 362L227 362L227 360.6L227.5 360.6L227.5 359.74L228 359.74L228 360.22L228.5 360.22L228.5 361.54L229 361.54L229 363.4ZM235 363.4L235 362.27L235.5 362.27L235.5 361.67L236 361.67L236 361.82L236.5 361.82L236.5 361.44L237 361.44L237 361.76L237.5 361.76L237.5 361.35L238 361.35L238 361.67L238.5 361.67L238.5 362.35L239 362.35L239 363.4ZM242.5 363.4L242.5 361.49L243 361.49L243 361.05L243.5 361.05L243.5 359.98L244 359.98L244 360.69L244.5 360.69L244.5 360.39L245 360.39L245 360.83L245.5 360.83L245.5 361.04L246 361.04L246 362.12L246.5 362.12L246.5 363.4ZM251 363.4L251 362L251.5 362L251.5 361.44L252 361.44L252 360.68L252.5 360.68L252.5 361.89L253 361.89L253 362.1L253.5 362.1L253.5 363.4Z" fill="#a01818"/>
<path d="M44.5 378.5L44.5 377.76L45 377.76L45 377.66L45.5 377.66L45.5 377.52L46 377.52L46 377.42L46.5 377.42L46.5 377.93L47 377.93L47 378.5ZM47.5 378.5L47.5 377.64L48 377.64L48 377.12L48.5 377.12L48.5 377.19L49 377.19L49 376.61L49.5 376.61L49.5 376.32L50 376.32L50 375.48L50.5 375.48L50.5 375.41L51 375.41L51 375.16L51.5 375.16L51.5 376.27L52 376.27L52 376.17L52.5 376.17L52.5 376.89L53 376.89L53 377.14L53.5 377.14L53.5 377.2L54 377.2L54 378.07L54.5 378.07L54.5 378.15L55 378.15L55 377.7L55.5 377.7L55.5 377.7L56 377.7L56 377.57L56.5 377.57L56.5 377.79L57 377.79L57 377.64L57.5 377.64L57.5 377.31L58 377.31L58 376.78L58.5 376.78L58.5 376.64L59 376.64L59 376.76L59.5 376.76L59.5 376.37L60 376.37L60 376.18L60.5 376.18L60.5 376.94L61 376.94L61 376.43L61.5 376.43L61.5 376.75L62 376.75L62 377.23L62.5 377.23L62.5 377.5L63 377.5L63 377.39L63.5 377.39L63.5 378.5ZM64 378.5L64 377.91L64.5 377.91L64.5 377.73L65 377.73L65 377.57L65.5 377.57L65.5 377.42L66 377.42L66 377.86L66.5 377.86L66.5 378.04L67 378.04L67 377.85L67.5 377.85L67.5 377.85L68 377.85L68 377.35L68.5 377.35L68.5 377.48L69 377.48L69 377.47L69.5 377.47L69.5 377.08L70 377.08L70 377.71L70.5 377.71L70.5 377.75L71 377.75L71 378.09L71.5 378.09L71.5 378.5ZM72.5 378.5L72.5 377.21L73 377.21L73 377.1L73.5 377.1L73.5 377.14L74 377.14L74 377.24L74.5 377.24L74.5 378.5ZM77 378.5L77 377.01L77.5 377.01L77.5 377.33L78 377.33L78 377.24L78.5 377.24L78.5 378.5ZM81 378.5L81 377.44L81.5 377.44L81.5 376.81L82 376.81L82 376.15L82.5 376.15L82.5 376.51L83 376.51L83 377.06L83.5 377.06L83.5 377.75L84 377.75L84 378.5ZM85.5 378.5L85.5 377.79L86 377.79L86 377.24L86.5 377.24L86.5 377.15L87 377.15L87 377.2L87.5 377.2L87.5 377.64L88 377.64L88 377.92L88.5 377.92L88.5 378.08L89 378.08L89 377.01L89.5 377.01L89.5 376.76L90 376.76L90 376.94L90.5 376.94L90.5 376.94L91 376.94L91 378.02L91.5 378.02L91.5 377.79L92 377.79L92 377.91L92.5 377.91L92.5 377.99L93 377.99L93 378.14L93.5 378.14L93.5 378.5ZM94 378.5L94 377.42L94.5 377.42L94.5 377.38L95 377.38L95 377.03L95.5 377.03L95.5 377.18L96 377.18L96 378.5ZM98.5 378.5L98.5 376.77L99 376.77L99 377.08L99.5 377.08L99.5 376.69L100 376.69L100 377.09L100.5 377.09L100.5 378.5ZM103.5 378.5L103.5 378.04L104 378.04L104 377.33L104.5 377.33L104.5 377.01L105 377.01L105 377.19L105.5 377.19L105.5 378.5ZM107 378.5L107 377.8L107.5 377.8L107.5 377.64L108 377.64L108 377.23L108.5 377.23L108.5 377.17L109 377.17L109 377.08L109.5 377.08L109.5 377.91L110 377.91L110 377.71L110.5 377.71L110.5 377.91L111 377.91L111 378.17L111.5 378.17L111.5 377.17L112 377.17L112 377.29L112.5 377.29L112.5 377.51L113 377.51L113 377.26L113.5 377.26L113.5 376.94L114 376.94L114 376.59L114.5 376.59L114.5 376.3L115 376.3L115 376.91L115.5 376.91L115.5 377.52L116 377.52L116 378.5ZM119 378.5L119 377.88L119.5 377.88L119.5 377.88L120 377.88L120 377.92L120.5 377.92L120.5 377.85L121 377.85L121 378.17L121.5 378.17L121.5 378.5ZM124 378.5L124 378.03L124.5 378.03L124.5 377.9L125 377.9L125 377.39L125.5 377.39L125.5 377.42L126 377.42L126 377.97L126.5 377.97L126.5 378.11L127 378.11L127 377.87L127.5 377.87L127.5 377.58L128 377.58L128 377.85L128.5 377.85L128.5 378.12L129 378.12L129 378.5ZM130 378.5L130 377.91L130.5 377.91L130.5 377.18L131 377.18L131 376.26L131.5 376.26L131.5 376.25L132 376.25L132 376.04L132.5 376.04L132.5 376.98L133 376.98L133 377.19L133.5 377.19L133.5 377.69L134 377.69L134 377.81L134.5 377.81L134.5 377.75L135 377.75L135 377.69L135.5 377.69L135.5 377.57L136 377.57L136 377.33L136.5 377.33L136.5 377.4L137 377.4L137 377.87L137.5 377.87L137.5 377.98L138 377.98L138 378L138.5 378L138.5 377.8L139 377.8L139 377.8L139.5 377.8L139.5 377.7L140 377.7L140 377.47L140.5 377.47L140.5 378.5ZM141.5 378.5L141.5 377.33L142 377.33L142 377.54L142.5 377.54L142.5 377.58L143 377.58L143 378.5ZM143.5 378.5L143.5 377.71L144 377.71L144 377.35L144.5 377.35L144.5 377.08L145 377.08L145 376.88L145.5 376.88L145.5 377.22L146 377.22L146 377.92L146.5 377.92L146.5 378.11L147 378.11L147 377.82L147.5 377.82L147.5 377.59L148 377.59L148 377.5L148.5 377.5L148.5 377.5L149 377.5L149 377.79L149.5 377.79L149.5 377.78L150 377.78L150 377.75L150.5 377.75L150.5 377.56L151 377.56L151 377.37L151.5 377.37L151.5 377.22L152 377.22L152 377.85L152.5 377.85L152.5 377.9L153 377.9L153 377.74L153.5 377.74L153.5 377.52L154 377.52L154 377.88L154.5 377.88L154.5 378.05L155 378.05L155 378.5ZM155.5 378.5L155.5 377.83L156 377.83L156 377.91L156.5 377.91L156.5 377.76L157 377.76L157 378.15L157.5 378.15L157.5 378.5ZM158.5 378.5L158.5 377.79L159 377.79L159 377.3L159.5 377.3L159.5 377.07L160 377.07L160 377.58L160.5 377.58L160.5 378.01L161 378.01L161 378.5ZM165 378.5L165 377.51L165.5 377.51L165.5 377.31L166 377.31L166 377.32L166.5 377.32L166.5 377.84L167 377.84L167 378.03L167.5 378.03L167.5 377.59L168 377.59L168 377.67L168.5 377.67L168.5 378.1L169 378.1L169 378.5ZM173.5 378.5L173.5 375.89L174 375.89L174 375.72L174.5 375.72L174.5 376.11L175 376.11L175 376.48L175.5 376.48L175.5 377.73L176 377.73L176 377.83L176.5 377.83L176.5 377.69L177 377.69L177 377.91L177.5 377.91L177.5 377.62L178 377.62L178 377.28L178.5 377.28L178.5 377.03L179 377.03L179 377.18L179.5 377.18L179.5 377.54L180 377.54L180 377.68L180.5 377.68L180.5 378.5ZM181 378.5L181 378L181.5 378L181.5 377.9L182 377.9L182 377.98L182.5 377.98L182.5 378.5ZM183 378.5L183 377.63L183.5 377.63L183.5 377.36L184 377.36L184 377.51L184.5 377.51L184.5 377.06L185 377.06L185 376.87L185.5 376.87L185.5 377.13L186 377.13L186 376.68L186.5 376.68L186.5 377.27L187 377.27L187 376.91L187.5 376.91L187.5 375.95L188 375.95L188 376.42L188.5 376.42L188.5 376.68L189 376.68L189 377.53L189.5 377.53L189.5 378.1L190 378.1L190 377.46L190.5 377.46L190.5 376.59L191 376.59L191 376.9L191.5 376.9L191.5 377.19L192 377.19L192 377.64L192.5 377.64L192.5 378.15L193 378.15L193 378.01L193.5 378.01L193.5 377.87L194 377.87L194 377.97L194.5 377.97L194.5 378.16L195 378.16L195 378.5ZM196 378.5L196 378.03L196.5 378.03L196.5 377.46L197 377.46L197 377.22L197.5 377.22L197.5 377.25L198 377.25L198 377.54L198.5 377.54L198.5 377.71L199 377.71L199 378.03L199.5 378.03L199.5 378.5ZM201 378.5L201 377.3L201.5 377.3L201.5 376.78L202 376.78L202 376.07L202.5 376.07L202.5 376.18L203 376.18L203 377L203.5 377L203.5 377.39L204 377.39L204 377.96L204.5 377.96L204.5 377.52L205 377.52L205 377.41L205.5 377.41L205.5 377.81L206 377.81L206 378L206.5 378L206.5 378.09L207 378.09L207 377.62L207.5 377.62L207.5 377.55L208 377.55L208 377.9L208.5 377.9L208.5 378.11L209 378.11L209 378.5ZM212 378.5L212 377.98L212.5 377.98L212.5 377.55L213 377.55L213 377.66L213.5 377.66L213.5 377.96L214 377.96L214 378.04L214.5 378.04L214.5 377.71L215 377.71L215 377.75L215.5 377.75L215.5 377.83L216 377.83L216 377.89L216.5 377.89L216.5 377.74L217 377.74L217 377.71L217.5 377.71L217.5 377.68L218 377.68L218 377.6L218.5 377.6L218.5 377.68L219 377.68L219 377.86L219.5 377.86L219.5 378.5ZM220 378.5L220 377.93L220.5 377.93L220.5 377.82L221 377.82L221 378.12L221.5 378.12L221.5 378.5ZM222 378.5L222 378.14L222.5 378.14L222.5 377.9L223 377.9L223 377.84L223.5 377.84L223.5 377.84L224 377.84L224 378.5ZM226 378.5L226 376.5L226.5 376.5L226.5 376.14L227 376.14L227 375.43L227.5 375.43L227.5 376.56L228 376.56L228 377.05L228.5 377.05L228.5 378.14L229 378.14L229 377.76L229.5 377.76L229.5 377.92L230 377.92L230 378.5ZM230.5 378.5L230.5 377.98L231 377.98L231 377.52L231.5 377.52L231.5 377.75L232 377.75L232 378.06L232.5 378.06L232.5 377.93L233 377.93L233 377.5L233.5 377.5L233.5 377.49L234 377.49L234 377.43L234.5 377.43L234.5 377.76L235 377.76L235 378.04L235.5 378.04L235.5 377.9L236 377.9L236 377.75L236.5 377.75L236.5 377.4L237 377.4L237 377.52L237.5 377.52L237.5 377.24L238 377.24L238 377.63L238.5 377.63L238.5 377.86L239 377.86L239 377.66L239.5 377.66L239.5 377.38L240 377.38L240 377.42L240.5 377.42L240.5 377.77L241 377.77L241 377.79L241.5 377.79L241.5 377.6L242 377.6L242 376.89L242.5 376.89L242.5 376.63L243 376.63L243 377.14L243.5 377.14L243.5 376.91L244 376.91L244 377.33L244.5 377.33L244.5 377.2L245 377.2L245 377.56L245.5 377.56L245.5 378.5ZM246.5 378.5L246.5 378.13L247 378.13L247 377.87L247.5 377.87L247.5 377.63L248 377.63L248 377.53L248.5 377.53L248.5 377.03L249 377.03L249 376.66L249.5 376.66L249.5 376.63L250 376.63L250 375.85L250.5 375.85L250.5 376.16L251 376.16L251 376.33L251.5 376.33L251.5 376.02L252 376.02L252 375.95L252.5 375.95L252.5 376.65L253 376.65L253 376.79L253.5 376.79L253.5 376.62L254 376.62L254 377.21L254.5 377.21L254.5 378.5ZM255.5 378.5L255.5 377.32L256 377.32L256 377.27L256.5 377.27L256.5 377.19L257 377.19L257 377.23L257.5 377.23L257.5 377.81L258 377.81L258 377.81L258.5 377.81L258.5 377.72L259 377.72L259 377.41L259.5 377.41L259.5 377.25L260 377.25L260 377.5L260.5 377.5L260.5 377.87L261 377.87L261 378.5Z" fill="#a01818"/>
<path d="M49.5 393.2L49.5 390.89L50 390.89L50 388.38L50.5 388.38L50.5 388.83L51 388.83L51 388.6L51.5 388.6L51.5 389.73L52 389.73L52 390.59L52.5 390.59L52.5 393.2ZM56 393.2L56 391.18L56.5 391.18L56.5 391.14L57 391.14L57 391.56L57.5 391.56L57.5 391.2L58 391.2L58 393.2ZM61 393.2L61 390.27L61.5 390.27L61.5 389.64L62 389.64L62 390.04L62.5 390.04L62.5 393.2ZM68.5 393.2L68.5 390.91L69 390.91L69 391.2L69.5 391.2L69.5 391.42L70 391.42L70 390.83L70.5 390.83L70.5 393.2ZM74 393.2L74 389.69L74.5 389.69L74.5 390.27L75 390.27L75 390.64L75.5 390.64L75.5 393.2ZM79.5 393.2L79.5 386.98L80 386.98L80 387.02L80.5 387.02L80.5 386.3L81 386.3L81 386.76L81.5 386.76L81.5 393.2ZM86 393.2L86 391.13L86.5 391.13L86.5 391.07L87 391.07L87 391.25L87.5 391.25L87.5 391.53L88 391.53L88 393.2ZM94 393.2L94 391.52L94.5 391.52L94.5 390.75L95 390.75L95 390.84L95.5 390.84L95.5 391.32L96 391.32L96 393.2ZM109.5 393.2L109.5 391.4L110 391.4L110 391.64L110.5 391.64L110.5 391.91L111 391.91L111 391.42L111.5 391.42L111.5 393.2ZM114 393.2L114 392.25L114.5 392.25L114.5 391.66L115 391.66L115 391.57L115.5 391.57L115.5 391.94L116 391.94L116 391.83L116.5 391.83L116.5 392.17L117 392.17L117 392.39L117.5 392.39L117.5 393.2ZM125.5 393.2L125.5 391.29L126 391.29L126 391.11L126.5 391.11L126.5 390.96L127 390.96L127 391.43L127.5 391.43L127.5 393.2ZM142.5 393.2L142.5 390.83L143 390.83L143 390.89L143.5 390.89L143.5 391.53L144 391.53L144 391.06L144.5 391.06L144.5 393.2ZM145.5 393.2L145.5 391.77L146 391.77L146 390.95L146.5 390.95L146.5 389.97L147 389.97L147 389.9L147.5 389.9L147.5 391.41L148 391.41L148 393.2ZM148.5 393.2L148.5 387.17L149 387.17L149 386L149.5 386L149.5 385.13L150 385.13L150 384.59L150.5 384.59L150.5 393.2ZM153.5 393.2L153.5 390.95L154 390.95L154 391.54L154.5 391.54L154.5 390.73L155 390.73L155 391.05L155.5 391.05L155.5 393.2ZM157 393.2L157 391.5L157.5 391.5L157.5 391.46L158 391.46L158 391.5L158.5 391.5L158.5 390.99L159 390.99L159 393.2ZM170.5 393.2L170.5 391.44L171 391.44L171 390.87L171.5 390.87L171.5 391.48L172 391.48L172 391.11L172.5 391.11L172.5 393.2ZM177 393.2L177 391.19L177.5 391.19L177.5 391.54L178 391.54L178 391.57L178.5 391.57L178.5 390.78L179 390.78L179 393.2ZM188 393.2L188 385.76L188.5 385.76L188.5 388L189 388L189 386.4L189.5 386.4L189.5 385.73L190 385.73L190 385.95L190.5 385.95L190.5 386.18L191 386.18L191 383.7L191.5 383.7L191.5 384.81L192 384.81L192 385.22L192.5 385.22L192.5 388.62L193 388.62L193 393.2ZM194 393.2L194 389.06L194.5 389.06L194.5 389.04L195 389.04L195 389.77L195.5 389.77L195.5 389.27L196 389.27L196 393.2ZM199.5 393.2L199.5 391.92L200 391.92L200 391.85L200.5 391.85L200.5 391.37L201 391.37L201 391.72L201.5 391.72L201.5 393.2ZM213.5 393.2L213.5 392.05L214 392.05L214 391.68L214.5 391.68L214.5 391.62L215 391.62L215 391.28L215.5 391.28L215.5 391.14L216 391.14L216 391.84L216.5 391.84L216.5 392.21L217 392.21L217 392.48L217.5 392.48L217.5 393.2ZM220 393.2L220 390.97L220.5 390.97L220.5 387.81L221 387.81L221 387.8L221.5 387.8L221.5 389.49L222 389.49L222 393.2ZM225 393.2L225 390.99L225.5 390.99L225.5 390.74L226 390.74L226 391.38L226.5 391.38L226.5 391.41L227 391.41L227 393.2ZM230 393.2L230 391.39L230.5 391.39L230.5 391.24L231 391.24L231 390.71L231.5 390.71L231.5 391.38L232 391.38L232 393.2ZM237.5 393.2L237.5 391.17L238 391.17L238 391.52L238.5 391.52L238.5 391.55L239 391.55L239 391.1L239.5 391.1L239.5 393.2ZM244.5 393.2L244.5 387.8L245 387.8L245 388.02L245.5 388.02L245.5 387.14L246 387.14L246 387.25L246.5 387.25L246.5 393.2ZM248.5 393.2L248.5 392.32L249 392.32L249 392.26L249.5 392.26L249.5 392.19L250 392.19L250 392.08L250.5 392.08L250.5 391.55L251 391.55L251 391.84L251.5 391.84L251.5 391.9L252 391.9L252 391.42L252.5 391.42L252.5 391.88L253 391.88L253 391.67L253.5 391.67L253.5 392.08L254 392.08L254 392.15L254.5 392.15L254.5 392.52L255 392.52L255 392.5L255.5 392.5L255.5 393.2ZM260 393.2L260 390.67L260.5 390.67L260.5 389.65L261 389.65L261 389.86L261.5 389.86L261.5 390.39L262 390.39L262 393.2Z" fill="#3545a8"/>
<path d="M44.5 408L44.5 407.17L45 407.17L45 406.9L45.5 406.9L45.5 407.46L46 407.46L46 407.35L46.5 407.35L46.5 407.3L47 407.3L47 407.54L47.5 407.54L47.5 407.16L48 407.16L48 407.18L48.5 407.18L48.5 407.46L49 407.46L49 407.65L49.5 407.65L49.5 407.22L50 407.22L50 407.39L50.5 407.39L50.5 407.26L51 407.26L51 407.62L51.5 407.62L51.5 407.58L52 407.58L52 407.55L52.5 407.55L52.5 407.54L53 407.54L53 407.53L53.5 407.53L53.5 407.54L54 407.54L54 407.6L54.5 407.6L54.5 407.54L55 407.54L55 407.18L55.5 407.18L55.5 406.93L56 406.93L56 406.85L56.5 406.85L56.5 407.47L57 407.47L57 407.47L57.5 407.47L57.5 407.17L58 407.17L58 407.01L58.5 407.01L58.5 406.88L59 406.88L59 407.15L59.5 407.15L59.5 407.22L60 407.22L60 407.14L60.5 407.14L60.5 407.22L61 407.22L61 407.3L61.5 407.3L61.5 407.14L62 407.14L62 407.14L62.5 407.14L62.5 406.88L63 406.88L63 406.47L63.5 406.47L63.5 406.68L64 406.68L64 406.5L64.5 406.5L64.5 406.53L65 406.53L65 406.38L65.5 406.38L65.5 406.44L66 406.44L66 406.32L66.5 406.32L66.5 406.07L67 406.07L67 405.81L67.5 405.81L67.5 406.19L68 406.19L68 406.59L68.5 406.59L68.5 406.77L69 406.77L69 406.86L69.5 406.86L69.5 407.17L70 407.17L70 408ZM72.5 408L72.5 406.99L73 406.99L73 407.28L73.5 407.28L73.5 408ZM74 408L74 406.99L74.5 406.99L74.5 406.58L75 406.58L75 406.7L75.5 406.7L75.5 408ZM82.5 408L82.5 407.43L83 407.43L83 407.33L83.5 407.33L83.5 407.22L84 407.22L84 406.72L84.5 406.72L84.5 407.02L85 407.02L85 406.65L85.5 406.65L85.5 406.37L86 406.37L86 406.86L86.5 406.86L86.5 406.61L87 406.61L87 406.53L87.5 406.53L87.5 406.26L88 406.26L88 406.74L88.5 406.74L88.5 406.73L89 406.73L89 406.8L89.5 406.8L89.5 406.98L90 406.98L90 406.76L90.5 406.76L90.5 406.81L91 406.81L91 407.1L91.5 407.1L91.5 407.37L92 407.37L92 407.27L92.5 407.27L92.5 407.62L93 407.62L93 407.6L93.5 407.6L93.5 407.61L94 407.61L94 407.67L94.5 407.67L94.5 408ZM95.5 408L95.5 407.67L96 407.67L96 407.53L96.5 407.53L96.5 407.48L97 407.48L97 407.64L97.5 407.64L97.5 408ZM98 408L98 407.46L98.5 407.46L98.5 407.23L99 407.23L99 407.04L99.5 407.04L99.5 407.06L100 407.06L100 407.37L100.5 407.37L100.5 407.58L101 407.58L101 407.64L101.5 407.64L101.5 407.32L102 407.32L102 407.19L102.5 407.19L102.5 407.56L103 407.56L103 407.64L103.5 407.64L103.5 408ZM104 408L104 407.57L104.5 407.57L104.5 407.47L105 407.47L105 407.5L105.5 407.5L105.5 407.67L106 407.67L106 408ZM106.5 408L106.5 407.49L107 407.49L107 407.42L107.5 407.42L107.5 407.24L108 407.24L108 407.16L108.5 407.16L108.5 407.44L109 407.44L109 408ZM109.5 408L109.5 407.53L110 407.53L110 407.45L110.5 407.45L110.5 407.22L111 407.22L111 407.23L111.5 407.23L111.5 407.34L112 407.34L112 407.59L112.5 407.59L112.5 408ZM113 408L113 407.59L113.5 407.59L113.5 407.38L114 407.38L114 407.37L114.5 407.37L114.5 407.33L115 407.33L115 407.31L115.5 407.31L115.5 407.39L116 407.39L116 407.65L116.5 407.65L116.5 407.05L117 407.05L117 407.08L117.5 407.08L117.5 407.02L118 407.02L118 407.25L118.5 407.25L118.5 407.09L119 407.09L119 407.14L119.5 407.14L119.5 407.62L120 407.62L120 408ZM120.5 408L120.5 407.36L121 407.36L121 407.39L121.5 407.39L121.5 407.54L122 407.54L122 407.39L122.5 407.39L122.5 407.12L123 407.12L123 407.01L123.5 407.01L123.5 406.62L124 406.62L124 406.71L124.5 406.71L124.5 406.85L125 406.85L125 407.11L125.5 407.11L125.5 406.18L126 406.18L126 404.72L126.5 404.72L126.5 403.9L127 403.9L127 404.14L127.5 404.14L127.5 403.68L128 403.68L128 404.66L128.5 404.66L128.5 406.5L129 406.5L129 407.2L129.5 407.2L129.5 406.9L130 406.9L130 407.06L130.5 407.06L130.5 407.07L131 407.07L131 407.13L131.5 407.13L131.5 407.48L132 407.48L132 408ZM132.5 408L132.5 407.49L133 407.49L133 406.91L133.5 406.91L133.5 407.01L134 407.01L134 407.19L134.5 407.19L134.5 407.36L135 407.36L135 407.61L135.5 407.61L135.5 407.43L136 407.43L136 407.12L136.5 407.12L136.5 407.18L137 407.18L137 407.65L137.5 407.65L137.5 407.5L138 407.5L138 407.36L138.5 407.36L138.5 407L139 407L139 407.19L139.5 407.19L139.5 407.34L140 407.34L140 407.52L140.5 407.52L140.5 407.68L141 407.68L141 407.39L141.5 407.39L141.5 407.22L142 407.22L142 407.54L142.5 407.54L142.5 407.67L143 407.67L143 408ZM146.5 408L146.5 407.53L147 407.53L147 407.57L147.5 407.57L147.5 407.55L148 407.55L148 408ZM148.5 408L148.5 407.11L149 407.11L149 406.84L149.5 406.84L149.5 406.99L150 406.99L150 407.26L150.5 407.26L150.5 407.06L151 407.06L151 407.36L151.5 407.36L151.5 407.37L152 407.37L152 407.6L152.5 407.6L152.5 407.42L153 407.42L153 407.16L153.5 407.16L153.5 407.21L154 407.21L154 407.16L154.5 407.16L154.5 407.53L155 407.53L155 407.69L155.5 407.69L155.5 407.64L156 407.64L156 407.43L156.5 407.43L156.5 407.45L157 407.45L157 407.51L157.5 407.51L157.5 407.69L158 407.69L158 408ZM158.5 408L158.5 406.91L159 406.91L159 406.95L159.5 406.95L159.5 408ZM163.5 408L163.5 407.59L164 407.59L164 407.21L164.5 407.21L164.5 407.1L165 407.1L165 407.2L165.5 407.2L165.5 407.4L166 407.4L166 407.65L166.5 407.65L166.5 408ZM167 408L167 407.27L167.5 407.27L167.5 407.04L168 407.04L168 406.79L168.5 406.79L168.5 407.26L169 407.26L169 407.49L169.5 407.49L169.5 408ZM170 408L170 407.07L170.5 407.07L170.5 406.6L171 406.6L171 406.74L171.5 406.74L171.5 406.79L172 406.79L172 406.8L172.5 406.8L172.5 406.99L173 406.99L173 407.17L173.5 407.17L173.5 408ZM175 408L175 407.11L175.5 407.11L175.5 406.96L176 406.96L176 407.23L176.5 407.23L176.5 408ZM181 408L181 407.61L181.5 407.61L181.5 407.45L182 407.45L182 407.56L182.5 407.56L182.5 408ZM183 408L183 407.66L183.5 407.66L183.5 407.54L184 407.54L184 407.4L184.5 407.4L184.5 407.61L185 407.61L185 407.66L185.5 407.66L185.5 408ZM187.5 408L187.5 405.13L188 405.13L188 402.23L188.5 402.23L188.5 402.6L189 402.6L189 403.37L189.5 403.37L189.5 404.94L190 404.94L190 403.57L190.5 403.57L190.5 402.56L191 402.56L191 402.91L191.5 402.91L191.5 401.31L192 401.31L192 402.35L192.5 402.35L192.5 401.09L193 401.09L193 403.24L193.5 403.24L193.5 404.17L194 404.17L194 404.23L194.5 404.23L194.5 404.53L195 404.53L195 404.99L195.5 404.99L195.5 404.5L196 404.5L196 408ZM197 408L197 405.74L197.5 405.74L197.5 405.16L198 405.16L198 404.28L198.5 404.28L198.5 403.81L199 403.81L199 404.85L199.5 404.85L199.5 406.39L200 406.39L200 407.46L200.5 407.46L200.5 407.39L201 407.39L201 407.36L201.5 407.36L201.5 407.39L202 407.39L202 407.4L202.5 407.4L202.5 408ZM205.5 408L205.5 407.13L206 407.13L206 407.25L206.5 407.25L206.5 407.13L207 407.13L207 408ZM209.5 408L209.5 407.6L210 407.6L210 407.39L210.5 407.39L210.5 407.39L211 407.39L211 408ZM215 408L215 407.39L215.5 407.39L215.5 406.74L216 406.74L216 406.94L216.5 406.94L216.5 407.3L217 407.3L217 407.46L217.5 407.46L217.5 407.35L218 407.35L218 407.41L218.5 407.41L218.5 406.9L219 406.9L219 407.15L219.5 407.15L219.5 406.61L220 406.61L220 406.86L220.5 406.86L220.5 406.98L221 406.98L221 406.63L221.5 406.63L221.5 408ZM222 408L222 407.49L222.5 407.49L222.5 407.21L223 407.21L223 407.23L223.5 407.23L223.5 407.64L224 407.64L224 408ZM224.5 408L224.5 407.66L225 407.66L225 407.28L225.5 407.28L225.5 407.17L226 407.17L226 406.98L226.5 406.98L226.5 407.22L227 407.22L227 407.17L227.5 407.17L227.5 407.48L228 407.48L228 408ZM228.5 408L228.5 407.2L229 407.2L229 407.31L229.5 407.31L229.5 407.18L230 407.18L230 407.29L230.5 407.29L230.5 408ZM237 408L237 407.29L237.5 407.29L237.5 407.15L238 407.15L238 407.22L238.5 407.22L238.5 406.84L239 406.84L239 407.04L239.5 407.04L239.5 407.07L240 407.07L240 406.8L240.5 406.8L240.5 406.58L241 406.58L241 406.71L241.5 406.71L241.5 406.75L242 406.75L242 406.82L242.5 406.82L242.5 406.98L243 406.98L243 407.04L243.5 407.04L243.5 407.09L244 407.09L244 407.14L244.5 407.14L244.5 407.14L245 407.14L245 407.51L245.5 407.51L245.5 408ZM248 408L248 407.53L248.5 407.53L248.5 407.05L249 407.05L249 407.19L249.5 407.19L249.5 407.1L250 407.1L250 407.5L250.5 407.5L250.5 408ZM251 408L251 407.66L251.5 407.66L251.5 407.41L252 407.41L252 407.36L252.5 407.36L252.5 407.53L253 407.53L253 408ZM254 408L254 407.21L254.5 407.21L254.5 406.88L255 406.88L255 407.11L255.5 407.11L255.5 407.24L256 407.24L256 407.64L256.5 407.64L256.5 407.36L257 407.36L257 407.28L257.5 407.28L257.5 407.33L258 407.33L258 408Z" fill="#1e1e6a"/>
<path d="M44.5 423.8L44.5 423.25L45 423.25L45 423.03L45.5 423.03L45.5 422.93L46 422.93L46 423.01L46.5 423.01L46.5 423.34L47 423.34L47 423.8ZM47.5 423.8L47.5 423.16L48 423.16L48 422.99L48.5 422.99L48.5 423L49 423L49 423.8ZM49.5 423.8L49.5 422.79L50 422.79L50 421.88L50.5 421.88L50.5 421.79L51 421.79L51 421.65L51.5 421.65L51.5 422.5L52 422.5L52 422.92L52.5 422.92L52.5 422.3L53 422.3L53 422.42L53.5 422.42L53.5 422.28L54 422.28L54 421.98L54.5 421.98L54.5 423.8ZM57 423.8L57 423.14L57.5 423.14L57.5 422.93L58 422.93L58 423.1L58.5 423.1L58.5 422.87L59 422.87L59 423.36L59.5 423.36L59.5 423.8ZM60 423.8L60 423.05L60.5 423.05L60.5 422.93L61 422.93L61 422.81L61.5 422.81L61.5 423.8ZM62 423.8L62 422.44L62.5 422.44L62.5 422.71L63 422.71L63 422.38L63.5 422.38L63.5 422.45L64 422.45L64 423.41L64.5 423.41L64.5 423.12L65 423.12L65 422.92L65.5 422.92L65.5 422.99L66 422.99L66 423.12L66.5 423.12L66.5 422.79L67 422.79L67 422.61L67.5 422.61L67.5 422.46L68 422.46L68 422.34L68.5 422.34L68.5 423.28L69 423.28L69 423.8ZM69.5 423.8L69.5 423.42L70 423.42L70 423.2L70.5 423.2L70.5 423.23L71 423.23L71 423.34L71.5 423.34L71.5 423.8ZM74.5 423.8L74.5 422.65L75 422.65L75 422.75L75.5 422.75L75.5 422.79L76 422.79L76 423.19L76.5 423.19L76.5 422.91L77 422.91L77 422.49L77.5 422.49L77.5 422.79L78 422.79L78 423.09L78.5 423.09L78.5 422.87L79 422.87L79 423.8ZM79.5 423.8L79.5 423.07L80 423.07L80 423.12L80.5 423.12L80.5 423.22L81 423.22L81 423.19L81.5 423.19L81.5 422.89L82 422.89L82 422.93L82.5 422.93L82.5 423.8ZM84 423.8L84 423.44L84.5 423.44L84.5 423.31L85 423.31L85 423.34L85.5 423.34L85.5 423.15L86 423.15L86 423.33L86.5 423.33L86.5 423.8ZM87 423.8L87 423.36L87.5 423.36L87.5 423.2L88 423.2L88 423.17L88.5 423.17L88.5 423.29L89 423.29L89 423.39L89.5 423.39L89.5 423.8ZM90 423.8L90 422.96L90.5 422.96L90.5 422.97L91 422.97L91 422.99L91.5 422.99L91.5 423.35L92 423.35L92 423.12L92.5 423.12L92.5 423.17L93 423.17L93 423.43L93.5 423.43L93.5 423.8ZM98 423.8L98 422.96L98.5 422.96L98.5 422.56L99 422.56L99 421.99L99.5 421.99L99.5 421.86L100 421.86L100 422.65L100.5 422.65L100.5 422.99L101 422.99L101 422.98L101.5 422.98L101.5 423.8ZM102.5 423.8L102.5 422.93L103 422.93L103 422.7L103.5 422.7L103.5 422.63L104 422.63L104 423.33L104.5 423.33L104.5 422.68L105 422.68L105 423.02L105.5 423.02L105.5 422.99L106 422.99L106 423.8ZM107 423.8L107 423.05L107.5 423.05L107.5 423.09L108 423.09L108 423.01L108.5 423.01L108.5 423.25L109 423.25L109 423.49L109.5 423.49L109.5 423.35L110 423.35L110 423.09L110.5 423.09L110.5 423.3L111 423.3L111 422.94L111.5 422.94L111.5 422.24L112 422.24L112 421.42L112.5 421.42L112.5 421.74L113 421.74L113 422.54L113.5 422.54L113.5 423.8ZM120 423.8L120 423.45L120.5 423.45L120.5 423.37L121 423.37L121 423.46L121.5 423.46L121.5 423.8ZM124 423.8L124 423.5L124.5 423.5L124.5 423.3L125 423.3L125 423.26L125.5 423.26L125.5 423.04L126 423.04L126 423.13L126.5 423.13L126.5 423.41L127 423.41L127 423.04L127.5 423.04L127.5 422.67L128 422.67L128 422.13L128.5 422.13L128.5 422.67L129 422.67L129 422.81L129.5 422.81L129.5 423.8ZM130 423.8L130 423.44L130.5 423.44L130.5 423.35L131 423.35L131 423.3L131.5 423.3L131.5 423.45L132 423.45L132 423.12L132.5 423.12L132.5 423.08L133 423.08L133 422.85L133.5 422.85L133.5 423.48L134 423.48L134 423.18L134.5 423.18L134.5 422.98L135 422.98L135 422.97L135.5 422.97L135.5 422.52L136 422.52L136 422.84L136.5 422.84L136.5 422.83L137 422.83L137 422.87L137.5 422.87L137.5 423.34L138 423.34L138 423.1L138.5 423.1L138.5 422.96L139 422.96L139 422.76L139.5 422.76L139.5 422.56L140 422.56L140 423L140.5 423L140.5 422.97L141 422.97L141 423.8ZM142.5 423.8L142.5 422.3L143 422.3L143 421.5L143.5 421.5L143.5 420.61L144 420.61L144 420.9L144.5 420.9L144.5 421.85L145 421.85L145 422.74L145.5 422.74L145.5 423.8ZM147 423.8L147 423.37L147.5 423.37L147.5 423.31L148 423.31L148 422.98L148.5 422.98L148.5 423.13L149 423.13L149 423.41L149.5 423.41L149.5 423.25L150 423.25L150 423.31L150.5 423.31L150.5 423.33L151 423.33L151 423.8ZM153 423.8L153 423.35L153.5 423.35L153.5 423.02L154 423.02L154 423.18L154.5 423.18L154.5 423.3L155 423.3L155 423.49L155.5 423.49L155.5 423.8ZM156 423.8L156 423.32L156.5 423.32L156.5 423.29L157 423.29L157 423.32L157.5 423.32L157.5 423.8ZM165.5 423.8L165.5 423.04L166 423.04L166 422.79L166.5 422.79L166.5 422.97L167 422.97L167 423.8ZM167.5 423.8L167.5 423.27L168 423.27L168 422.92L168.5 422.92L168.5 423.04L169 423.04L169 423.41L169.5 423.41L169.5 423.8ZM176 423.8L176 423.18L176.5 423.18L176.5 423.18L177 423.18L177 423.31L177.5 423.31L177.5 423.13L178 423.13L178 423.28L178.5 423.28L178.5 423.1L179 423.1L179 423.06L179.5 423.06L179.5 423.16L180 423.16L180 423.25L180.5 423.25L180.5 423.47L181 423.47L181 423.24L181.5 423.24L181.5 423.02L182 423.02L182 422.74L182.5 422.74L182.5 422.97L183 422.97L183 422.93L183.5 422.93L183.5 422.97L184 422.97L184 422.91L184.5 422.91L184.5 422.81L185 422.81L185 422.76L185.5 422.76L185.5 423.19L186 423.19L186 423.13L186.5 423.13L186.5 423.17L187 423.17L187 423.26L187.5 423.26L187.5 423.8ZM188 423.8L188 423.33L188.5 423.33L188.5 423.09L189 423.09L189 423.14L189.5 423.14L189.5 423.19L190 423.19L190 422.96L190.5 422.96L190.5 423.03L191 423.03L191 423.37L191.5 423.37L191.5 423.41L192 423.41L192 423.36L192.5 423.36L192.5 423.39L193 423.39L193 423.21L193.5 423.21L193.5 423L194 423L194 422.87L194.5 422.87L194.5 423.07L195 423.07L195 423.31L195.5 423.31L195.5 423.39L196 423.39L196 423.8ZM196.5 423.8L196.5 423.44L197 423.44L197 423.28L197.5 423.28L197.5 423.44L198 423.44L198 423.8ZM198.5 423.8L198.5 422.86L199 422.86L199 423.13L199.5 423.13L199.5 423.02L200 423.02L200 423.14L200.5 423.14L200.5 423.8ZM202.5 423.8L202.5 423.38L203 423.38L203 423.38L203.5 423.38L203.5 423.29L204 423.29L204 423.41L204.5 423.41L204.5 423.29L205 423.29L205 422.95L205.5 422.95L205.5 422.71L206 422.71L206 422.62L206.5 422.62L206.5 422.11L207 422.11L207 422.26L207.5 422.26L207.5 422.16L208 422.16L208 422.85L208.5 422.85L208.5 423.06L209 423.06L209 423.8ZM211.5 423.8L211.5 423.05L212 423.05L212 422.9L212.5 422.9L212.5 422.67L213 422.67L213 422.39L213.5 422.39L213.5 422.81L214 422.81L214 422.84L214.5 422.84L214.5 423.22L215 423.22L215 423.04L215.5 423.04L215.5 423.22L216 423.22L216 423.33L216.5 423.33L216.5 423.35L217 423.35L217 423.12L217.5 423.12L217.5 421.88L218 421.88L218 422.07L218.5 422.07L218.5 422.48L219 422.48L219 421.9L219.5 421.9L219.5 423.33L220 423.33L220 423.8ZM220.5 423.8L220.5 423.19L221 423.19L221 423.19L221.5 423.19L221.5 423.42L222 423.42L222 423.8ZM222.5 423.8L222.5 420.36L223 420.36L223 419.08L223.5 419.08L223.5 419.4L224 419.4L224 420.51L224.5 420.51L224.5 421.87L225 421.87L225 423.8ZM227 423.8L227 423.21L227.5 423.21L227.5 423.02L228 423.02L228 422.82L228.5 422.82L228.5 422.88L229 422.88L229 423.04L229.5 423.04L229.5 423.18L230 423.18L230 423.3L230.5 423.3L230.5 423.04L231 423.04L231 422.75L231.5 422.75L231.5 422.89L232 422.89L232 423.01L232.5 423.01L232.5 423.43L233 423.43L233 423.27L233.5 423.27L233.5 423.02L234 423.02L234 422.92L234.5 422.92L234.5 422.92L235 422.92L235 423.21L235.5 423.21L235.5 423.8ZM236 423.8L236 422.27L236.5 422.27L236.5 422.12L237 422.12L237 422.31L237.5 422.31L237.5 423.41L238 423.41L238 423.8ZM238.5 423.8L238.5 423.37L239 423.37L239 423.19L239.5 423.19L239.5 423.12L240 423.12L240 422.79L240.5 422.79L240.5 423L241 423L241 423.2L241.5 423.2L241.5 423.33L242 423.33L242 423.14L242.5 423.14L242.5 422.68L243 422.68L243 422.82L243.5 422.82L243.5 422.48L244 422.48L244 421.36L244.5 421.36L244.5 422.25L245 422.25L245 422.56L245.5 422.56L245.5 423.8ZM247 423.8L247 423.41L247.5 423.41L247.5 423.27L248 423.27L248 423.06L248.5 423.06L248.5 423.27L249 423.27L249 423.47L249.5 423.47L249.5 423.8ZM250 423.8L250 423.35L250.5 423.35L250.5 423.18L251 423.18L251 423.33L251.5 423.33L251.5 423.39L252 423.39L252 423.5L252.5 423.5L252.5 423.48L253 423.48L253 423.29L253.5 423.29L253.5 423.37L254 423.37L254 423.8ZM258 423.8L258 422.87L258.5 422.87L258.5 422.75L259 422.75L259 422.96L259.5 422.96L259.5 422.89L260 422.89L260 422.95L260.5 422.95L260.5 423.16L261 423.16L261 423.45L261.5 423.45L261.5 423.8Z" fill="#5a48b0"/>
<rect x="44" y="425" width="217.5" height="1.9" fill="#b4b4b4"/>
<line x1="44" y1="425.2" x2="261.5" y2="425.2" stroke="#8a8a8a" stroke-width="0.5"/>
<line x1="44" y1="426.7" x2="261.5" y2="426.7" stroke="#9a9a9a" stroke-width="0.5"/>
<line x1="44" y1="441.4" x2="261" y2="441.4" stroke="#e2e2e2" stroke-width="0.6"/>
<line x1="44" y1="456.3" x2="261" y2="456.3" stroke="#e2e2e2" stroke-width="0.6"/>
<line x1="44" y1="471.3" x2="261" y2="471.3" stroke="#e2e2e2" stroke-width="0.6"/>
<line x1="260.8" y1="427" x2="260.8" y2="471.5" stroke="#e2e2e2" stroke-width="0.6"/>
<line x1="44" y1="427" x2="44" y2="471.5" stroke="#eeeeee" stroke-width="0.5"/>
<line x1="105.8" y1="430.8" x2="127.9" y2="430.8" stroke="#2a2a8a" stroke-width="0.9"/>
<rect x="105.8" y="429.2" width="3.7" height="3.2" fill="#2a2a8a"/>
<rect x="115.9" y="428.4" width="2" height="4.8" fill="#2a2a8a"/>
<line x1="127.5" y1="428.4" x2="127.5" y2="433.2" stroke="#2a2a8a" stroke-width="0.9"/>
<path d="M109.9 429.6 L108.9 430.8 L109.9 432" stroke="#2a2a8a" stroke-width="0.6" fill="none"/>
<path d="M115.3 429.6 L114.3 430.8 L115.3 432" stroke="#2a2a8a" stroke-width="0.6" fill="none"/>
<path d="M124.1 429.6 L123.1 430.8 L124.1 432" stroke="#2a2a8a" stroke-width="0.6" fill="none"/>
<text x="116.8" y="439.3" font-size="5" text-anchor="middle" fill="#4a4aa0" stroke="#4a4aa0" stroke-width="0.05" font-style="italic">CYTL1</text>
<text x="193.7" y="436.91" font-size="5.3" text-anchor="middle" fill="#5a4aa8" stroke="#5a4aa8" stroke-width="0.05" font-style="italic" textLength="45.7" lengthAdjust="spacingAndGlyphs">Enh: GH04J005032</text>
<text x="45.4" y="451.07" font-size="5.2" text-anchor="end" fill="#222" stroke="#222" stroke-width="0.05">HD_bed</text>
<text x="45.4" y="463.67" font-size="5.2" text-anchor="end" fill="#222" stroke="#222" stroke-width="0.05" textLength="37.4" lengthAdjust="spacingAndGlyphs">CMML1&amp;2_bed</text>
<rect x="188.8" y="459.2" width="4.9" height="3.3" fill="#2a2a70"/>
<text x="191.2" y="469.32" font-size="4.5" text-anchor="middle" fill="#222" stroke="#222" stroke-width="0.05">CMML</text>
<line x1="186.4" y1="61.5" x2="186.4" y2="425.8" stroke="#000" stroke-width="0.9" stroke-dasharray="1 1.1"/>
<line x1="201.5" y1="61.5" x2="201.5" y2="425.8" stroke="#000" stroke-width="0.9" stroke-dasharray="1 1.1"/>
<line x1="186.4" y1="61.5" x2="201.5" y2="61.5" stroke="#000" stroke-width="0.9" stroke-dasharray="1 1.1"/>
<line x1="186.4" y1="425.8" x2="201.5" y2="425.8" stroke="#000" stroke-width="0.9" stroke-dasharray="1 1.1"/>
<text x="300.49" y="20.1" font-size="14.4" stroke="#000" stroke-width="0.3" font-weight="bold" textLength="9.83" lengthAdjust="spacingAndGlyphs">C</text>
<text x="343.5" y="36.22" font-size="9.5" text-anchor="middle">-</text>
<text x="369.5" y="36.22" font-size="9.5" text-anchor="middle">+</text>
<text x="395.4" y="36.22" font-size="9.5" text-anchor="middle">-</text>
<text x="421.8" y="36.22" font-size="9.5" text-anchor="middle">+</text>
<text x="432.7" y="36.4" font-size="10" textLength="35.8" lengthAdjust="spacingAndGlyphs">rhCYTL1</text>
<text x="300.3" y="51.6" font-size="10" textLength="22.9" lengthAdjust="spacingAndGlyphs">(kDa)</text>
<text x="343.5" y="51.42" font-size="9.5" text-anchor="middle">-</text>
<text x="369.5" y="51.42" font-size="9.5" text-anchor="middle">-</text>
<text x="395.4" y="51.42" font-size="9.5" text-anchor="middle">+</text>
<text x="421.8" y="51.42" font-size="9.5" text-anchor="middle">+</text>
<text x="432.7" y="51.6" font-size="10" textLength="37.3" lengthAdjust="spacingAndGlyphs">CAS 445</text>
<text x="323" y="75.17" font-size="10.2" text-anchor="end" textLength="10.9" lengthAdjust="spacingAndGlyphs">42</text>
<text x="323" y="100.97" font-size="10.2" text-anchor="end" textLength="10.9" lengthAdjust="spacingAndGlyphs">42</text>
<text x="323" y="125.97" font-size="10.2" text-anchor="end" textLength="10.9" lengthAdjust="spacingAndGlyphs">45</text>
<defs><filter id="bl" x="-20%" y="-50%" width="140%" height="200%"><feGaussianBlur stdDeviation="0.8"/></filter><filter id="bl2" x="-20%" y="-50%" width="140%" height="200%"><feGaussianBlur stdDeviation="1.6"/></filter><linearGradient id="bg1" x1="0" y1="0" x2="0" y2="1"><stop offset="0" stop-color="#e9e9e9"/><stop offset="1" stop-color="#e2e2e2"/></linearGradient></defs>
<rect x="327.1" y="55.8" width="104.3" height="30" fill="url(#bg1)"/>
<rect x="327.1" y="90" width="104.3" height="23.3" fill="url(#bg1)"/>
<rect x="327.1" y="116.2" width="104.3" height="21.5" fill="url(#bg1)"/>
<g filter="url(#bl2)"><rect x="359" y="63.5" width="18" height="8" rx="3" fill="#999"/><rect x="332.5" y="96" width="19.0" height="11" rx="3" fill="#aaa"/><rect x="333.5" y="118" width="18.0" height="14" rx="4" fill="#9a9a9a"/><rect x="358" y="96" width="18.5" height="11" rx="3" fill="#aaa"/><rect x="359" y="118" width="17.5" height="14" rx="4" fill="#9a9a9a"/><rect x="383" y="96" width="17.5" height="11" rx="3" fill="#aaa"/><rect x="384" y="118" width="16.5" height="14" rx="4" fill="#9a9a9a"/><rect x="407.5" y="96" width="17.5" height="11" rx="3" fill="#aaa"/><rect x="408.5" y="118" width="16.5" height="14" rx="4" fill="#9a9a9a"/></g><g filter="url(#bl)"><rect x="333" y="71" width="19.5" height="2.4" rx="1.2" fill="#9a9a9a"/><rect x="333" y="70.8" width="3" height="2.8" rx="1.2" fill="#777"/><rect x="348" y="70.8" width="4" height="2.8" rx="1.2" fill="#777"/><rect x="383.2" y="70.8" width="18" height="2.6" rx="1.2" fill="#999"/><rect x="407" y="68.6" width="18.5" height="4.8" rx="2" fill="#1a1a1a"/></g><g filter="url(#bl)" opacity="1"><rect x="358.6" y="65.2" width="19" height="8.6" rx="2" fill="#000"/><rect x="331.5" y="98.2" width="21" height="3.2" rx="1.4" fill="#111"/><rect x="331.5" y="102.9" width="21" height="3.6" rx="1.4" fill="#000"/><rect x="357" y="96.2" width="20.5" height="4.6" rx="1.8" fill="#000"/><rect x="357" y="100.6" width="20.5" height="1.8" fill="#333"/><rect x="357" y="102.2" width="20.5" height="4.4" rx="1.8" fill="#000"/><rect x="382" y="98.2" width="19.5" height="3.0" rx="1.4" fill="#111"/><rect x="382" y="102.7" width="19.5" height="3.8" rx="1.4" fill="#000"/><rect x="406.5" y="98.0" width="19.5" height="3.6" rx="1.5" fill="#000"/><rect x="406.5" y="101.4" width="19.5" height="1.2" fill="#2a2a2a"/><rect x="406.5" y="102.4" width="19.5" height="4.2" rx="1.5" fill="#000"/><rect x="333" y="122.6" width="20" height="8" rx="3.5" fill="#000"/><rect x="358" y="122.6" width="20" height="8" rx="3.5" fill="#000"/><rect x="383" y="122.6" width="19" height="8" rx="3.5" fill="#000"/><rect x="407" y="122.6" width="19" height="8" rx="3.5" fill="#000"/><rect x="330.5" y="119.5" width="3.5" height="2" rx="1" fill="#444"/><rect x="354.5" y="119.5" width="3.5" height="2" rx="1" fill="#444"/><rect x="379" y="120.5" width="3.5" height="2" rx="1" fill="#555"/><rect x="403" y="120" width="3.5" height="2" rx="1" fill="#555"/></g>
<rect x="327.1" y="55.8" width="104.3" height="30" fill="none" stroke="#1a1a1a" stroke-width="1.3"/>
<rect x="327.1" y="90" width="104.3" height="23.3" fill="none" stroke="#1a1a1a" stroke-width="1.3"/>
<rect x="327.1" y="116.2" width="104.3" height="21.5" fill="none" stroke="#1a1a1a" stroke-width="1.3"/>
<text x="435.3" y="74.06" font-size="9.9" textLength="26.6" lengthAdjust="spacingAndGlyphs">p-ERK</text>
<text x="435.3" y="102.66" font-size="9.9" textLength="17.6" lengthAdjust="spacingAndGlyphs">ERK</text>
<text x="435.3" y="129.06" font-size="9.9" textLength="28.7" lengthAdjust="spacingAndGlyphs">ACTIN</text>
<line x1="336.5" y1="157.8" x2="336.5" y2="249" stroke="#000" stroke-width="1.3"/>
<line x1="333.5" y1="248.5" x2="436.3" y2="248.5" stroke="#000" stroke-width="1.3"/>
<line x1="333.3" y1="248.6" x2="336.5" y2="248.6" stroke="#000" stroke-width="1"/>
<text x="326.7" y="252.02" font-size="9.5" text-anchor="middle">0</text>
<line x1="333.3" y1="226.75" x2="336.5" y2="226.75" stroke="#000" stroke-width="1"/>
<text x="326.7" y="230.17" font-size="9.5" text-anchor="middle">1</text>
<line x1="333.3" y1="204.9" x2="336.5" y2="204.9" stroke="#000" stroke-width="1"/>
<text x="326.7" y="208.32" font-size="9.5" text-anchor="middle">2</text>
<line x1="333.3" y1="183.05" x2="336.5" y2="183.05" stroke="#000" stroke-width="1"/>
<text x="326.7" y="186.47" font-size="9.5" text-anchor="middle">3</text>
<line x1="333.3" y1="161.2" x2="336.5" y2="161.2" stroke="#000" stroke-width="1"/>
<text x="326.7" y="164.62" font-size="9.5" text-anchor="middle">4</text>
<rect x="345" y="226.75" width="16.25" height="21.55" fill="#b1bb88"/>
<rect x="370" y="183.05" width="16.25" height="65.25" fill="#b1bb88"/>
<rect x="395" y="224.56" width="16.25" height="23.74" fill="#b1bb88"/>
<rect x="419.5" y="198.56" width="16.25" height="49.74" fill="#b1bb88"/>
<text transform="translate(313.6,202.9) rotate(-90)" x="0" y="3.6" font-size="10" text-anchor="middle" textLength="66.8" lengthAdjust="spacingAndGlyphs">P-ERK / ERK (AU)</text>
<text x="352.9" y="264.67" font-size="10.2" text-anchor="middle">0</text>
<text x="377.7" y="264.67" font-size="10.2" text-anchor="middle">0'</text>
<text x="402.5" y="264.67" font-size="10.2" text-anchor="middle">30'</text>
<text x="427.5" y="264.67" font-size="10.2" text-anchor="middle">30'</text>
<text x="438.3" y="264.67" font-size="10.2" textLength="37.7" lengthAdjust="spacingAndGlyphs">CAS 445</text>
<text x="352.9" y="278.47" font-size="10.2" text-anchor="middle">0</text>
<text x="377.7" y="278.47" font-size="10.2" text-anchor="middle">15'</text>
<text x="402.5" y="278.47" font-size="10.2" text-anchor="middle">0</text>
<text x="427.5" y="278.47" font-size="10.2" text-anchor="middle">15'</text>
<text x="438.3" y="278.47" font-size="10.2" textLength="35.8" lengthAdjust="spacingAndGlyphs">rhCYTL1</text>
<text x="300.46" y="310.6" font-size="14.4" stroke="#000" stroke-width="0.3" font-weight="bold" textLength="10.8" lengthAdjust="spacingAndGlyphs">D</text>
<line x1="344.5" y1="320.4" x2="344.5" y2="454" stroke="#000" stroke-width="1.3"/>
<line x1="344.5" y1="453.5" x2="455" y2="453.5" stroke="#000" stroke-width="1.3"/>
<line x1="341" y1="453.2" x2="344.5" y2="453.2" stroke="#000" stroke-width="1"/>
<text x="333.6" y="456.62" font-size="9.5" text-anchor="middle">0</text>
<line x1="341" y1="420.7" x2="344.5" y2="420.7" stroke="#000" stroke-width="1"/>
<text x="333.6" y="424.12" font-size="9.5" text-anchor="middle">2</text>
<line x1="341" y1="388.2" x2="344.5" y2="388.2" stroke="#000" stroke-width="1"/>
<text x="333.6" y="391.62" font-size="9.5" text-anchor="middle">4</text>
<line x1="341" y1="355.7" x2="344.5" y2="355.7" stroke="#000" stroke-width="1"/>
<text x="333.6" y="359.12" font-size="9.5" text-anchor="middle">6</text>
<line x1="341" y1="323.2" x2="344.5" y2="323.2" stroke="#000" stroke-width="1"/>
<text x="333.6" y="326.62" font-size="9.5" text-anchor="middle">8</text>
<line x1="375.7" y1="453.5" x2="375.7" y2="456.5" stroke="#000" stroke-width="1"/>
<line x1="423.8" y1="453.5" x2="423.8" y2="456.5" stroke="#000" stroke-width="1"/>
<rect x="359.3" y="436.2" width="32" height="16.9" fill="#c9887c"/>
<rect x="407.8" y="414" width="32" height="39.1" fill="#b9d3f0"/>
<line x1="365" y1="342.5" x2="420.8" y2="342.5" stroke="#000" stroke-width="1"/>
<text x="393.4" y="339.5" font-size="10" text-anchor="middle">****</text>
<text x="368.2" y="390.68" font-size="9.4" textLength="26" lengthAdjust="spacingAndGlyphs">n = 10</text>
<circle cx="383.5" cy="438.5" r="3.4" fill="#c0102e" stroke="#111" stroke-width="0.9"/>
<circle cx="375.6" cy="438.5" r="3.4" fill="#c0102e" stroke="#111" stroke-width="0.9"/>
<circle cx="372.2" cy="438.5" r="3.4" fill="#c0102e" stroke="#111" stroke-width="0.9"/>
<circle cx="368.6" cy="438.5" r="3.4" fill="#c0102e" stroke="#111" stroke-width="0.9"/>
<circle cx="364.3" cy="438.5" r="3.4" fill="#c0102e" stroke="#111" stroke-width="0.9"/>
<circle cx="379.6" cy="438.5" r="3.4" fill="#c0102e" stroke="#111" stroke-width="0.9"/>
<circle cx="387.3" cy="438.5" r="3.4" fill="#c0102e" stroke="#111" stroke-width="0.9"/>
<circle cx="423.8" cy="353.4" r="3.7" fill="#5ea4de"/>
<circle cx="423.8" cy="388.5" r="3.7" fill="#5ea4de"/>
<circle cx="423.8" cy="399.3" r="3.7" fill="#5ea4de"/>
<circle cx="419.6" cy="418.5" r="3.7" fill="#5ea4de"/>
<circle cx="427.7" cy="426.1" r="3.7" fill="#5ea4de"/>
<circle cx="411.5" cy="431.2" r="3.7" fill="#5ea4de"/>
<circle cx="417.8" cy="432.3" r="3.7" fill="#5ea4de"/>
<circle cx="436.2" cy="431.2" r="3.7" fill="#5ea4de"/>
<circle cx="430.7" cy="433.5" r="3.7" fill="#5ea4de"/>
<circle cx="424.7" cy="435.8" r="3.7" fill="#5ea4de"/>
<line x1="423.5" y1="405.5" x2="423.5" y2="421.5" stroke="#000" stroke-width="1.1"/>
<line x1="415.7" y1="405.5" x2="431.8" y2="405.5" stroke="#000" stroke-width="1.1"/>
<line x1="415.7" y1="421.5" x2="431.8" y2="421.5" stroke="#000" stroke-width="1.1"/>
<text x="375.6" y="469.1" font-size="10" text-anchor="middle">0</text>
<text x="422.75" y="469.1" font-size="10" text-anchor="middle" textLength="43.9" lengthAdjust="spacingAndGlyphs">100 ng/ml</text>
<text x="399.35" y="484.57" font-size="10.2" text-anchor="middle" textLength="31.1" lengthAdjust="spacingAndGlyphs">rhCYTL1</text>
<text transform="translate(307,386.8) rotate(-90)" x="0" y="3.6" font-size="10" text-anchor="middle" textLength="48.9" lengthAdjust="spacingAndGlyphs">Cell survival</text>
<text transform="translate(320.8,386.8) rotate(-90)" x="0" y="3.6" font-size="10" text-anchor="middle" textLength="80.3" lengthAdjust="spacingAndGlyphs">(relative to controls)</text>
<text x="8.14" y="517.8" font-size="14.4" stroke="#000" stroke-width="0.3" font-weight="bold" textLength="9.93" lengthAdjust="spacingAndGlyphs">B</text>
<line x1="52.5" y1="542" x2="52.5" y2="651" stroke="#000" stroke-width="1.3"/>
<line x1="52.5" y1="650.5" x2="165.4" y2="650.5" stroke="#000" stroke-width="1.3"/>
<line x1="49.2" y1="650.2" x2="52.5" y2="650.2" stroke="#000" stroke-width="1"/>
<text x="42" y="653.58" font-size="9.4" text-anchor="middle">0</text>
<line x1="49.2" y1="615.2" x2="52.5" y2="615.2" stroke="#000" stroke-width="1"/>
<text x="42" y="618.58" font-size="9.4" text-anchor="middle">2</text>
<line x1="49.2" y1="580.2" x2="52.5" y2="580.2" stroke="#000" stroke-width="1"/>
<text x="42" y="583.58" font-size="9.4" text-anchor="middle">4</text>
<line x1="49.2" y1="545.2" x2="52.5" y2="545.2" stroke="#000" stroke-width="1"/>
<text x="42" y="548.58" font-size="9.4" text-anchor="middle">6</text>
<line x1="80.5" y1="650.5" x2="80.5" y2="653.5" stroke="#000" stroke-width="1"/>
<line x1="138.5" y1="650.5" x2="138.5" y2="653.5" stroke="#000" stroke-width="1"/>
<line x1="81.8" y1="555.5" x2="137.2" y2="555.5" stroke="#000" stroke-width="1.1"/>
<text x="109.5" y="556.1" font-size="10" text-anchor="middle">*</text>
<text x="59.7" y="573.06" font-size="9.9" textLength="37.6" lengthAdjust="spacingAndGlyphs">Enh Set 1</text>
<circle cx="80.7" cy="628.9" r="2.6" fill="#8f88c8"/>
<circle cx="84.6" cy="641.5" r="2.6" fill="#8f88c8"/>
<circle cx="76.5" cy="646.2" r="2.6" fill="#8f88c8"/>
<line x1="61.5" y1="638.5" x2="99.6" y2="638.5" stroke="#000" stroke-width="1.1"/>
<line x1="71.5" y1="633.5" x2="90.4" y2="633.5" stroke="#000" stroke-width="1.1"/>
<line x1="71.5" y1="643.5" x2="90.4" y2="643.5" stroke="#000" stroke-width="1.1"/>
<line x1="80.5" y1="633.5" x2="80.5" y2="643.5" stroke="#000" stroke-width="1.1"/>
<rect x="136.1" y="561.9" width="4.6" height="4.6" fill="#1f3c78"/>
<rect x="136.1" y="578.1" width="4.6" height="4.6" fill="#8f88c8"/>
<rect x="132.4" y="585" width="4.6" height="4.6" fill="#8f88c8"/>
<rect x="140" y="587.7" width="4.6" height="4.6" fill="#8f88c8"/>
<rect x="136.1" y="613.4" width="4.6" height="4.6" fill="#5aa6e2"/>
<line x1="119.2" y1="587.5" x2="157.8" y2="587.5" stroke="#000" stroke-width="1.1"/>
<line x1="129.2" y1="579.5" x2="148" y2="579.5" stroke="#000" stroke-width="1.1"/>
<line x1="129.2" y1="595.5" x2="148" y2="595.5" stroke="#000" stroke-width="1.1"/>
<line x1="138.5" y1="579.5" x2="138.5" y2="595.5" stroke="#000" stroke-width="1.1"/>
<text x="80" y="665.91" font-size="10.3" text-anchor="middle" textLength="27.4" lengthAdjust="spacingAndGlyphs">CYTL1</text>
<text x="138.4" y="665.91" font-size="10.3" text-anchor="middle" textLength="27.4" lengthAdjust="spacingAndGlyphs">CYTL1</text>
<text x="80" y="676.8" font-size="9.6" text-anchor="middle">low</text>
<text x="138.4" y="676.8" font-size="9.6" text-anchor="middle">high</text>
<text transform="translate(15.9,598.7) rotate(-90)" x="0" y="3.53" font-size="9.8" text-anchor="middle" textLength="95.3" lengthAdjust="spacingAndGlyphs">EGR1 fold enrichment</text>
<text transform="translate(29.5,599.2) rotate(-90)" x="0" y="3.53" font-size="9.8" text-anchor="middle" textLength="69.2" lengthAdjust="spacingAndGlyphs">(relative to IgG)</text>
<line x1="204.5" y1="543.4" x2="204.5" y2="651" stroke="#000" stroke-width="1.3"/>
<line x1="204.5" y1="650.5" x2="315.3" y2="650.5" stroke="#000" stroke-width="1.3"/>
<line x1="201.2" y1="650.1" x2="204.5" y2="650.1" stroke="#000" stroke-width="1"/>
<text x="197.6" y="653.48" font-size="9.4" text-anchor="end">0</text>
<line x1="201.2" y1="615.4" x2="204.5" y2="615.4" stroke="#000" stroke-width="1"/>
<text x="197.6" y="618.78" font-size="9.4" text-anchor="end">5</text>
<line x1="201.2" y1="580.7" x2="204.5" y2="580.7" stroke="#000" stroke-width="1"/>
<text x="197.6" y="584.08" font-size="9.4" text-anchor="end">10</text>
<line x1="201.2" y1="546" x2="204.5" y2="546" stroke="#000" stroke-width="1"/>
<text x="197.6" y="549.38" font-size="9.4" text-anchor="end">15</text>
<line x1="231.5" y1="650.5" x2="231.5" y2="653.5" stroke="#000" stroke-width="1"/>
<line x1="287.5" y1="650.5" x2="287.5" y2="653.5" stroke="#000" stroke-width="1"/>
<line x1="235.3" y1="555.5" x2="290.3" y2="555.5" stroke="#000" stroke-width="1.1"/>
<text x="263" y="554.7" font-size="10" text-anchor="middle">*</text>
<text x="206.9" y="573.26" font-size="9.9" textLength="38.8" lengthAdjust="spacingAndGlyphs">Enh Set 2</text>
<circle cx="224.2" cy="644.2" r="2.6" fill="#8f88c8"/>
<circle cx="231.9" cy="648.2" r="2.6" fill="#8f88c8"/>
<circle cx="239.7" cy="648.2" r="2.6" fill="#8f88c8"/>
<line x1="213.4" y1="646.5" x2="250.8" y2="646.5" stroke="#000" stroke-width="1.1"/>
<line x1="224" y1="645.2" x2="240" y2="645.2" stroke="#000" stroke-width="1"/>
<line x1="231.9" y1="645.2" x2="231.9" y2="648" stroke="#000" stroke-width="1"/>
<rect x="281.5" y="562.2" width="4.6" height="4.6" fill="#1f3c78"/>
<rect x="289.4" y="559.4" width="4.6" height="4.6" fill="#8f88c8"/>
<rect x="285.3" y="606.4" width="4.6" height="4.6" fill="#8f88c8"/>
<rect x="289.4" y="629.3" width="4.6" height="4.6" fill="#8f88c8"/>
<rect x="281.5" y="633.6" width="4.6" height="4.6" fill="#5aa6e2"/>
<line x1="269.5" y1="600.5" x2="306.2" y2="600.5" stroke="#000" stroke-width="1.1"/>
<line x1="278.5" y1="584.5" x2="297.1" y2="584.5" stroke="#000" stroke-width="1.1"/>
<line x1="278.5" y1="616.5" x2="297.1" y2="616.5" stroke="#000" stroke-width="1.1"/>
<line x1="287.5" y1="584.5" x2="287.5" y2="616.5" stroke="#000" stroke-width="1.1"/>
<text x="231.9" y="665.91" font-size="10.3" text-anchor="middle" textLength="27.4" lengthAdjust="spacingAndGlyphs">CYTL1</text>
<text x="287.6" y="665.91" font-size="10.3" text-anchor="middle" textLength="27.4" lengthAdjust="spacingAndGlyphs">CYTL1</text>
<text x="231.9" y="676.9" font-size="9.6" text-anchor="middle">low</text>
<text x="287.6" y="676.9" font-size="9.6" text-anchor="middle">high</text>
<text x="334.4" y="517.8" font-size="14.4" stroke="#000" stroke-width="0.3" font-weight="bold" textLength="8.55" lengthAdjust="spacingAndGlyphs">E</text>
<line x1="403.5" y1="532.8" x2="403.5" y2="650" stroke="#000" stroke-width="1.3"/>
<line x1="403.5" y1="649.5" x2="510.5" y2="649.5" stroke="#000" stroke-width="1.3"/>
<line x1="400.4" y1="649.8" x2="403.5" y2="649.8" stroke="#000" stroke-width="1"/>
<text x="397" y="653.22" font-size="9.5" text-anchor="end">0</text>
<line x1="400.4" y1="611.5" x2="403.5" y2="611.5" stroke="#000" stroke-width="1"/>
<text x="397" y="614.92" font-size="9.5" text-anchor="end">50</text>
<line x1="400.4" y1="573.2" x2="403.5" y2="573.2" stroke="#000" stroke-width="1"/>
<text x="397" y="576.62" font-size="9.5" text-anchor="end">100</text>
<line x1="400.4" y1="534.9" x2="403.5" y2="534.9" stroke="#000" stroke-width="1"/>
<text x="397" y="538.32" font-size="9.5" text-anchor="end">150</text>
<line x1="424.8" y1="649.5" x2="424.8" y2="652.8" stroke="#000" stroke-width="1"/>
<line x1="457.6" y1="649.5" x2="457.6" y2="652.8" stroke="#000" stroke-width="1"/>
<line x1="489.8" y1="649.5" x2="489.8" y2="652.8" stroke="#000" stroke-width="1"/>
<rect x="413.8" y="574" width="21.6" height="75.7" fill="#c9887c"/>
<rect x="446.4" y="625.4" width="21.4" height="24.3" fill="#b9d3f0"/>
<rect x="478.8" y="624.1" width="21.5" height="25.6" fill="#b9d3f0"/>
<circle cx="424.7" cy="574.3" r="2.8" fill="#c0102e" stroke="#111" stroke-width="0.85"/>
<circle cx="428.5" cy="574.3" r="2.8" fill="#c0102e" stroke="#111" stroke-width="0.85"/>
<circle cx="421" cy="574.3" r="2.8" fill="#c0102e" stroke="#111" stroke-width="0.85"/>
<circle cx="432.2" cy="574.3" r="2.8" fill="#c0102e" stroke="#111" stroke-width="0.85"/>
<circle cx="416.9" cy="574.3" r="2.8" fill="#c0102e" stroke="#111" stroke-width="0.85"/>
<circle cx="461.2" cy="600.8" r="3.25" fill="#5ea4de"/>
<circle cx="454" cy="606.1" r="3.25" fill="#5ea4de"/>
<circle cx="454" cy="634.2" r="3.25" fill="#5ea4de"/>
<circle cx="461.2" cy="640" r="3.25" fill="#5ea4de"/>
<circle cx="457.8" cy="650.1" r="3.25" fill="#5ea4de"/>
<circle cx="490" cy="600.8" r="3.25" fill="#5ea4de"/>
<circle cx="490" cy="617.7" r="3.25" fill="#5ea4de"/>
<circle cx="483" cy="634.9" r="3.25" fill="#5ea4de"/>
<circle cx="490" cy="636.4" r="3.25" fill="#5ea4de"/>
<circle cx="497.2" cy="635.3" r="3.25" fill="#5ea4de"/>
<line x1="457.5" y1="615.5" x2="457.5" y2="635.5" stroke="#000" stroke-width="1.1"/>
<line x1="451.9" y1="615.5" x2="462.5" y2="615.5" stroke="#000" stroke-width="1.1"/>
<line x1="451.9" y1="635.5" x2="462.5" y2="635.5" stroke="#000" stroke-width="1.1"/>
<line x1="490.5" y1="617.5" x2="490.5" y2="631.5" stroke="#000" stroke-width="1.1"/>
<line x1="484.5" y1="617.5" x2="495.5" y2="617.5" stroke="#000" stroke-width="1.1"/>
<line x1="484.5" y1="631.5" x2="495.5" y2="631.5" stroke="#000" stroke-width="1.1"/>
<path d="M427.5 548.1 V532.5 H485.5 V587.7" fill="none" stroke="#000" stroke-width="1.1"/>
<path d="M425.5 565 V560.5 H458.5 V597.2" fill="none" stroke="#000" stroke-width="1.1"/>
<text x="456.5" y="533.7" font-size="10" text-anchor="middle">*</text>
<text x="442.2" y="561.5" font-size="10" text-anchor="middle">**</text>
<text x="487.8" y="562.98" font-size="9.4" textLength="21.2" lengthAdjust="spacingAndGlyphs">n = 5</text>
<text x="411.4" y="665.76" font-size="9.9" text-anchor="end" textLength="37" lengthAdjust="spacingAndGlyphs">rhCYTL1</text>
<text x="411.4" y="679.86" font-size="9.9" text-anchor="end" textLength="76.6" lengthAdjust="spacingAndGlyphs">CAS 445479-97-0</text>
<text x="411.4" y="693.76" font-size="9.9" text-anchor="end" textLength="46" lengthAdjust="spacingAndGlyphs">RS 504393</text>
<text x="424.6" y="665.51" font-size="9.2" text-anchor="middle">+</text>
<text x="457.2" y="665.51" font-size="9.2" text-anchor="middle">+</text>
<text x="489.2" y="665.51" font-size="9.2" text-anchor="middle">+</text>
<text x="424.6" y="679.61" font-size="9.2" text-anchor="middle">-</text>
<text x="457.2" y="679.61" font-size="9.2" text-anchor="middle">+</text>
<text x="489.2" y="679.61" font-size="9.2" text-anchor="middle">-</text>
<text x="424.6" y="693.51" font-size="9.2" text-anchor="middle">-</text>
<text x="457.2" y="693.51" font-size="9.2" text-anchor="middle">-</text>
<text x="489.2" y="693.51" font-size="9.2" text-anchor="middle">+</text>
<text transform="translate(356,591.3) rotate(-90)" x="0" y="3.6" font-size="10" text-anchor="middle" textLength="80.8" lengthAdjust="spacingAndGlyphs">Cell survival fraction</text>
<text transform="translate(369.4,591.3) rotate(-90)" x="0" y="3.6" font-size="10" text-anchor="middle" textLength="80.8" lengthAdjust="spacingAndGlyphs">(relative to controls)</text>
<rect x="0" y="0" width="520" height="1.45" fill="#000"/>
<rect x="0" y="0" width="1.5" height="705" fill="#000"/>
<rect x="518.55" y="0" width="1.45" height="705" fill="#000"/>
<rect x="0" y="703.65" width="520" height="1.35" fill="#000"/>
</svg>
</body></html>
